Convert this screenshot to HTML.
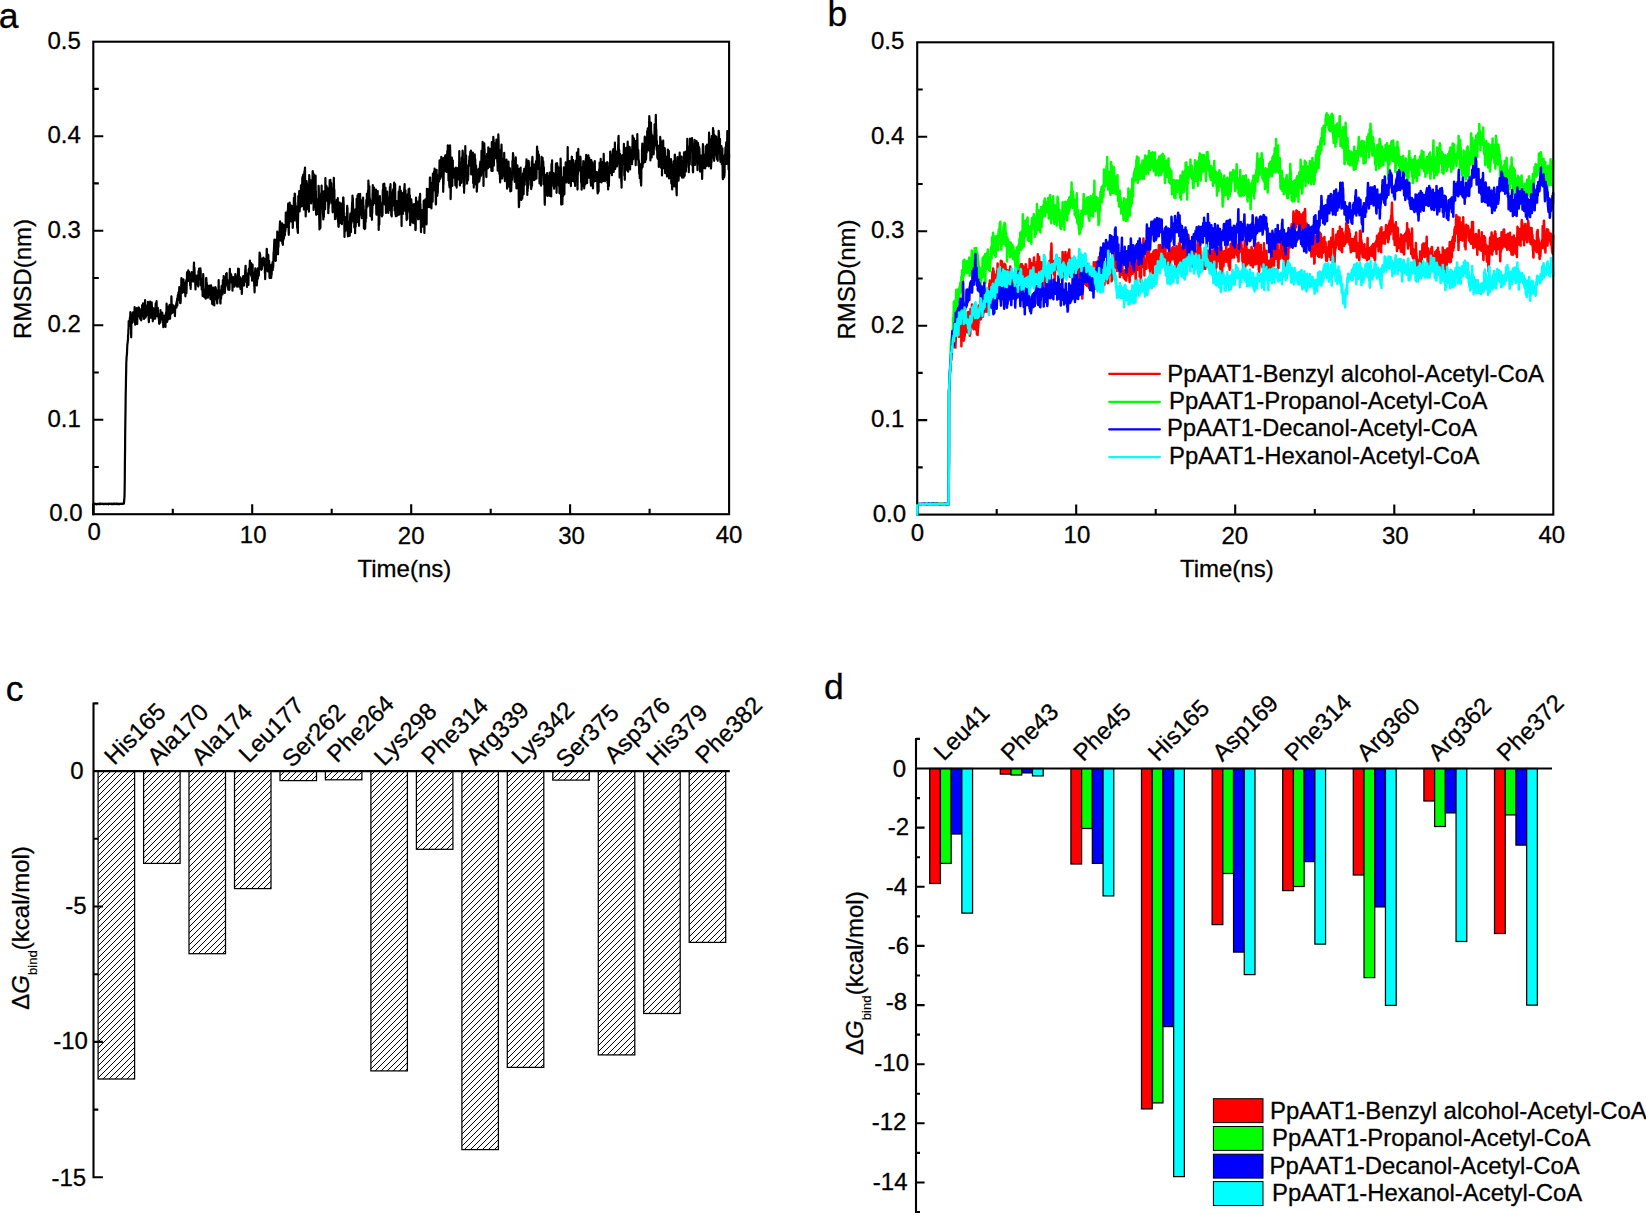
<!DOCTYPE html>
<html lang="en"><head><meta charset="utf-8"><title>Figure</title>
<style>html,body{margin:0;padding:0;background:#fff}body{width:1646px;height:1215px;overflow:hidden}</style></head>
<body>
<svg width="1646" height="1215" viewBox="0 0 1646 1215" style="display:block;font-family:'Liberation Sans', Arial, Helvetica, sans-serif" font-size="24" fill="#000">
<style>text{stroke:#000;stroke-width:0.3px;stroke-linejoin:round}</style>
<defs><pattern id="hatch" patternUnits="userSpaceOnUse" width="6" height="6"><rect width="6" height="6" fill="#fff"/><path d="M-1,7 L7,-1 M-1,1 L1,-1 M5,7 L7,5" stroke="#000" stroke-width="1.0"/></pattern></defs>
<g stroke="#000" stroke-width="2.1" fill="none" stroke-linecap="butt">
<path transform="scale(0.1)" d="M933,5142l2-104 1 0 2 1 1 0 2 1 1-1 2-2 1 1 2 1 1-1 2 0 1 0 2 1 1 0 2-1 1 2 2 0 1 2 2 0 1 1 2-2 1 1 2-2 1-1 2 0 1 3 2-1 1-1 2-1 1 2 2-1 1 1 2 0 1-2 2 1 2 0 1-2 2 1 1 1 2-1 1 0 2 2 1-1 2-2 1 2 2-1 1 0 2 1 1-3 2 0 1 3 2 0 1-1 2 0 1-1 2 1 1-1 2-1 1 2 2 0 1 0 2 0 1 2 2 0 1-1 2-1 1-1 2 2 1 1 2-2 2 3 1-1 2-1 1-2 2 0 1 1 2 0 1 0 2-2 1 1 2 1 1 0 2 0 1 0 2 2 1-1 2 0 1-2 2 0 1 0 2 0 1 1 2-1 1 0 2 0 1 2 2-1 1 3 2 1 1-1 2 0 1-1 2-4 1 2 2 1 2-1 1-1 2 1 1 0 2-1 1 0 2 1 1 0 2 0 1 1 2-1 1 1 2-2 1 0 2 0 1 1 2 0 1 2 2 0 1-1 2 2 1-3 2 2 1-2 2 1 1-2 2 0 1 2 2-2 1-2 2 1 1 1 2 1 1 1 2-2 1 1 2 0 2 1 1 0 2 1 1-2 2 0 1-1 2 0 1 1 2 0 1 1 2-1 1 1 2-1 1 2 2 0 1-3 2 1 1 1 2-1 1-2 2 2 1 0 2 1 1 1 2-2 1 0 2 0 1 0 2 0 1 0 2 0 1 2 2 0 1-2 2 0 2 0 1-1 2 1 1 0 2-1 1 1 2 0 1-1 2-1 1-1 2 1 1 1 2 2 1-2 2-1 1 1 2-1 1 0 2-1 1 0 2 1 1-1 2 2 1-1 2 0 1-8 2-22 1-18 2-20 1-46 2-150 1-150 2-150 1-150 2-146 2-143 1-91 2-83 1-79 2-82 1-74 2-30 1-26 2-15 1-7 2-45 1-29 2-35 1-1 2-16 1-11 2-17 1-43 2-10 1-36 2-28 1-66 2 54 1-44 2 3 1-9 2 36 1-9 2-55 1-6 2-12 1 11 2-59 1 13 2 104 2-7 1 55 2 88 1-73 2-116 1-14 2 43 1 19 2-72 1-10 2 3 1 7 2 0 1-31 2-6 1 8 2 49 1-34 2 30 1-52 2 67 1-5 2-14 1 51 2-102 1-49 2 54 1-16 2 1 1 136 2-41 1-14 2-12 1 39 2-15 2-11 1-67 2-3 1 9 2-52 1 53 2 28 1 80 2-100 1-34 2-21 1-6 2 32 1 9 2 17 1 9 2-9 1-65 2 6 1 31 2 36 1 21 2-79 1-1 2 16 1 35 2 50 1-22 2-58 1 24 2 0 1 6 2-9 1 74 2-23 2 15 1-74 2 30 1-41 2-58 1 35 2 37 1-12 2 9 1 40 2-40 1-87 2 44 1 23 2 47 1-29 2 44 1 26 2-86 1 43 2-52 1-52 2 17 1-2 2-57 1 55 2 58 1 64 2-25 1-78 2-20 1 64 2 31 1 8 2-33 2 9 1-9 2-15 1 17 2-2 1-9 2 7 1-25 2-79 1 13 2 36 1 88 2-36 1 78 2 24 1-91 2-43 1 9 2 81 1-11 2 8 1-54 2-103 1 29 2 53 1 56 2-16 1-5 2 43 1-33 2 33 1-75 2-50 1-28 2 50 1-8 2 26 2 26 1 13 2 50 1 32 2-67 1 1 2-13 1-51 2 92 1 15 2-30 1-33 2 16 1-53 2 12 1 59 2 24 1-62 2-26 1 90 2-86 1-23 2-45 1 48 2 25 1 52 2-130 1 36 2-52 1 58 2 10 1 82 2-13 1-59 2 66 2-69 1-8 2 61 1 9 2 9 1-9 2 14 1 23 2-6 1 27 2 31 1-37 2-61 1 64 2-23 1 18 2 28 1-64 2 15 1-77 2 56 1-21 2 21 1 29 2-35 1 7 2-29 1 14 2 52 1-6 2-12 1-50 2 39 1-7 2 70 2-55 1 35 2 62 1-38 2-75 1 73 2 14 1-7 2 15 1-55 2 20 1 10 2-56 1 22 2-38 1 36 2 33 1 44 2-127 1 13 2-23 1-4 2-7 1 0 2-86 1 70 2 73 1 18 2 22 1-81 2-46 1 43 2 47 1-27 2-88 2 129 1-67 2 24 1-77 2 49 1-8 2 52 1 7 2-94 1-32 2 33 1 40 2 64 1-30 2-31 1-14 2-14 1 44 2-17 1-20 2-71 1-70 2 46 1 58 2 2 1 21 2 21 1-17 2 34 1-50 2-7 1-20 2 11 1 30 2 26 2-20 1 6 2-34 1-3 2 55 1-35 2 36 1-4 2-18 1 60 2-55 1-36 2-13 1 3 2-5 1 21 2-15 1 1 2-29 1 43 2-37 1-26 2 4 1 6 2-38 1 71 2-51 1-24 2-20 1-13 2 35 1 3 2-45 1-18 2 3 2 74 1-44 2-55 1-29 2 7 1 92 2-61 1 10 2 111 1-61 2 45 1 16 2-24 1-89 2 8 1-20 2-83 1-42 2 43 1 32 2 59 1 14 2-38 1-26 2-5 1-48 2 59 1 1 2-39 1-10 2-30 1 3 2 30 1-4 2 48 2 55 1-63 2-10 1-23 2 77 1-12 2-2 1 11 2 60 1-42 2-70 1-25 2 26 1-12 2-39 1 130 2-44 1-49 2-40 1-65 2-12 1 20 2 24 1-9 2 47 1 8 2-39 1-68 2 52 1 16 2 5 1-47 2 34 1-45 2 74 1 9 2 7 2-36 1-38 2 94 1 28 2-37 1 22 2 47 1-79 2-24 1-23 2 28 1-51 2 26 1-45 2 59 1 32 2-33 1 27 2-45 1-7 2 60 1-10 2 10 1-51 2 40 1 11 2-66 1-79 2-43 1 54 2 29 1-34 2 44 1 67 2-5 2-18 1 47 2 58 1 27 2-77 1 16 2-12 1-23 2-34 1 24 2-32 1 49 2 8 1 29 2-75 1 7 2 37 1 3 2-5 1-42 2 76 1 21 2-17 1-136 2 1 1 43 2-8 1-62 2 60 1 40 2-43 1 7 2-3 1 44 2-72 2-35 1 24 2 12 1 133 2-40 1 15 2-18 1-24 2 30 1 80 2-44 1 22 2-3 1 10 2-4 1 84 2-99 1-18 2-44 1-60 2 41 1 107 2 26 1 30 2-12 1-31 2 71 1-54 2 42 1-47 2-15 1 10 2-5 1 13 2 13 2 57 1-39 2-99 1-67 2-3 1 22 2 74 1-49 2 33 1 26 2 18 1 1 2 30 1 7 2 37 1-5 2-114 1 35 2 30 1-23 2-17 1 61 2 2 1-38 2-3 1 7 2-56 1 55 2 6 1 24 2-68 1 109 2 8 1 2 2-56 2-31 1-51 2 96 1-43 2 21 1 26 2-34 1 41 2 79 1-28 2 31 1-14 2-52 1-28 2-74 1 36 2 76 1 8 2 15 1 28 2-58 1 9 2 66 1-79 2-13 1-27 2-5 1-25 2 11 1-47 2 5 1 4 2 3 1 81 2-9 2 5 1-18 2 58 1-96 2 9 1 61 2 61 1-30 2-27 1 18 2-29 1 18 2-49 1 30 2-12 1-52 2-100 1 94 2 26 1 35 2-53 1 49 2 7 1-24 2 27 1 13 2-8 1 60 2 8 1-37 2-56 1-17 2 61 1-22 2-70 2-34 1 7 2 36 1-47 2 32 1 43 2 13 1-92 2-8 1-44 2 49 1-33 2 42 1 10 2-108 1 7 2 66 1 15 2-9 1-45 2 51 1 85 2-12 1-23 2-17 1-63 2-2 1-23 2 74 1-40 2-85 1 11 2 23 1 15 2-56 1 83 2 13 2-13 1-19 2 39 1-14 2 21 1-5 2 8 1 52 2-25 1-43 2 51 1-5 2-36 1 47 2-29 1 41 2-72 1-90 2-47 1 69 2-1 1 21 2 15 1-58 2 89 1-43 2 18 1-54 2 26 1 45 2-12 1-29 2 17 1-12 2 35 2 92 1-77 2-30 1-4 2 8 1-33 2 44 1 36 2-4 1-58 2 72 1-64 2 30 1 40 2-84 1 16 2 56 1-3 2-61 1-50 2 47 1-8 2-17 1 51 2-14 1 10 2 32 1 14 2-17 1-2 2 23 1 7 2-61 1 4 2-30 2-33 1 6 2-66 1 86 2-20 1 42 2-69 1-38 2 140 1 39 2-46 1-30 2-16 1 31 2-5 1-6 2 16 1-38 2 117 1-51 2 38 1-65 2 12 1 35 2-27 1 36 2 25 1 47 2-36 1-48 2-54 1 26 2-45 1 16 2 15 2-20 1-34 2 34 1 19 2 10 1-10 2 43 1-63 2 18 1-26 2 37 1-31 2-22 1 21 2-90 1 15 2-53 1-3 2 64 1 27 2-17 1 7 2 2 1 8 2 72 1-25 2 72 1-75 2 3 1 0 2-22 1-42 2 51 1 37 2-9 2 38 1-28 2-125 1 41 2-51 1 58 2-42 1 2 2-8 1-33 2-57 1 26 2 27 1 60 2-27 1 18 2-39 1 24 2-66 1 122 2 8 1-52 2 25 1 36 2 1 1 36 2-33 1-114 2-12 1 90 2 45 1 7 2-52 1 43 2 24 2-48 1-28 2 37 1 50 2 50 1-4 2 63 1-90 2-1 1-41 2-86 1-23 2 92 1-34 2-32 1 65 2 40 1-16 2 52 1-99 2 104 1-2 2-29 1-24 2-36 1-25 2 2 1-57 2 103 1-34 2 13 1-31 2-23 1 35 2 7 2-54 1-20 2 27 1-105 2-76 1 122 2-12 1-97 2 14 1 24 2 40 1 32 2 5 1 18 2-44 1 19 2 14 1 37 2-32 1 25 2-19 1-67 2-7 1-11 2-4 1 11 2 19 1 17 2-42 1 62 2-73 1 6 2 36 1 18 2 20 1-30 2 29 2-68 1 48 2 96 1-2 2 61 1-55 2-90 1-32 2 80 1 16 2-111 1 5 2 19 1-40 2-94 1 1 2 54 1 24 2 4 1 64 2 57 1-16 2 38 1-23 2-20 1-123 2 90 1 12 2 15 1-19 2-39 1 45 2 43 1 72 2 12 2-67 1-14 2 36 1 1 2-15 1-36 2 30 1-5 2 70 1 0 2-134 1 109 2-23 1-50 2-6 1 20 2-35 1-22 2-19 1 81 2-36 1 12 2-6 1-42 2-55 1-52 2 32 1-51 2-45 1-24 2-37 1 57 2 37 1-38 2 90 2-21 1 16 2 0 1 72 2-3 1-59 2-88 1-65 2 26 1 19 2 38 1-37 2 10 1-36 2-100 1 36 2 102 1 26 2 49 1 15 2-133 1-17 2 77 1-69 2-73 1 36 2 42 1 2 2-31 1-29 2-59 1-30 2-28 1-17 2 32 2 134 1 0 2-26 1 28 2-65 1 41 2 53 1-102 2-18 1 7 2-32 1-33 2 18 1 181 2 6 1-13 2 23 1-59 2-84 1 36 2 56 1-149 2 60 1 76 2-39 1-41 2 43 1-68 2 37 1 38 2-27 1-55 2 43 1-24 2 1 2-167 1 105 2-59 1 48 2 30 1-34 2-31 1-55 2 29 1 77 2 33 1-46 2-38 1-79 2 21 1-36 2-54 1 53 2 131 1 75 2 53 1-167 2 63 1-94 2-22 1-87 2-16 1 73 2 42 1 2 2 4 1 41 2-18 1-116 2 138 2-25 1 49 2-44 1-66 2 16 1-62 2 123 1-91 2 51 1-45 2 3 1 178 2-14 1-69 2-120 1 6 2 3 1 115 2-123 1-98 2 64 1 51 2 112 1-97 2-172 1 23 2-16 1 45 2 120 1-80 2 120 1 7 2-29 1-54 2-5 2-3 1 78 2 78 1-30 2 33 1 47 2 13 1-43 2 65 1 8 2 15 1-120 2-80 1-168 2 133 1 20 2-91 1 12 2 22 1-144 2 55 1 94 2 52 1-88 2-46 1 70 2 26 1-98 2-71 1 56 2-71 1-38 2 137 1-17 2-70 1 32 2 127 2-58 1-98 2-128 1 203 2-216 1 134 2-68 1-64 2-22 1 51 2 127 1-53 2 60 1 166 2-277 1-4 2-102 1 138 2-85 1-60 2-29 1 102 2 145 1 15 2 159 1 67 2-93 1 19 2-43 1-31 2-154 1-53 2 67 1-44 2 122 2 30 1-69 2 110 1-2 2 69 1-62 2-143 1 85 2-22 1 63 2 61 1 42 2-182 1-183 2 29 1 101 2-45 1 46 2-61 1 2 2 2 1-25 2 57 1 30 2 116 1-25 2 56 1-64 2 29 1-53 2-70 1 108 2 10 1 15 2-124 2-153 1-22 2 86 1-75 2 178 1-117 2 104 1 214 2-272 1-85 2 148 1 1 2 36 1 0 2 129 1 12 2-85 1-26 2-87 1 40 2-155 1 147 2 10 1 171 2 63 1-162 2 77 1-62 2 7 1 81 2 2 1 11 2 11 1-85 2-37 2 78 1 72 2-43 1 3 2-87 1-156 2 36 1 103 2 72 1 94 2 75 1 57 2-18 1-7 2-88 1 38 2-14 1 74 2-163 1-30 2-111 1 11 2-56 1 99 2-18 1-157 2 203 1-68 2-77 1 54 2 7 1-44 2 123 1-10 2 86 2 38 1 27 2-30 1-45 2-53 1 103 2-194 1-57 2-10 1 84 2 17 1-43 2-14 1 141 2-97 1-215 2 221 1-80 2-3 1 35 2-99 1 135 2-14 1-114 2 56 1 57 2-7 1 39 2-126 1 106 2-77 1 107 2-82 1 7 2 190 2-87 1 37 2-31 1-170 2 103 1 60 2-154 1 9 2-97 1 26 2 110 1 2 2-100 1-42 2 53 1 26 2 37 1 65 2-147 1 44 2 132 1 21 2-86 1-35 2 28 1 53 2-18 1 108 2 44 1-125 2 18 1-48 2-85 1-3 2 28 2-130 1 33 2 103 1-23 2 15 1 108 2 1 1 25 2 152 1-49 2-31 1-5 2 83 1-43 2-45 1-29 2 73 1-76 2 90 1-32 2-130 1 70 2 36 1-90 2 55 1 29 2-30 1-88 2 209 1 21 2 27 1 25 2 6 1-3 2-89 1 38 2-44 2-51 1 67 2-36 1-125 2 23 1 90 2 13 1 78 2-35 1-83 2 83 1 3 2-112 1 64 2-18 1 84 2 27 1-6 2-203 1 72 2 50 1 26 2 4 1-65 2-3 1-140 2 64 1-65 2 55 1 7 2 159 1 5 2-5 1 20 2 152 2-136 1 11 2 9 1-7 2-21 1-54 2 101 1 34 2-69 1-32 2 22 1 31 2 23 1-38 2-112 1 98 2-132 1-39 2 75 1-52 2 159 1 101 2 22 1-61 2-35 1 4 2-54 1 139 2-103 1 77 2-19 1-34 2 35 1 46 2-20 2-68 1-90 2-43 1 75 2 33 1 25 2-84 1 135 2-163 1 42 2 34 1-65 2-84 1-1 2-55 1 26 2-62 1-37 2 81 1-58 2 58 1 37 2 99 1 11 2-77 1 109 2-80 1-29 2-10 1 178 2-51 1-74 2 46 1-23 2 159 2-128 1 16 2-101 1 148 2-110 1 4 2-75 1 83 2 20 1-201 2 108 1 66 2 4 1 55 2-143 1-121 2 109 1 133 2-130 1-74 2-24 1-30 2 119 1 21 2 106 1 71 2-141 1 30 2-192 1 52 2 76 1-49 2-96 1 32 2 148 2-30 1-92 2 79 1 70 2-89 1 12 2 92 1-2 2 23 1-65 2-3 1-86 2-21 1 152 2-45 1-79 2-13 1-45 2 85 1 83 2-87 1 88 2 138 1-147 2 40 1-11 2 80 1 30 2 16 1-66 2-93 1 150 2-142 1 51 2 27 2-107 1-15 2 86 1-182 2 81 1-32 2-16 1-98 2 79 1-69 2 87 1-78 2 79 1 31 2-159 1 22 2 22 1-144 2 47 1 120 2-50 1 113 2-114 1-60 2 87 1 59 2-23 1 4 2 71 1-59 2 161 1-31 2-8 1-29 2-52 2 81 1-85 2 5 1 41 2 80 1 35 2-100 1 36 2-57 1-105 2-57 1-63 2 91 1 110 2-82 1-3 2-66 1 48 2-64 1-9 2 17 1 23 2 24 1 22 2 22 1-43 2 91 1-115 2 68 1-45 2 52 1 46 2-142 1 90 2 126 1 26 2 8 2-185 1 31 2-41 1 132 2-27 1-44 2-102 1 135 2-20 1 17 2 100 1-5 2 1 1 160 2-115 1-63 2 40 1 85 2-166 1-1 2-62 1-57 2 105 1-49 2 67 1 15 2 3 1 10 2-76 1 27 2 25 1 29 2-30 1 66 2 12 2-30 1 22 2-29 1 26 2-193 1-59 2 32 1 48 2-139 1 68 2 60 1 15 2 7 1-87 2 60 1-128 2 146 1-44 2 105 1-140 2 76 1 25 2-64 1-62 2 133 1 25 2 92 1-60 2-16 1 6 2 24 1-9 2 27 1-69 2-117 2 180 1-10 2 10 1-67 2 71 1-12 2 43 1-105 2-12 1 2 2-41 1 33 2 95 1-86 2-31 1 20 2-77 1-56 2 133 1 50 2-141 1-72 2 106 1 107 2 15 1 4 2 80 1-71 2 54 1 28 2-137 1 37 2-28 1-66 2-47 2 57 1 7 2 66 1-153 2-10 1 128 2-9 1-49 2 1 1-112 2-23 1 127 2 46 1 106 2-40 1-24 2-200 1 78 2 214 1 13 2-52 1 66 2 2 1-32 2-72 1-5 2 50 1-93 2 47 1 8 2 90 1 0 2-108 1 103 2-46 2-89 1 29 2-23 1 82 2-129 1-60 2 21 1 169 2 41 1-120 2-132 1 27 2-56 1 110 2 36 1 9 2-30 1 121 2-114 1-90 2 126 1 102 2-59 1 36 2 149 1-140 2-31 1 17 2-175 1 47 2 73 1-12 2 79 1 20 2-66 2 17 1 18 2-145 1-32 2-12 1 1 2 19 1-63 2 67 1-103 2 142 1 35 2 91 1-11 2-74 1-119 2 91 1 5 2 32 1 49 2 66 1-53 2 107 1-81 2-30 1 16 2 35 1 49 2-204 1 120 2-151 1-14 2 61 1 104 2-108 2-105 1 133 2 45 1-74 2 5 1-115 2 125 1-13 2 131 1-177 2 126 1 173 2-50 1-15 2-158 1 64 2 25 1-28 2-96 1 71 2-42 1 23 2 68 1 6 2 9 1 90 2-116 1 124 2-109 1-62 2 57 1 65 2 10 1-59 2-49 1 13 2-51 2 83 1-12 2 122 1-90 2-15 1 30 2-94 1-17 2 252 1-69 2 67 1-138 2-184 1 100 2 30 1 36 2-18 1-25 2-71 1 128 2-123 1 102 2-18 1-83 2-20 1 118 2 57 1 3 2-21 1-102 2 121 1-57 2-43 1-28 2-15 2-80 1 36 2-12 1 24 2-78 1 216 2-116 1 52 2 41 1 66 2 124 1-41 2-14 1-94 2 100 1-151 2-19 1 28 2 54 1 31 2 48 1-7 2-59 1-16 2 84 1-32 2 18 1-62 2-173 1-10 2 54 1 135 2 66 1 68 2-141 2 15 1-70 2 26 1-37 2-128 1 75 2 24 1 43 2-90 1 81 2 48 1 39 2 30 1-122 2-234 1 117 2-75 1 12 2 101 1-7 2-1 1 37 2-181 1 173 2-70 1-36 2 50 1-25 2-65 1 16 2-11 1-27 2 175 1-143 2-151 2 8 1-10 2 176 1 13 2 52 1 16 2-103 1 57 2-15 1 114 2-63 1-57 2 26 1 24 2-188 1 118 2 55 1 17 2-135 1-145 2 36 1 93 2 40 1-90 2 84 1-114 2-68 1 65 2-17 1-15 2-65 1 162 2-75 1 64 2 72 2-21 1 5 2 70 1 81 2-4 1-173 2-140 1 7 2-36 1 102 2 25 1-14 2 97 1 50 2-58 1-12 2 42 1-73 2-8 1-103 2 16 1 26 2-21 1 0 2 48 1 0 2-85 1-43 2-84 1 168 2 13 1 5 2-45 1 28 2 8 2-89 1-12 2 89 1-144 2-56 1 84 2-68 1 83 2-88 1 51 2 61 1 5 2 28 1-54 2-32 1-7 2 41 1 246 2-131 1 57 2-115 1-136 2-14 1 32 2 18 1-2 2 25 1 24 2 36 1-118 2 14 1-55 2 50 1 8 2 28 2-38 1-48 2 20 1 81 2 65 1-146 2 43 1 40 2-111 1-33 2 15 1 79 2-153 1 65 2 24 1 59 2 134 1 71 2-81 1-37 2 15 1 79 2 72 1-38 2 58 1-135 2-103 1-183 2 49 1 131 2 102 1 256 2-63 1-64 2-129 1-54 2-28 2 22 1-21 2-79 1 144 2 46 1 94 2-169 1-77 2-8 1 147 2-16 1 21 2-11 1 26 2-44 1 49 2-78 1-5 2 31 1 7 2 35 1-80 2 37 1-24 2 45 1 108 2-118 1 66 2-82 1-44 2 119 1 38 2-14 1 21 2 37 2-118 1 1 2-52 1 28 2-36 1 58 2-19 1-56 2 3 1 42 2 68 1-41 2-47 1 9 2 48 1-60 2-193 1 97 2 28 1 3 2 215 1-71 2 12 1-147 2 34 1 72 2 1 1-34 2 29 1-11 2 89 1-37 2-82 1-134 2 6 2 33 1-45 2-3 1-59 2 15 1 87 2 27 1 19 2-1 1 11 2 72 1 135 2-23 1 79 2-99 1-64 2 87 1-116 2-87 1 8 2-112 1-85 2 170 1-59 2 6 1 15 2-37 1 93 2 45 1 44 2 26 1-30 2 79 1 24 2-104 2-26 1-40 2 129 1 10 2-20 1-47 2 11 1-99 2 9 1-1 2 2 1-56 2 45 1-81 2-6 1 23 2 23 1-35 2-34 1-20 2 40 1-17 2 46 1-81 2 60 1 178 2-146 1 12 2 98 1-21 2 45 1-194 2 1 1 166 2-57 2 31 1-154 2 137 1 169 2-69 1-10 2-4 1 127 2-113 1-150 2 177 1-127 2 64 1-184 2 36 1 72 2-60 1 15 2 95 1-39 2 66 1 117 2-188 1 56 2 54 1-43 2 121 1 72 2-38 1-8 2-53 1-100 2 60 1-39 2-41 2 97 1-33 2 60 1-109 2-24 1 17 2 106 1-39 2 39 1-88 2 7 1 60 2-108 1-41 2 65 1-90 2 46 1 46 2-26 1 57 2 17 1-17 2-150 1-83 2 89 1-87 2 59 1 17 2-32 1 24 2-158 1 76 2 141 1-91 2 74 2 26 1 214 2-155 1-91 2-56 1-41 2-82 1 78 2-23 1 112 2 39 1-82 2 6 1 125 2-42 1 8 2 52 1-57 2 18 1 87 2 16 1-191 2 115 1-57 2-63 1-37 2 113 1-9 2-38 1-68 2 68 1 78 2-120 1-89 2 14 1 76 2-28 2 7 1-55 2 121 1-18 2 12 1 65 2-56 1-22 2 25 1-44 2 103 1-33 2-52 1-24 2-78 1 131 2 91 1-75 2-52 1-159 2 17 1 117 2-57 1 100 2 111 1-249 2 23 1-17 2 1 1-100 2 66 1-40 2 152 1 110 2-148 2-78 1 17 2 34 1 26 2 78 1-111 2 0 1 4 2 9 1-37 2 25 1-23 2 130 1-44 2-142 1 115 2 36 1-47 2-46 1 2 2 166 1-49 2 98 1 35 2-86 1 15 2-72 1-219 2 45 1 23 2 141 1 73 2 71 1-5 2 48 2-5 1-33 2 35 1 53 2 34 1-115 2-46 1-102 2-63 1 63 2-30 1 140 2-199 1-26 2 85 1 133 2-39 1 147 2 13 1-113 2-11 1 36 2-85 1 100 2-49 1 38 2 46 1-61 2 70 1-171 2 82 1-139 2 143 1-50 2 112 2 78 1-62 2-92 1 89 2-125 1 70 2-19 1-31 2-36 1 156 2-153 1-11 2 61 1 81 2 113 1 35 2-127 1-2 2 55 1-2 2-167 1 51 2 54 1-114 2-18 1 33 2 74 1 107 2 37 1-38 2-28 1-53 2-51 1-9 2-6 2 82 1 149 2-33 1 11 2-22 1-40 2 53 1 26 2-68 1-59 2 9 1-68 2 3 1 74 2-34 1-154 2 97 1-73 2-60 1-46 2 148 1-128 2 68 1 68 2 31 1-38 2 19 1 30 2-90 1 92 2 88 1-93 2-54 1-61 2 133 2-71 1-1 2-97 1 162 2-7 1 35 2 109 1 11 2-138 1 36 2 52 1-92 2-58 1-30 2 122 1 23 2-75 1 85 2 55 1-75 2-101 1 142 2 201 1 41 2-16 1-74 2-93 1-1 2 36 1-50 2 66 1-35 2 13 1-231 2-11 2 136 1 75 2 8 1 105 2-17 1-15 2-132 1 14 2 39 1 69 2 28 1-67 2-33 1-115 2 58 1-95 2 2 1 8 2 148 1 51 2-122 1-116 2 21 1-37 2 72 1 42 2 45 1-102 2-9 1 37 2 22 1-52 2-16 1 71 2-136 1 20 2 35 2-97 1-27 2 76 1-14 2 123 1 30 2 140 1-168 2 134 1-114 2 42 1 40 2-41 1-49 2-61 1-123 2 42 1-23 2 104 1-25 2 20 1 56 2-1 1 2 2-29 1-37 2 43 1 39 2-85 1 134 2-6 1-168 2 216 1-17 2-105 2 100 1-255 2 241 1-161 2-109 1-16 2 70 1-4 2 103 1-70 2 97 1-9 2-105 1 110 2 3 1-42 2 80 1-143 2-13 1 128 2-27 1 28 2 19 1-56 2 24 1-110 2 72 1-86 2 17 1-45 2 72 1 39 2 65 1-88 2-80 2-133 1-20 2 65 1 68 2 0 1 23 2-83 1-25 2 122 1 54 2-115 1 6 2 39 1-72 2 72 1 37 2 35 1 144 2-127 1 79 2 4 1 15 2-91 1-9 2-9 1 111 2-37 1 85 2-87 1-44 2-6 1-150 2 23 1 6 2 38 2 38 1-60 2-35 1 147 2-73 1-9 2-30 1 20 2 127 1 81 2-171 1 15 2 133 1-60 2 29 1 132 2 104 1 24 2-128 1-61 2-17 1-46 2-48 1 175 2-28 1 19 2 35 1-30 2-42 1-12 2 74 1-13 2-196 1 110 2 119 2-72 1-72 2-22 1 104 2-94 1 73 2 77 1-7 2-36 1-83 2-43 1 24 2-54 1 19 2-47 1 143 2 91 1-113 2 86 1-28 2-27 1 3 2 11 1-141 2 214 1-132 2-192 1 55 2 41 1-34 2-100 1 168 2 8 1 20 2-47 2 13 1-36 2 54 1-2 2 57 1 24 2-15 1-18 2 58 1-151 2 25 1 106 2-121 1 69 2-53 1 13 2-19 1-9 2 55 1-10 2-155 1 221 2-40 1-51 2 78 1 83 2-198 1 55 2-153 1 37 2 57 1 1 2-15 1-48 2 22 2 42 1 21 2-74 1 1 2 128 1 52 2-43 1 53 2 7 1 60 2-21 1-44 2-70 1 23 2-132 1 79 2-182 1 38 2 65 1 116 2 241 1-52 2-62 1-161 2 160 1-149 2 62 1-31 2 229 1-66 2-12 1-89 2-1 1 87 2-113 1-48 2-28 2-61 1-37 2 55 1 133 2 81 1-159 2-42 1 23 2 35 1-11 2-17 1 17 2 33 1-198 2 19 1 80 2 85 1 16 2-106 1-77 2 36 1-8 2 31 1 73 2-132 1-13 2-156 1 149 2 38 1-42 2 59 1 112 2 42 1-50 2-44 2 1 1-78 2-48 1 23 2 23 1 45 2-23 1-48 2 34 1-8 2 62 1 105 2 37 1-108 2-32 1-112 2 48 1-40 2-50 1 1 2 113 1 43 2-4 1 89 2-58 1-75 2 66 1-140 2 87 1 43 2 32 1 50 2-51 1 11 2-123 2-5 1 6 2 57 1 122 2-21 1 50 2-113 1 1 2-124 1-7 2-12 1 40 2 23 1-17 2-33 1 109 2-24 1-178 2 99 1 85 2 73 1 114 2-147 1-2 2-20 1-121 2-117 1 179 2-38 1 14 2 21 1 3 2 37 1-88 2 28 2 29 1-46 2-7 1 20 2 18 1-92 2 32 1 56 2 97 1 18 2 59 1-47 2-37 1 151 2-65 1-83 2-21 1 75 2-130 1 66 2 90 1 32 2-53 1-116 2-81 1 24 2 114 1 35 2 34 1-34 2 101 1-83 2-82 1 3 2-34 2 75 1 82 2-14 1-135 2-92 1 67 2-84 1 68 2-107 1 20 2 74 1-39 2 88 1 68 2 72 1-78 2-20 1-16 2 23 1-121 2 57 1 70 2-116 1-77 2 38 1 171 2 15 1-75 2-2 1-121 2 142 1-64 2 63 1-104 2 42 2-60 1 87 2 111 1 37 2-6 1 29 2-145 1-110 2 34 1 109 2-4 1 43 2-146 1 0 2-13 1 68 2 155 1 7 2 29 1-93 2-30 1 43 2-10 1-150 2 101 1 71 2-21 1 21 2-1 1-68 2-135 1 188 2-24 1-8 2 7 2 9 1 27 2-88 1 55 2 18 1-8 2-5 1 13 2-77 1 32 2 5 1 28 2 84 1 40 2 27 1-77 2 33 1 35 2-74 1-63 2 127 1-183 2 18 1 21 2-77 1 34 2 65 1-168 2 145 1 17 2-66 1 98 2-12 1-38 2-180 1 138 2 16 2-47 1 23 2 106 1-53 2-7 1-44 2-77 1-23 2 21 1 25 2 110 1-3 2-26 1 28 2-22 1 56 2-141 1-130 2 106 1 14 2 50 1-80 2 15 1 29 2 50 1 1 2 87 1-80 2 58 1-61 2-9 1-68 2 32 1-53 2 110 2-49 1 26 2-18 1-11 2-66 1 182 2-65 1 90 2-155 1 145 2 20 1 56 2-213 1 89 2-47 1 31 2 105 1-55 2-105 1 12 2-85 1 55 2-14 1 25 2-32 1-145 2 34 1 25 2 76 1 61 2-137 1 118 2 42 1-32 2 10 2-165 1 204 2-83 1-65 2 81 1 18 2-69 1-131 2 110 1 105 2-123 1-105 2 55 1 174 2-159 1 24 2-81 1 34 2 41 1 29 2-118 1-64 2 219 1 47 2-186 1 61 2 103 1-36 2-8 1-15 2 24 1 9 2 15 1-56 2 63 2-12 1-17 2-112 1-7 2 28 1-28 2-5 1-62 2 4 1-80 2-16 1 94 2 87 1-35 2-4 1 47 2 131 1 98 2-93 1-88 2-56 1 126 2-96 1 54 2-32 1-28 2 84 1 32 2 139 1-6 2 64 1-140 2-56 1-98 2-28 2 55 1-40 2 37 1-46 2-12 1 91 2-18 1-15 2 25 1-89 2-103 1 91 2 47 1 179 2-62 1-17 2 121 1-104 2-87 1 55 2-11 1 42 2-100 1 111 2-31 1-194 2 36 1-11 2 46 1 92 2-29 1-64 2 75 1-55 2-98 2-54 1 175 2 49 1 76 2-150 1-53 2-50 1 79 2 77 1-51 2-43 1 55 2-43 1-57 2-8 1 88 2 133 1-56 2-59 1-3 2 11 1 17 2-90 1 5 2-19 1 68 2 20 1-47 2 51 1 49 2-35 1-140 2-8 1-102 2 67 2 46 1 109 2 14 1-150 2-8 1-22 2-28 1 52 2 49 1 4 2-43 1-10 2-4 1 15 2 81 1 6 2 43 1-108 2 183 1-35 2-208 1 74 2 105 1-12 2-100 1 46 2-28 1 37 2 42 1-231 2 91 1 98 2 64 1-28 2-25 1-44 2 23 2 135 1-59 2 16 1 12 2 101 1 6 2 13 1-34 2 71 1-65 2-38 1 70 2-11 1 13 2-108 1 186 2-46 1 73 2-57 1-144 2 20 1-40 2 49 1-181 2-39 1-28 2 169 1 65 2-119 1 12 2 16 1-44 2 99 1-97 2-12 2-43 1 65 2-57 1 63 2-81 1-71 2-35 1 8 2 5 1 240 2-121 1 14 2-7 1 7 2 84 1-14 2-86 1-106 2 73 1 63 2-138 1 92 2-168 1 52 2 99 1-76 2-104 1 171 2-128 1 57 2-90 1 68 2 143 1-77 2-84 2-143 1-40 2 36 1 86 2 67 1 41 2 60 1-9 2 163 1-111 2-40 1-226 2 1 1 104 2-13 1 125 2 26 1 105 2-176 1-49 2 116 1 1 2-83 1-20 2 1 1 98 2 36 1-42 2-78 1 88 2 77 1-136 2 80 1-104 2-5 2-51 1-84 2 19 1 4 2 129 1 57 2-56 1-100 2-46 1-102 2 95 1 61 2-13 1 62 2 46 1 101 2-91 1 101 2-56 1 123 2-127 1 90 2-85 1 135 2-14 1-118 2 71 1-28 2 19 1 149 2-102 1-59 2 67 1-85 2 52 2 46 1-42 2 31 1-209 2 157 1-61 2-64 1 185 2 91 1-112 2 6 1-61 2-92 1 71 2 85 1 180 2-101 1 17 2-69 1-44 2 88 1-166 2-58 1-14 2 141 1 40 2 28 1 10 2 56 1-77 2-35 1-27 2 47 1-109 2 23 2 227 1-15 2-52 1-100 2 28 1 10 2 43 1-76 2 39 1 46 2 32 1-82 2 41 1 121 2-105 1 42 2-67 1-32 2-79 1-30 2 99 1 35 2 110 1-156 2 4 1-79 2 94 1 182 2-151 1 23 2-4 1 24 2-45 1-3 2 151 2-121 1 70 2 39 1-151 2-26 1 82 2 162 1-46 2-59 1 3 2 97 1 23 2 43 1-90 2-89 1-73 2 91 1-16 2-33 1 62 2 18 1-152 2 47 1-26 2 75 1 17 2 139 1-47 2-121 1-136 2-16 1 16 2 66 1 89 2 29 1-49 2 77 2-94 1 95 2 109 1 5 2 45 1 20 2-189 1-8 2-36 1-89 2-61 1 96 2-66 1 18 2 40 1-2 2 133 1 18 2-33 1-70 2 19 1 5 2-81 1-79 2 0 1-43 2 97 1 58 2-14 1 36 2 40 1-138 2 59 1 94 2-55 2-127 1 47 2-55 1 96 2 61 1 52 2-11 1-155 2 130 1-125 2 109 1 7 2-73 1-34 2 6 1 146 2-63 1 46 2-235 1 61 2 12 1 100 2-2 1 63 2-136 1 6 2-58 1 50 2 20 1-123 2 98 1 101 2-96 1 57 2-26 2-109 1 61 2-85 1 60 2-123 1-67 2 95 1 40 2 69 1-37 2-90 1 129 2-99 1 107 2 37 1 83 2-231 1 7 2-11 1 65 2-89 1 182 2-65 1-193 2 76 1 8 2-39 1 82 2 0 1-66 2-7 1-4 2 53 1-18 2 4 2-90 1-5 2 71 1 202 2-111 1-64 2 89 1 146 2 9 1-134 2 64 1-17 2-51 1-110 2 30 1 20 2 48 1-129 2-45 1 67 2 144 1 39 2-82 1 56 2-94 1-18 2-16 1-23 2-8 1 108 2 23 1-185 2 150 1 38 2-91 2 41 1 74 2 79 1-93 2-92 1-87 2 45 1-30 2 133 1-10 2 61 1-35 2-64 1-58 2 118 1-103 2 74 1 87 2-17 1 86 2-62 1-55 2 1 1-47 2 39 1-3 2 122 1-48 2 33 1-6 2-27 1-45 2 115 1 57 2-68 2-94 1-50 2-67 1-70 2 18 1 50 2 100 1 69 2 2 1-57 2-23 1 1 2 17 1-53 2-2 1-14 2-5 1 67 2 73 1-70 2-44 1 37 2 26 1-172 2 110 1 25 2-23 1 87 2-41 1-145 2-27 1-1 2 7 1 38 2-33 2 51 1 57 2-3 1-62 2 9 1-23 2 176 1-133 2-171 1-33 2 114 1 100 2-31 1 67 2-71 1 53 2-86 1-79 2 208 1-54 2 47 1 91 2-14 1-39 2-120 1 113 2-122 1-143 2 22 1 24 2 51 1 110 2-62 1-36 2-39 1-150 2 35 2 39 1-49 2 190 1 92 2-5 1 26 2-87 1 26 2-133 1-61 2 13 1 95 2-15 1-11 2 112 1-27 2-45 1 14 2-99 1-23 2 130 1 8 2 69 1-54 2 73 1-90 2-29 1-44 2 47 1 131 2-166 1 40 2-89 1 14 2-11 2-88 1 56 2-37 1 188 2-55 1 50 2 17 1 2 2-25 1-115 2 211 1-24 2 44 1-111 2 60 1-36 2 38 1-57 2-54 1 70 2 7 1 106 2-62 1-74 2 63 1-86 2 186 1 101 2 21 1-45 2-61 1-33 2-14 1-66 2 62 2 85 1 54 2-214 1 200 2-41 1-143 2-30 1 89 2-16 1-82 2-64 1 114 2-50 1-2 2-59 1-52 2 84 1 132 2-50 1-143 2-2 1 16 2-151 1 173 2-41 1 89 2 3 1-2 2-111 1 117 2 49 1 107 2-102 1 7 2-57" stroke="#000" stroke-width="22.0" stroke-linejoin="round"/>
<rect x="93.3" y="41.7" width="635.8" height="472.5"/>
<path d="M172.8,514.2 v-5.5 M252.2,514.2 v-10 M331.7,514.2 v-5.5 M411.2,514.2 v-10 M490.7,514.2 v-5.5 M570.1,514.2 v-10 M649.6,514.2 v-5.5 M93.3,467.0 h5.5 M93.3,419.7 h10 M93.3,372.5 h5.5 M93.3,325.2 h10 M93.3,278.0 h5.5 M93.3,230.7 h10 M93.3,183.4 h5.5 M93.3,136.2 h10 M93.3,88.9 h5.5"/>
<path d="M93.3,515.25 V503.8" stroke="#000" stroke-width="2.3"/>
</g>
<g text-anchor="end">
<text x="82.60000000000001" y="521.2">0.0</text>
<text x="80.9" y="426.7">0.1</text>
<text x="80.9" y="332.2">0.2</text>
<text x="80.9" y="237.7">0.3</text>
<text x="80.9" y="143.2">0.4</text>
<text x="80.9" y="48.7">0.5</text>
</g>
<g text-anchor="middle">
<text x="94.3" y="540.4">0</text>
<text x="253.2" y="543">10</text>
<text x="411.2" y="544.3">20</text>
<text x="571.6" y="543.8">30</text>
<text x="729.1" y="543">40</text>
<text x="404.4" y="577">Time(ns)</text>
</g>
<text transform="translate(31.3,279) rotate(-90)" text-anchor="middle">RMSD(nm)</text>
<text x="-1.2" y="27.7" font-size="35.5">a</text>
<g stroke="#000" stroke-width="2.1" fill="none" stroke-linecap="butt">
<path transform="scale(0.1)" d="M9172,5146l2-103 1 0 2 2 1-2 2 1 1 0 2 3 1-2 2-3 1 3 2-3 1-1 2 1 1 2 2-3 1 0 2 0 1 0 2 2 1-2 2 2 1-2 2 2 1 1 2 1 1-3 2 3 1 0 2-2 1-1 2-3 1-2 2 1 2 0 1 4 2 0 1 0 2 0 1 2 2 0 1 0 2-3 1 0 2 0 1 1 2-1 1 1 2 0 1 2 2-2 1-1 2-1 1 0 2 0 1-2 2 1 1 2 2 2 1-2 2-2 1 0 2-1 1 1 2 3 1 1 2 2 1-1 2 0 2-1 1-1 2 2 1-3 2-1 1 2 2-1 1-1 2 0 1-1 2 0 1-1 2 0 1 2 2-1 1 0 2 0 1 1 2 2 1 0 2 0 1-1 2 0 1-1 2 0 1 0 2-2 1-1 2 2 1 0 2 1 1 1 2 0 2 0 1 2 2 3 1-3 2-2 1 1 2-1 1 1 2-1 1 1 2 0 1 0 2 3 1-2 2-1 1 3 2-3 1 0 2-1 1 0 2 0 1 2 2 0 1-1 2-4 1-1 2 2 1 2 2 0 1 0 2 1 1 1 2-3 2-1 1 3 2 3 1 0 2-2 1-2 2 1 1 2 2-1 1-1 2-1 1 1 2-1 1 0 2 2 1-1 2 2 1-3 2-1 1 2 2-1 1-2 2 4 1 0 2-3 1 2 2 0 1 2 2-1 1 3 2 1 1-2 2-2 2-1 1-1 2-2 1-1 2 0 1 2 2 0 1-5 2-1 1 1 2 1 1 0 2 2 1-2 2 2 1 1 2-2 1 4 2-1 1 3 2 0 1-1 2 0 1-1 2 0 1 0 2 1 1 0 2 1 1-3 2 2 1-3 2 1 1 0 2-2 2 1 1 3 2 0 1 0 2 0 1-158 2-282 1-685 2-31 1-37 2-30 1-40 2-39 1-21 2-16 1-41 2-16 1-18 2-21 1-4 2-14 1 3 2 9 1-17 2-66 1-50 2 5 1-3 2-17 1-35 2 2 1 25 2 14 2-44 1-101 2 58 1 96 2-58 1-15 2-24 1-55 2 13 1 66 2 78 1-40 2 30 1-60 2 46 1-14 2 41 1-40 2-22 1-63 2-91 1 34 2 49 1-102 2 4 1-8 2 6 1-41 2-20 1 7 2 1 1 74 2 47 2 1 1-4 2 0 1-17 2-3 1 15 2 65 1-100 2-33 1 51 2-43 1-13 2 5 1 94 2 31 1-19 2-130 1 58 2 21 1 38 2-1 1-49 2 95 1 89 2-128 1-47 2 9 1-67 2-28 1 139 2-17 1-79 2 45 1 9 2-49 2 35 1 70 2 4 1 49 2-79 1 75 2-101 1 71 2-48 1 40 2-23 1-78 2-54 1-38 2 38 1 15 2 2 1-22 2 42 1-60 2 20 1-40 2 7 1 1 2 71 1 17 2 59 1-2 2-7 1-68 2 73 1-195 2 46 2-34 1-15 2 176 1-8 2-89 1 133 2-69 1 38 2-2 1-39 2 97 1-41 2 14 1 11 2-69 1-183 2 33 1 13 2 36 1 61 2-21 1-78 2 17 1-21 2 38 1-123 2 146 1-12 2-21 1-1 2 73 1 46 2-39 2-25 1 57 2 25 1-73 2-61 1 43 2 28 1 23 2-150 1 10 2 40 1-34 2-77 1-3 2 139 1 13 2 36 1 12 2 58 1-25 2 25 1-63 2-9 1 67 2 49 1-25 2-87 1-39 2 1 1 158 2-44 1-22 2-27 1 20 2-35 2-8 1-175 2-3 1 40 2 10 1 13 2 2 1 21 2-7 1-62 2-27 1-3 2-38 1 32 2 69 1 89 2-8 1-36 2-32 1-69 2 33 1 34 2-48 1-63 2 54 1-13 2-65 1 20 2 37 1 116 2-102 1-23 2 12 2 26 1 58 2-22 1-12 2-73 1 71 2-91 1 24 2-49 1 80 2-23 1-67 2 12 1 84 2-5 1-46 2 64 1 45 2-59 1 27 2-70 1 50 2 47 1-21 2-123 1 36 2-16 1-33 2 38 1-98 2 6 1-14 2 96 2 58 1 80 2-71 1-41 2-79 1-92 2 43 1 32 2-33 1-76 2 66 1-21 2 26 1 17 2-51 1 52 2 43 1-68 2-1 1 13 2 0 1-30 2 20 1-43 2-8 1-71 2-29 1 6 2 45 1 19 2 44 1-147 2 69 2 1 1-43 2 120 1 40 2-2 1 26 2 28 1-38 2-108 1-34 2 13 1 7 2 84 1-64 2-38 1 66 2-35 1-3 2 24 1 27 2-1 1 18 2-79 1-38 2-17 1 17 2 23 1-114 2 126 1-68 2 2 1 14 2 37 1 6 2 55 2 34 1-49 2 51 1-80 2-71 1 179 2 14 1-85 2-46 1-11 2-11 1-38 2-23 1-64 2 52 1-10 2 108 1 4 2 52 1-92 2-107 1 22 2 103 1 4 2 5 1-13 2-57 1-31 2 151 1-104 2 40 1 26 2-85 2 26 1 84 2 36 1-47 2-62 1-74 2 47 1 40 2-78 1 54 2-53 1 20 2 30 1 34 2-3 1 22 2 28 1-5 2 27 1-36 2-6 1-4 2 23 1 3 2-79 1 21 2 52 1 2 2-37 1 12 2 7 1 2 2-15 2 1 1-10 2 105 1 21 2 91 1-115 2-87 1-61 2 25 1-51 2 35 1 28 2 96 1 19 2-2 1-75 2-79 1 56 2-1 1 0 2 62 1 84 2 3 1 26 2-40 1-31 2-9 1-8 2-45 1 37 2-52 1 92 2-34 1-38 2 36 2 57 1-64 2 10 1-53 2-36 1 13 2 2 1-50 2-1 1 59 2-13 1-33 2-9 1 7 2 28 1 16 2 36 1 44 2-93 1 29 2-27 1 64 2-27 1 29 2-173 1 92 2 52 1-61 2-49 1 150 2-60 1-60 2 66 2-47 1 26 2 27 1-21 2 1 1 56 2-153 1 45 2 34 1-46 2 14 1-64 2 45 1-13 2 18 1 10 2 22 1 1 2-83 1 71 2 27 1 7 2-35 1-17 2-34 1 86 2-25 1 12 2 12 1-14 2 93 1-57 2-20 2 63 1-32 2-106 1 34 2-40 1 24 2 39 1 34 2 0 1-89 2-33 1 56 2-51 1 29 2 49 1-28 2 45 1 55 2-81 1 86 2-70 1 56 2-38 1-18 2 8 1 89 2-52 1-26 2 29 1-29 2-60 1 43 2-12 1 54 2-43 2-34 1-108 2 13 1 44 2-29 1 98 2-52 1 57 2 37 1-74 2-8 1-48 2 98 1-29 2 22 1 11 2 89 1-95 2-35 1 49 2 35 1-9 2-99 1 13 2 6 1-37 2 2 1-7 2-34 1 8 2-42 1 95 2 4 2 14 1-24 2 3 1 30 2 11 1-61 2 44 1 63 2-46 1-49 2 15 1-1 2 45 1-20 2-61 1-18 2 14 1 40 2 82 1-52 2-26 1-46 2-89 1 42 2-3 1 96 2-52 1-10 2-45 1 18 2 17 1-35 2 84 2-5 1-37 2 77 1 53 2-31 1-5 2-32 1-20 2 63 1-18 2-41 1 42 2 41 1 53 2-72 1-99 2 101 1-37 2-34 1 56 2 24 1 47 2 39 1-43 2-50 1-7 2-30 1 5 2 69 1-67 2-25 1 69 2-75 2 16 1 30 2-82 1 185 2 69 1-70 2 9 1 37 2-99 1-1 2 76 1 7 2-71 1-98 2 126 1-28 2 0 1 67 2-46 1 50 2-7 1-111 2-20 1-29 2-5 1 0 2-18 1 93 2 5 1-52 2 44 1 3 2-81 1-54 2 66 2 62 1-38 2-12 1 53 2-50 1-35 2 6 1-140 2-14 1 26 2-3 1-95 2 46 1 116 2 19 1 12 2 43 1-22 2-5 1 19 2 11 1-68 2 87 1-63 2-7 1-5 2 124 1-115 2 87 1 11 2-63 1 25 2 13 2 96 1-43 2-49 1-64 2 20 1-16 2-17 1 43 2 22 1-101 2 62 1-67 2 19 1-57 2 69 1-20 2-1 1 33 2-11 1 40 2-8 1 12 2-50 1 15 2 75 1 6 2-17 1 21 2-89 1-4 2-34 1 61 2 18 2-61 1 80 2-37 1-2 2 11 1-15 2 54 1-36 2 41 1 43 2-120 1 37 2 77 1-101 2 29 1 143 2-87 1-92 2-30 1-80 2 34 1-1 2 74 1 1 2-80 1 21 2 27 1 115 2-6 1 42 2-71 1 31 2-26 1 41 2-121 2 75 1-16 2-140 1 36 2 70 1-30 2-35 1-9 2 149 1-34 2 98 1-154 2 20 1 24 2-31 1-14 2 79 1-96 2 37 1 91 2-97 1-66 2-33 1 18 2 86 1-47 2-66 1 9 2-28 1 104 2-7 1-17 2 121 2 70 1-11 2-28 1-47 2 11 1-4 2 11 1-8 2-30 1-21 2 6 1-4 2 38 1-55 2 42 1-79 2 35 1 4 2 52 1 19 2-14 1-14 2 21 1 45 2-31 1-20 2-39 1-48 2 46 1 116 2-18 1 72 2 16 2-99 1-38 2 38 1 27 2-7 1 77 2-68 1-4 2-106 1 83 2-51 1 40 2-57 1 76 2-41 1 38 2 43 1 4 2-35 1-7 2-64 1-12 2 164 1-1 2 83 1-27 2-56 1 63 2 28 1-42 2-13 1-96 2 9 2-19 1-69 2 74 1 8 2 53 1-18 2-54 1-44 2 53 1 46 2 29 1 66 2-45 1-73 2 127 1 73 2-131 1 62 2-54 1 50 2-78 1-42 2-2 1-30 2 16 1-18 2-75 1 2 2 71 1 59 2-5 1 9 2-10 1 28 2-54 2 7 1-17 2 21 1-21 2 74 1-91 2 19 1-5 2-2 1-42 2 1 1 10 2 31 1 92 2-31 1 6 2 1 1-119 2 125 1-7 2-65 1-8 2-34 1 101 2 47 1-51 2 18 1-91 2 11 1 17 2-8 1 29 2 0 2 36 1-12 2 19 1-46 2 69 1 30 2-80 1-18 2 37 1-21 2 26 1-129 2 96 1-97 2 70 1-24 2 16 1 5 2-60 1-36 2 46 1 60 2-114 1-52 2 49 1 56 2-4 1-1 2-40 1 77 2 4 1 26 2-89 2-77 1 48 2-2 1-47 2 60 1 71 2-53 1-12 2 34 1-74 2 34 1 106 2-44 1-14 2-100 1 44 2 34 1-25 2 1 1 83 2-25 1 4 2-84 1-91 2 116 1 52 2 17 1 7 2 8 1-46 2-73 1 82 2 59 1 46 2-128 2-76 1 91 2 65 1-58 2-79 1-44 2 24 1-12 2 12 1 76 2-99 1 41 2 81 1 18 2 64 1-41 2-68 1 71 2-77 1-94 2 41 1 95 2 51 1-3 2 37 1 21 2-30 1-20 2-49 1 56 2-113 1-26 2 9 2 77 1-71 2 61 1-82 2 4 1 103 2 30 1-89 2-12 1 47 2 12 1 13 2 44 1-11 2 28 1 2 2-53 1 44 2-53 1-4 2-44 1-23 2-39 1 4 2 3 1 39 2-18 1 57 2-2 1-37 2 4 1-24 2 55 2-79 1 39 2-25 1 15 2-54 1 43 2 60 1 72 2-31 1 20 2-73 1-93 2 122 1 30 2-70 1-91 2 0 1-11 2-17 1-13 2-69 1 2 2 95 1 32 2-25 1 38 2-4 1 7 2 16 1-74 2 14 1 44 2 2 1-39 2-133 2 13 1-47 2 23 1 164 2-26 1 33 2 54 1 5 2-144 1 101 2 7 1-103 2-17 1 104 2-12 1 15 2-5 1-49 2 32 1 18 2-84 1 124 2-5 1-43 2 68 1 7 2 47 1-42 2 3 1-49 2-52 1 16 2 40 2-17 1 0 2 78 1-75 2-3 1-25 2 86 1-64 2-92 1 31 2 111 1-2 2 13 1-11 2 31 1-27 2 20 1 3 2 32 1-13 2-54 1 46 2-40 1 57 2 13 1 6 2-74 1 46 2-60 1 91 2-13 1-47 2-34 2 70 1 35 2-87 1 64 2-55 1 29 2-3 1-132 2-36 1 16 2 120 1-20 2-2 1 10 2-66 1 113 2-50 1 3 2 45 1-106 2 87 1-21 2-20 1 94 2 32 1-12 2-91 1-71 2-23 1-1 2 132 1-47 2 12 2-77 1-54 2-72 1 21 2 10 1 93 2 11 1 83 2-63 1 66 2-16 1 16 2-12 1-60 2 17 1-27 2 52 1-99 2 51 1-50 2-95 1 176 2 27 1-15 2-91 1 33 2-22 1 48 2-33 1 75 2-75 1 165 2 32 1-164 2-12 2 47 1-131 2-27 1-20 2 68 1-2 2 11 1 94 2-42 1 20 2-78 1-32 2 67 1 34 2-18 1-40 2 44 1 13 2-33 1-12 2-45 1 16 2 74 1 100 2-83 1 10 2 0 1-15 2 64 1-25 2 106 1-60 2-9 2-146 1-22 2 32 1-9 2-36 1 45 2 20 1 11 2-155 1 42 2 131 1-77 2-149 1 103 2-160 1 87 2-3 1 83 2 37 1 66 2 31 1 71 2-124 1 52 2-58 1-31 2 36 1-15 2-5 1 18 2-16 1-16 2 41 2 45 1 3 2-40 1-93 2-64 1 16 2-20 1 31 2-27 1 29 2 12 1 37 2 7 1-87 2 100 1 2 2 25 1-58 2-86 1 49 2 162 1-83 2-41 1 93 2-7 1-20 2 110 1-94 2-29 1-11 2 56 1 12 2 16 1-52 2 23 2-108 1-6 2 148 1-117 2 1 1 37 2-15 1 86 2-50 1 101 2 2 1-148 2-71 1 43 2 45 1-70 2 4 1-2 2-28 1 67 2-45 1 120 2-113 1 90 2 8 1 13 2-74 1-45 2-15 1-13 2 0 1 35 2 109 2 89 1 36 2-103 1-54 2-24 1-27 2 3 1 47 2 39 1 50 2-129 1-63 2 70 1-2 2-46 1-76 2 64 1 1 2-56 1 117 2 10 1-29 2 26 1-125 2-10 1 28 2 77 1-44 2-26 1 42 2 28 1 72 2-29 2-67 1-47 2 5 1-14 2 76 1 32 2-74 1 6 2 62 1-25 2-31 1-29 2 16 1 42 2-17 1-82 2 34 1 59 2-9 1 73 2-30 1 18 2-73 1 2 2-38 1-82 2 81 1 83 2-17 1 27 2 2 1 36 2-42 1 16 2 116 2-23 1-41 2-72 1 51 2 34 1-84 2 46 1-6 2-40 1-43 2 17 1 71 2-75 1 23 2 29 1-129 2-10 1 86 2 30 1 4 2 31 1 78 2-102 1-48 2-3 1 26 2-10 1-45 2 80 1-14 2 20 1-62 2-23 2 72 1 20 2-115 1 71 2-19 1 25 2-86 1 10 2 40 1 51 2 0 1-64 2-22 1 98 2-104 1 35 2 55 1-12 2 34 1 13 2 15 1-23 2 13 1 69 2-67 1-1 2-81 1-8 2-19 1 10 2-51 1 52 2 70 2-28 1 156 2-26 1-44 2-3 1-95 2-23 1 18 2 27 1-53 2 53 1 17 2-38 1-23 2-89 1 72 2 131 1-48 2-76 1 18 2-74 1-64 2 104 1 37 2 53 1-63 2-33 1-25 2 85 1 18 2 56 1 39 2 15 2 15 1-60 2-76 1-56 2 0 1 36 2-10 1-37 2 17 1-5 2 14 1 22 2-15 1 55 2-68 1 81 2-56 1 69 2-124 1-24 2 59 1 20 2 46 1-34 2-46 1-133 2 130 1-52 2 56 1-21 2-42 1-4 2 2 1 30 2-1 2 5 1-59 2 103 1 19 2 55 1 5 2-2 1-95 2-112 1-33 2 115 1-7 2 68 1-35 2-66 1 3 2-15 1 34 2 107 1 68 2-53 1-59 2-67 1 36 2 1 1-4 2-42 1 19 2 65 1-69 2-7 1-11 2 82 2-15 1 91 2 76 1-39 2-5 1-64 2-86 1 32 2-81 1 71 2-23 1 100 2-28 1 2 2 6 1-54 2 103 1-34 2 26 1-20 2-32 1 31 2 2 1 44 2-49 1 23 2-29 1 70 2-105 1 61 2-66 1 38 2-28 2 18 1-43 2 3 1-66 2 3 1 4 2-51 1 88 2-33 1 39 2 87 1-30 2 17 1-85 2 54 1 7 2-2 1 117 2-64 1 41 2-93 1-72 2 36 1 118 2-16 1-8 2-32 1 52 2 67 1-25 2 32 1-128 2 76 1 30 2-24 2 41 1-6 2-15 1 1 2 0 1-80 2 4 1 84 2 4 1-70 2 34 1-10 2-4 1-21 2 16 1 10 2 38 1-45 2 58 1-113 2 18 1 33 2-52 1 27 2-13 1 4 2 33 1 33 2 2 1-80 2 44 1 26 2 4 2-48 1-103 2 86 1-11 2 4 1 25 2-26 1 72 2-62 1-7 2 50 1-90 2-12 1-24 2 109 1 11 2 3 1-25 2-61 1 129 2-25 1-17 2-61 1 23 2 66 1-24 2 55 1 3 2-40 1 10 2-34 1 67 2-155 2-37 1 12 2 102 1 111 2-3 1-30 2-149 1-47 2 67 1-53 2-19 1 39 2-37 1 28 2 65 1 85 2-17 1-64 2 96 1 55 2-70 1 118 2-158 1 16 2-50 1-86 2 112 1 43 2-123 1 44 2 23 1 0 2-58 2-50 1 43 2 52 1 4 2-7 1-57 2 38 1-72 2 84 1-13 2-72 1-33 2 30 1 72 2 37 1-13 2-14 1 18 2 81 1-13 2-63 1-53 2 87 1 3 2 84 1-36 2-220 1 43 2 58 1 40 2 52 1 66 2-58 1-14 2-105 2 90 1-52 2-78 1 123 2-54 1 75 2-59 1-80 2 17 1 10 2 52 1-28 2-63 1 35 2 16 1-22 2-33 1 111 2-28 1 22 2-48 1-65 2 1 1-45 2 85 1 7 2 48 1-26 2-14 1 0 2 63 1-30 2-4 2-47 1 19 2-55 1 6 2 119 1-16 2 53 1-87 2-87 1 14 2 7 1 96 2 92 1-23 2-31 1 41 2-67 1-55 2-43 1-75 2-5 1 56 2 17 1-8 2 72 1-87 2-32 1 54 2 46 1-196 2 27 1 20 2-44 2 19 1 46 2-3 1 98 2-32 1 83 2-45 1-42 2 86 1-121 2 80 1-70 2 33 1-27 2 48 1-143 2 3 1-43 2 28 1 16 2 38 1 35 2-12 1 8 2 21 1 78 2 1 1-55 2 22 1-32 2 10 1 53 2 22 1 4 2-24 2-25 1-73 2 53 1 112 2-93 1 14 2-27 1-136 2-38 1 35 2 7 1 36 2-23 1 75 2 31 1 19 2-105 1-47 2 86 1-43 2 49 1-40 2 65 1-37 2 38 1 37 2 3 1-5 2 38 1 55 2-122 1 32 2 85 2 81 1 70 2-63 1-144 2 65 1-20 2 74 1-103 2-23 1-19 2-61 1-50 2-3 1 78 2 78 1 44 2 56 1-151 2 23 1-8 2-1 1-96 2 71 1-32 2 25 1 40 2 111 1-74 2 36 1 14 2-26 1-16 2-62 2 56 1-9 2-19 1-4 2-27 1 35 2-50 1 51 2 82 1-17 2-81 1 31 2 39 1 3 2-14 1 7 2-36 1 88 2-110 1-20 2 59 1-77 2 9 1-44 2 89 1-78 2 24 1 133 2-78 1 8 2 46 1-29 2 87 1-80 2-2 2 3 1-85 2 25 1 48 2 31 1-8 2-62 1 49 2 51 1-79 2-5 1 1 2-108 1 89 2-1 1 104 2-19 1-58 2-61 1 92 2-48 1-30 2 32 1-113 2 63 1 68 2-24 1 91 2-109 1-39 2 50 1-24 2-9 2-77 1 98 2 86 1 83 2-22 1 45 2-51 1-67 2 9 1 27 2-105 1 7 2-9 1-40 2 82 1 32 2-152 1 45 2 70 1 6 2 22 1 49 2-2 1-40 2-24 1-48 2 97 1 46 2-92 1 5 2-63 1-1 2 97 2-44 1 59 2-45 1-72 2-84 1 52 2 0 1 27 2-10 1 168 2-10 1-46 2-31 1 45 2-60 1-47 2 21 1 32 2 37 1 1 2-45 1-58 2 70 1 71 2 42 1-71 2-1 1-6 2-4 1 8 2 15 1 71 2 18 2-37 1-19 2 13 1 12 2-83 1 40 2-2 1 37 2 25 1 58 2-24 1-4 2-86 1 47 2-12 1-71 2-1 1-39 2-33 1 109 2-2 1 25 2-106 1-1 2-30 1-76 2 45 1 11 2-11 1 25 2-57 1-6 2-20 1 40 2 49 2 24 1 17 2 78 1-45 2-57 1-7 2 22 1-18 2-16 1-23 2-79 1 88 2-16 1-14 2 16 1 23 2 42 1 16 2-63 1-69 2 66 1-1 2-9 1-43 2 13 1-1 2-40 1 87 2 2 1 89 2 63 1-32 2 30 2-92 1-85 2 25 1 2 2 21 1 4 2-1 1-20 2 15 1 30 2 6 1-64 2 7 1-84 2 30 1-55 2 96 1 39 2-39 1-20 2 10 1-105 2 39 1 17 2 71 1-78 2-12 1 11 2 135 1-16 2 19 1-24 2-45 2 59 1-21 2-30 1 13 2 22 1 52 2 18 1 33 2-95 1-5 2 53 1-31 2 49 1 121 2-140 1-94 2 81 1 15 2-37 1-5 2 30 1 0 2-12 1 11 2-42 1-16 2 16 1-27 2 64 1-111 2 94 1-26 2-56 1-31 2-10 2-58 1 78 2-4 1-19 2 17 1 3 2-80 1 41 2 17 1-3 2-22 1-32 2 2 1-36 2-10 1-34 2-59 1 67 2-84 1 51 2-27 1 11 2 22 1 87 2-119 1 43 2 21 1-76 2-9 1-100 2-32 1 21 2 37 2-16 1 88 2-5 1-3 2 27 1-18 2 67 1-81 2-69 1 83 2-25 1-79 2 11 1 82 2 38 1-72 2-95 1 95 2 3 1 38 2-9 1-32 2-2 1 38 2-122 1 37 2 33 1-61 2 32 1 19 2-40 1 73 2-38 2-36 1-11 2 39 1 17 2 87 1-27 2-36 1-50 2-6 1 32 2 39 1-18 2-7 1-49 2 20 1 32 2 2 1 24 2 5 1 92 2 30 1 9 2-88 1-26 2-27 1-73 2 60 1-69 2-1 1 69 2-79 1 99 2 34 2-28 1-44 2-5 1 100 2-22 1-12 2-135 1-22 2 47 1 101 2-14 1 57 2-9 1-14 2 33 1-15 2 14 1 24 2-78 1 10 2 51 1 58 2-10 1-13 2-32 1-34 2 26 1 99 2-86 1-13 2 10 1-15 2 125 1 29 2 6 2-75 1 85 2 26 1-94 2-8 1 49 2-73 1 123 2-6 1 5 2-32 1 33 2 33 1-7 2 59 1-56 2 17 1-53 2 40 1 30 2-44 1-69 2 122 1-41 2-31 1 58 2 18 1-55 2 36 1 15 2-110 1 62 2 51 2 82 1-18 2 11 1-154 2-71 1 78 2-120 1 4 2 38 1-15 2-11 1 68 2 94 1 1 2-43 1-7 2 14 1-80 2 43 1-58 2 34 1-8 2 54 1-23 2 34 1 59 2-39 1-25 2-59 1-8 2 47 1 2 2 93 2-18 1-121 2-95 1-13 2 13 1-7 2 11 1 115 2 24 1-90 2-51 1 22 2 45 1 26 2 33 1 41 2 70 1-62 2-1 1-2 2-107 1-14 2 62 1-25 2 103 1-81 2 1 1 14 2-23 1-59 2 60 1 74 2-138 1 45 2-54 2 81 1-6 2 35 1-22 2 24 1 30 2-91 1 2 2 126 1-5 2 32 1 31 2-20 1-16 2-46 1 20 2 63 1-29 2-73 1 54 2-55 1-28 2 9 1-12 2 38 1 3 2 33 1-53 2-73 1 40 2-45 1 136 2 4 2 11 1-120 2 45 1-44 2 93 1-43 2-38 1 0 2 139 1-74 2-72 1-76 2 5 1 92 2-12 1-62 2 57 1-35 2 25 1-7 2-58 1 50 2-142 1 39 2 23 1 62 2 0 1 21 2 59 1 44 2-72 1-16 2 125 2 54 1-61 2-50 1-65 2 49 1-50 2 7 1 24 2-5 1-81 2-26 1-23 2 50 1 7 2 48 1-8 2-4 1 1 2-52 1-25 2-20 1 18 2-42 1 28 2-30 1-7 2-1 1 26 2 85 1 65 2-137 1-10 2 1 1 33 2 35 2-142 1 109 2 18 1 9 2 56 1 44 2-12 1-15 2 0 1-83 2 48 1-45 2-85 1-21 2 94 1 139 2-104 1-54 2 42 1-83 2 37 1 3 2 58 1-31 2 26 1 18 2-77 1 11 2 88 1-41 2-39 1 54 2 13 2-16 1 13 2-18 1-28 2 29 1-108 2 79 1 26 2-100 1-89 2 67 1 53 2 69 1-68 2 10 1 59 2-29 1-65 2-2 1-70 2 25 1 40 2 49 1-10 2-36 1-10 2-23 1 37 2 1 1-31 2 58 1 92 2-108 2-4 1 43 2 8 1 23 2 79 1-14 2 47 1-54 2 2 1-82 2 26 1-11 2 14 1 34 2 60 1-77 2-7 1 39 2-29 1 29 2 25 1-35 2-66 1 36 2 81 1-1 2-118 1 62 2-55 1 33 2-32 1 26 2 79 2 10 1-146 2 37 1-4 2 50 1 7 2-19 1-15 2-95 1 53 2 44 1 40 2 58 1 54 2-69 1 67 2-112 1-34 2 23 1 59 2-5 1 0 2-60 1 66 2 16 1-26 2-14 1 23 2 63 1 31 2-23 1-26 2-91 1-112 2-42 2 39 1-41 2 60 1 64 2-104 1 111 2 28 1 6 2-73 1 53 2-30 1 49 2 67 1-37 2-20 1 50 2 26 1 12 2-82 1-27 2-1 1-6 2 53 1-31 2 33 1 67 2-5 1-40 2-21 1-67 2 106 1-4 2-24 2 44 1-35 2 8 1 41 2-85 1 67 2-65 1 24 2 40 1 25 2-4 1 8 2-58 1 72 2-105 1-56 2-60 1 88 2 122 1-3 2-27 1-38 2 17 1-7 2-20 1 76 2-109 1 78 2-17 1-45 2 63 1-9 2-73 2 61 1-36 2-8 1 15 2-22 1 39 2 12 1-58 2 7 1-17 2 87 1-16 2-59 1-28 2 16 1 47 2 41 1-35 2-70 1 30 2-43 1 59 2-43 1 78 2-10 1 53 2-63 1-27 2 56 1 17 2-5 1 47 2 1 1-17 2-84 2-78 1 37 2 5 1-26 2 27 1-3 2-57 1-3 2 9 1 28 2-83 1 41 2-1 1 44 2-5 1-43 2 6 1-39 2 10 1 71 2 71 1-100 2 24 1-103 2 11 1 61 2-37 1 16 2 7 1 37 2-43 1-63 2 45 2-82 1 76 2-1 1 92 2 69 1-156 2-62 1-32 2 133 1-20 2-27 1 2 2-17 1 42 2-4 1 43 2 8 1-43 2 24 1 0 2-9 1-8 2-70 1 1 2-3 1 87 2-2 1-56 2 55 1 8 2 21 1-103 2 19 2 34 1-48 2-53 1-6 2-31 1 7 2 23 1 31 2 11 1 22 2-29 1-6 2-13 1-34 2 4 1 75 2 14 1 20 2 48 1-77 2 21 1 15 2 17 1-108 2 10 1-66 2-6 1 28 2-20 1-31 2 18 1 67 2 14 1 38 2-24 2-26 1-93 2-39 1 5 2-2 1 28 2-100 1 3 2-66 1 90 2 56 1-6 2 45 1 23 2 79 1-63 2 20 1-24 2 36 1 108 2-52 1-67 2 92 1 28 2-2 1-7 2 66 1-154 2-27 1 56 2 77 1-45 2-117 2-9 1-8 2 91 1 6 2 86 1-109 2-7 1 152 2 69 1-84 2-30 1 10 2-39 1-90 2 7 1 126 2-6 1 61 2 12 1-54 2 0 1 49 2-21 1 27 2-52 1 12 2-27 1 21 2-51 1 18 2 7 1 28 2-18 2 97 1-170 2 51 1-4 2 19 1 22 2-23 1 30 2 0 1 60 2 15 1 9 2-136 1 74 2 28 1-46 2-87 1 100 2 59 1-52 2-46 1 69 2 58 1-1 2-96 1-21 2-56 1 6 2-4 1-35 2 24 1-14 2 60 2-1 1-46 2 5 1 40 2-59 1-34 2 24 1 51 2-49 1-106 2 90 1 82 2 29 1 14 2 33 1 6 2-72 1-51 2-71 1 6 2 54 1-36 2 54 1 21 2 61 1-78 2-37 1 43 2 25 1 3 2-32 1-23 2 20 1-8 2 101 2-2 1 77 2-122 1-62 2 7 1-13 2-65 1 30 2 135 1 7 2 111 1-9 2 22 1-39 2-49 1 35 2-5 1-25 2-3 1 12 2 112 1-25 2-65 1-31 2 72 1-18 2-23 1 43 2-58 1 46 2-10 1 7 2-127 2 70 1 57 2-26 1 34 2-4 1 122 2-50 1-7 2 59 1-92 2 20 1 10 2 76 1 54 2-33 1 35 2-82 1-64 2 37 1 68 2-12 1 20 2-39 1-35 2 21 1-26 2-69 1-59 2 62 1-20 2 24 1 63 2-79 2-4 1-2 2 8 1 15 2 55 1-105 2-21 1 10 2-32 1-44 2 59 1 6 2 44 1-24 2 32 1-127 2 51 1-6 2 13 1 31 2-36 1 26 2 24 1-5 2 36 1-79 2-23 1-34 2 83 1 1 2 43 1-16 2-79 1 6 2 18 2-39 1-24 2-60 1 153 2-14 1 25 2 28 1-10 2 38 1 82 2-10 1-45 2-130 1 42 2 61 1 66 2-30 1-29 2-40 1 60 2-2 1 82 2-83 1 47 2 90 1-142 2-52 1-18 2-19 1 63 2-72 1 77 2-98 2 22 1 123 2-65 1-98 2 47 1-43 2 40 1 54 2 123 1-110 2 13 1-23 2 48 1 21 2-84 1 34 2 14 1 57 2-43 1-47 2 34 1 1 2 45 1-88 2 45 1 0 2-88 1 46 2 76 1 29 2-17 1-113 2 9 2 44 1-44 2-45 1 83 2-78 1-8 2 18 1 155 2-47 1-84 2 35 1-100 2 52 1 79 2-32 1 10 2-25 1 32 2-76 1 64 2 17 1 63 2 22 1-31 2 15 1 1 2-5 1-22 2-45 1-29 2-17 1 14 2 60 2 71 1-16 2 15 1 56 2-135 1 91 2-69 1-40 2 7 1-129 2 48 1 61 2-79 1 74 2 93 1 32 2-2 1-44 2-44 1 77 2-52 1-129 2 83 1 10 2-45 1-56 2 70 1 57 2 41 1-83 2-41 1 124 2 74 1 6 2 6 2-97 1-42 2-116 1-12 2 37 1-41 2 75 1 57 2-31 1-63 2 90 1-80 2-50 1 48 2-12 1 10 2 5 1-54 2 55 1-68 2-30 1-19 2 133 1 71 2-93 1 13 2 20 1 14 2 41 1-40 2 7 1-16 2-62 2 47 1-100 2 117 1-169 2 86 1-50 2-37 1 1 2-32 1 35 2 100 1-55 2-73 1 37 2 66 1-13 2-66 1-35 2-54 1-19 2 2 1 118 2-144 1 32 2-21 1 47 2 13 1-11 2-78 1-59 2 13 1-54 2 90 2 3 1 56 2-58 1 22 2-33 1-65 2 166 1-113 2 33 1 59 2 112 1-17 2 93 1-67 2-42 1-109 2 41 1-45 2-27 1-76 2 79 1-14 2 122 1 34 2-31 1-14 2 48 1-11 2-67 1 30 2-6 1 31 2-90 1-60 2 39 2 39 1-75 2 24 1 78 2 72 1 4 2-143 1 59 2-150 1 58 2 62 1-51 2 44 1-2 2 61 1 57 2 1 1-37 2 18 1 82 2-72 1-5 2-4 1 11 2 98 1-133 2 28 1-46 2-59 1-36 2 42 1 26 2-4 2-40 1 2 2 57 1-5 2-13 1-20 2 16 1-49 2 26 1-18 2 25 1 68 2 45 1-6 2-40 1-59 2 33 1 37 2 24 1-66 2 15 1 41 2-41 1 82 2-23 1-13 2 10 1 38 2-73 1-73 2 100 1-18 2-41 2-112 1 74 2 74 1-6 2-104 1 42 2 2 1-82 2 161 1 100 2-93 1-38 2 86 1-44 2-4 1-3 2 60 1 6 2 15 1-13 2-2 1-106 2 4 1 121 2-36 1-71 2 20 1-43 2 28 1-19 2 77 1-39 2 80 1-82 2 83 2 79 1-77 2-18 1-33 2-32 1 15 2 51 1-23 2-23 1-19 2-85 1 81 2 3 1-13 2 53 1 61 2 7 1-82 2 27 1-34 2 57 1-38 2 28 1 41 2-9 1-10 2-77 1 109 2-43 1-85 2-56 1 73 2 60 2 22 1-12 2-14 1-9 2-10 1 80 2 43 1 28 2 17 1-50 2-43 1-147 2 18 1 20 2-33 1 69 2-11 1-38 2-10 1 18 2 54 1 86 2-26 1 10 2-59 1 7 2-15 1 96 2-76 1 40 2 74 1 29 2-18 2-101 1-33 2 71 1-21 2 13 1 65 2-1 1 70 2-30 1 87 2-43 1-34 2-20 1-20 2-108 1 6 2-19 1-48 2-43 1-12 2 63 1 66 2 28 1-7 2-30 1-6 2-74 1 26 2-98 1-18 2 59 1-20 2 182 2-98 1-23 2-2 1 89 2-155 1 43 2 33 1-47 2 36 1 50 2-35 1 56 2-48 1-9 2-50 1 90 2-76 1-4 2-81 1 75 2-71 1 10 2 11 1 77 2-12 1-17 2 61 1 63 2 26 1-105 2-2 1-40 2 16 1 7 2 5 2 28 1-57 2 11 1-2 2 90 1-34 2 24 1 4 2-76 1 65 2 4 1-48 2-46 1 51 2 5 1-18 2 54 1 89 2 50 1-100 2-44 1 47 2 0 1-25 2-16 1-28 2-125 1 75 2 3 1 44 2 25 1 16 2-19 2 4 1-45 2-22 1 56 2-126 1 87 2-21 1-101 2 87 1-50 2-39 1 39 2 129 1-90 2 20 1 24 2-67 1 58 2-56 1 51 2-31 1 56 2 6 1 36 2 4 1-26 2-8 1-22 2-72 1 41 2 109 1-9 2-26 2-70 1-39 2-16 1 39 2-16 1 111 2-75 1-9 2-11 1 38 2 0 1 44 2-40 1 80 2-68 1-17 2-85 1 53 2 34 1 10 2 2 1 16 2 47 1 27 2 2 1-26 2 45 1 8 2-36 1-66 2 19 1-40 2-31 1-23 2 60 2 31 1 87 2-6 1-64 2 43 1-106 2-58 1 49 2-26 1 96 2 48 1-10 2-31 1-16 2 43 1-121 2 16 1-5 2-13 1 8 2 31 1 43 2 72 1-109 2 46 1 62 2-14 1 45 2-173 1-22 2-50 1-57 2 7 2 19 1 69 2 20 1 32 2-16 1 23 2-78 1-25 2 34 1 93 2-68 1-50 2 10 1 66 2-47 1-67 2 125 1-58 2 99 1-46 2-110 1 9 2-8 1 38 2 4 1-118 2-24 1 77 2 55 1 17 2-117 1 45 2-23 2 66 1 73 2-81 1 10 2 52 1 20 2 5 1-4 2 57 1-109 2-26 1-34 2 33 1-17 2-4 1-42 2-15 1 10 2 51 1 66 2 11 1-14 2-2 1 34 2-127 1 3 2 113 1 7 2 31 1-60 2-86 1 55 2-46 1 23 2-57 2-44 1 23 2-2 1 30 2 57 1 61 2-30 1 2 2 22 1-8 2 6 1 44 2 11 1-82 2 15 1-75 2 93 1 66 2-31 1-50 2 44 1-46 2-40 1-37 2 35 1 36 2 96 1-20 2-13 1-63 2 99 1 25 2 31 2-73 1 130 2 12 1-154 2-18 1 102 2-5 1-73 2-17 1 34 2 46 1-42 2 14 1-37 2 16 1 49 2-69 1 56 2-12 1 42 2-2 1 1 2 14 1-40 2-69 1-75 2-20 1 62 2-40 1 28 2-67 1 122 2-54 2 63 1-52 2 54 1-40 2 29 1 105 2 16 1-24 2-33 1 95 2 10 1-21 2-53 1-34 2 34 1 46 2-54 1-21 2-55 1 39 2-38 1 44 2-34 1-13 2-26 1 45 2 4 1 28 2-27 1-43 2-152 1 49 2-9 2 31 1-47 2 9 1-29 2 29 1-85 2 1 1 140 2 7 1 19 2 113 1 3 2 4 1 6 2-39 1 63 2-71 1-48 2-18 1 23 2 7 1 25 2-56 1-17 2-77 1 62 2-54 1 79 2 24 1 53 2-46 1-8 2-40 1-64 2 36 2 8 1-20 2 29 1 43 2-10 1-17 2-18 1-14 2 56 1-9 2-45 1 52 2-9 1 44 2-2 1-86 2 30 1 78 2-17 1-5 2-55 1 82 2 34 1-32 2 61 1-87 2 100 1-9 2 23 1-14 2-101 1-36 2-34" stroke="#ff0000" stroke-width="25.0" stroke-linejoin="round"/>
<path transform="scale(0.1)" d="M9172,5146l2-106 1 0 2 0 1 4 2 0 1-1 2-1 1 0 2-2 1 2 2 2 1 1 2-3 1-2 2 3 1-2 2 1 1 0 2 3 1 1 2-2 1 0 2 0 1-2 2-2 1 2 2 0 1 3 2-3 1 2 2-1 1-1 2 0 2-2 1 2 2 1 1-1 2 0 1 0 2 0 1 2 2-2 1 0 2-2 1-2 2 3 1 1 2 1 1 1 2 2 1-4 2-1 1-3 2 2 1 0 2 0 1 1 2-1 1 0 2 0 1 0 2 4 1 0 2 0 1-4 2-1 1-1 2 0 2 2 1-3 2 2 1 3 2-2 1-1 2 0 1 0 2-1 1-1 2 0 1-2 2 2 1-2 2 4 1-1 2 0 1 0 2 3 1-2 2 1 1 1 2 1 1 0 2-1 1 1 2 1 1-2 2 0 1-4 2 2 1-1 2-2 2 1 1-1 2 1 1 1 2-2 1 2 2 2 1 2 2-1 1-2 2 1 1-1 2 2 1-2 2 0 1 1 2-3 1 2 2 0 1 0 2-1 1 1 2 2 1-1 2 0 1 0 2 0 1-2 2 2 1 0 2-1 1 2 2 2 2-2 1-1 2 0 1 4 2-1 1-1 2-1 1-2 2 1 1 0 2-2 1 5 2-2 1 1 2 0 1 0 2 2 1 1 2-2 1 0 2-2 1 1 2-4 1 2 2-3 1 3 2-1 1-1 2 4 1 1 2-1 1-2 2-2 2 0 1-1 2 4 1 1 2-3 1 2 2 0 1 3 2-1 1 2 2-2 1-3 2 0 1 0 2 1 1-1 2 2 1 1 2-4 1 2 2 1 1 2 2-3 1 0 2 2 1 1 2-3 1-2 2 0 1 0 2-1 1 0 2 0 1 4 2 3 2 0 1-2 2-1 1 0 2 0 1-158 2-282 1-686 2-31 1-35 2-35 1-39 2-27 1-27 2-18 1-44 2-33 1-57 2-40 1-61 2-42 1-29 2-10 1-8 2 7 1-16 2 6 1-44 2-21 1 50 2 51 1-39 2-53 2-47 1-96 2 13 1 28 2-51 1-70 2-81 1 75 2 7 1 29 2-100 1-11 2 35 1-48 2 43 1 12 2-4 1 26 2-20 1-25 2-26 1-81 2-31 1 29 2 134 1 50 2-41 1-39 2 24 1-35 2-58 1 13 2-29 2-26 1 19 2 24 1-33 2-39 1 55 2 71 1-12 2-85 1 64 2-108 1 21 2-24 1 27 2-60 1 0 2-16 1 100 2-80 1 71 2-32 1-64 2 0 1-54 2-3 1 1 2 53 1-72 2-45 1 56 2 63 1-35 2 29 1-34 2-53 2-39 1-79 2 17 1 96 2 37 1-51 2-109 1 52 2 74 1-96 2 36 1-20 2-38 1 73 2 21 1 14 2-42 1-44 2 35 1-46 2 102 1-55 2-16 1-1 2 74 1-26 2 37 1-118 2 20 1 20 2 3 1-36 2 4 2-13 1 84 2-72 1 39 2-54 1 2 2-35 1 34 2 100 1 48 2-12 1-86 2 42 1 0 2-67 1 59 2-14 1-22 2 40 1-33 2-52 1-31 2 56 1-131 2 35 1 59 2 54 1 34 2-73 1 144 2-35 1 22 2-50 2-32 1 37 2 8 1-111 2 42 1-30 2 28 1-60 2-71 1-25 2 11 1 5 2 99 1-82 2 53 1 58 2 11 1 11 2-43 1-42 2-82 1 43 2 57 1 17 2 48 1 20 2-138 1 87 2 29 1-44 2-5 1-42 2 67 1 79 2-81 2 58 1 3 2-17 1 97 2-12 1 27 2-64 1 20 2 131 1-89 2 127 1-32 2 0 1-19 2-28 1-77 2 52 1 22 2-82 1-12 2-46 1 15 2 38 1 32 2 12 1-67 2-64 1-63 2 115 1 16 2 4 1-3 2 50 2-150 1-45 2 67 1 43 2 26 1 67 2-14 1-55 2-105 1-30 2-24 1 106 2 181 1-140 2-20 1-7 2-112 1 81 2 46 1 14 2-115 1-44 2 128 1-107 2 13 1 2 2 59 1-110 2 10 1-33 2 105 1-36 2 4 2 21 1 43 2 24 1 33 2 14 1-49 2-70 1 78 2 24 1-27 2 52 1-59 2-29 1-18 2-47 1-54 2-29 1 5 2-11 1 70 2 47 1-64 2-34 1-114 2 59 1 77 2-30 1 25 2 29 1-105 2-100 1 30 2 84 2-4 1 11 2 75 1-75 2-32 1-52 2 75 1 6 2 13 1 91 2-184 1 121 2 44 1-15 2 51 1-68 2 6 1-43 2-28 1-9 2-18 1 22 2-30 1-39 2 31 1 38 2 17 1-32 2 11 1 15 2 61 1-133 2 79 1-119 2-13 2-23 1 25 2-2 1 0 2-13 1-20 2-50 1 104 2-21 1-73 2-25 1 118 2 3 1 7 2 6 1 144 2-95 1 94 2-160 1-1 2 29 1-21 2 5 1 44 2 13 1-22 2 57 1-49 2-46 1-27 2-24 1-23 2 1 2-19 1 57 2 16 1-44 2-53 1 93 2 119 1-134 2-25 1-43 2 22 1 48 2 82 1 68 2-93 1-35 2 18 1 97 2 23 1 9 2 3 1 136 2-86 1-156 2 37 1-5 2-15 1 74 2-37 1 28 2 5 1-31 2-2 2-9 1 61 2-59 1 63 2-55 1 37 2 84 1-10 2 33 1-14 2-37 1-55 2-38 1-1 2 32 1 92 2-15 1-7 2-7 1 9 2 14 1-76 2 80 1-27 2-75 1 76 2 64 1-15 2 19 1-44 2-77 1 46 2-19 1 65 2 28 2-24 1 30 2-88 1 36 2 16 1 48 2 3 1 33 2-11 1 67 2-46 1-137 2 139 1-131 2 30 1-39 2 94 1-135 2 96 1-8 2-89 1 105 2 116 1-68 2 12 1 14 2 4 1 30 2-144 1-89 2 89 1-17 2 1 2-94 1 60 2-102 1 18 2 40 1 12 2 26 1-158 2 33 1 42 2-7 1-74 2 89 1 86 2-111 1-39 2 35 1 1 2-74 1 176 2-128 1 13 2-60 1 12 2-180 1 92 2-45 1 192 2-37 1-64 2 92 1 91 2-56 2-98 1-68 2 54 1-34 2 101 1-120 2 50 1-82 2 44 1 30 2-78 1 67 2-66 1 47 2 57 1 42 2-100 1 3 2 24 1 80 2-111 1-63 2 1 1-14 2 226 1-20 2-33 1-20 2 22 1-29 2 41 1 8 2 41 1-61 2 18 2 1 1-104 2 13 1 23 2 97 1-9 2-96 1-29 2 19 1 14 2 3 1-20 2 35 1 123 2-186 1-51 2 47 1-68 2 108 1-92 2 13 1-24 2 47 1-3 2-13 1-42 2 5 1 12 2 59 1-107 2 19 1 47 2 32 2 60 1 15 2 53 1-88 2-6 1-30 2 68 1-12 2-10 1-91 2 88 1 50 2-129 1-31 2 73 1-107 2-76 1-26 2 183 1-32 2 39 1 3 2 69 1-154 2 54 1-38 2-45 1-8 2-9 1 44 2-12 1 31 2 137 2-106 1 25 2 8 1-14 2 41 1 21 2 46 1-119 2-104 1-7 2 74 1-99 2 36 1 97 2 69 1-70 2-118 1 29 2 16 1 15 2 31 1-5 2-43 1 21 2-83 1 58 2-57 1-14 2 34 1 22 2 7 1-102 2 84 2-59 1-42 2 62 1-72 2 175 1-40 2-22 1-5 2-54 1 37 2 28 1-83 2 21 1 82 2-59 1 8 2 30 1-57 2 40 1 32 2-34 1-22 2-15 1 72 2-136 1-3 2 24 1 11 2 169 1-109 2 51 1-52 2 59 1-82 2 28 2-11 1-94 2-24 1 113 2 52 1-19 2 16 1-41 2 54 1 99 2 7 1-37 2-71 1-57 2-66 1 26 2 41 1-39 2 29 1 31 2 31 1-63 2-63 1-30 2 147 1-60 2 75 1 23 2-53 1 93 2 43 1 7 2-138 2-48 1 93 2 3 1 3 2-12 1 47 2-105 1 63 2-43 1 125 2-47 1-16 2-84 1 177 2-71 1-71 2 26 1-74 2-98 1 27 2 22 1-33 2 41 1-7 2 18 1 78 2 81 1-72 2-16 1 60 2 3 1-76 2 128 2 29 1-59 2-41 1 87 2 45 1-44 2-101 1 7 2 145 1-111 2 11 1 30 2 47 1-95 2-23 1-21 2-10 1-11 2-22 1-63 2 119 1 14 2 16 1-101 2 51 1 116 2-34 1 19 2 2 1-28 2 36 1 65 2-191 1 1 2 48 2-55 1-83 2 136 1 0 2-41 1 56 2-59 1 45 2 5 1-26 2-60 1-1 2 33 1-2 2 103 1-187 2 39 1 15 2-34 1-29 2-6 1 55 2 80 1-33 2 18 1-12 2-23 1-25 2-90 1 14 2 109 1-74 2-54 2 106 1-68 2-15 1 43 2-34 1-14 2-35 1-36 2 35 1 15 2-140 1 130 2 47 1 19 2-42 1-38 2 118 1-71 2 88 1-162 2 88 1-51 2 57 1-28 2 62 1-20 2 3 1 3 2-31 1 53 2 25 1 72 2-12 2 12 1-71 2-25 1 69 2-30 1-58 2 47 1 95 2-157 1 26 2-6 1-106 2 121 1 24 2 148 1-42 2-24 1 46 2 32 1-23 2 2 1-117 2 34 1 23 2 33 1 95 2-10 1 31 2-61 1 98 2-15 1-93 2 84 2 17 1-144 2 60 1-46 2-41 1 61 2 64 1-153 2 19 1-47 2 41 1-33 2 88 1 55 2 8 1-12 2-25 1-32 2-55 1 8 2-75 1 37 2-43 1-70 2-60 1 178 2-115 1 123 2-100 1 21 2 2 1 73 2-69 1-16 2 59 2 45 1-65 2-56 1-17 2 60 1 19 2-34 1-24 2-43 1 39 2 71 1-11 2-11 1 36 2-36 1 67 2-21 1 20 2-132 1-31 2 42 1 108 2 66 1-70 2 11 1-41 2 71 1 49 2-69 1-25 2 52 1 1 2-89 2 8 1-40 2-86 1 14 2 34 1 41 2-70 1 108 2 34 1-36 2 62 1-97 2 27 1-53 2 28 1 4 2-17 1 104 2 22 1-33 2-181 1-16 2 8 1 104 2-53 1-61 2-12 1-113 2 169 1 77 2 4 1 52 2-18 2-54 1 16 2-14 1-38 2-32 1 70 2 44 1-78 2 36 1 43 2-26 1 20 2-11 1-9 2-47 1-32 2 80 1 67 2-105 1 63 2 84 1 81 2-71 1-9 2 66 1-25 2 3 1-127 2-30 1-16 2 73 1-30 2-70 1-21 2-73 2 31 1-26 2 5 1 46 2-89 1 10 2-26 1 82 2 54 1-19 2 35 1-65 2-40 1-56 2-8 1 91 2-65 1 44 2 40 1-38 2-11 1-78 2-142 1 46 2-29 1 61 2 21 1 59 2 14 1-94 2-3 1-1 2 79 2-103 1 41 2 41 1-14 2-57 1-36 2-57 1 109 2 14 1-101 2-114 1 117 2 37 1 110 2 20 1 23 2-24 1 42 2-78 1 3 2 6 1-52 2 32 1 81 2-26 1-142 2 31 1-7 2 45 1 11 2-29 1 170 2 7 2-23 1-50 2-126 1-128 2 32 1 36 2 8 1-44 2 104 1 40 2-12 1-19 2 119 1-50 2 93 1-97 2-52 1 134 2-84 1-24 2 29 1-64 2-98 1 28 2 110 1 75 2 40 1 8 2-111 1-22 2-6 1-31 2 15 1 21 2 60 2 29 1-16 2 70 1-104 2-4 1 42 2-55 1 100 2-75 1 3 2-96 1 101 2 48 1 51 2 56 1-60 2 53 1-46 2 46 1-90 2 153 1-70 2-8 1-17 2 43 1-107 2 70 1-3 2 38 1 33 2-20 1-46 2 79 2 15 1 62 2-56 1 29 2 21 1-68 2-7 1-19 2 27 1-31 2 20 1 83 2-23 1 19 2 2 1-2 2 34 1 34 2-110 1-105 2 67 1-47 2 21 1 83 2 49 1-9 2 6 1 0 2-19 1 48 2-92 1 68 2 51 2-97 1-53 2-64 1 27 2 54 1-46 2 7 1 9 2 51 1-34 2 143 1-119 2 92 1-120 2 75 1-86 2-163 1 69 2 86 1-128 2 53 1 64 2-94 1 164 2 30 1 8 2-36 1 55 2-140 1-69 2 19 1 39 2 63 2-80 1 27 2-69 1-49 2 17 1 118 2 3 1-147 2-13 1-87 2 161 1-30 2-16 1 66 2-26 1-104 2-41 1 38 2-32 1-61 2 78 1-33 2-65 1 62 2-74 1 39 2-43 1-16 2 15 1 40 2 57 1-14 2-29 1-95 2 30 2-20 1-72 2 27 1 16 2-79 1 48 2 9 1-15 2 48 1 83 2 89 1-28 2-87 1-57 2-79 1-1 2 98 1 109 2-1 1-10 2 23 1-76 2 46 1-53 2-50 1 127 2-5 1-88 2-39 1 18 2 84 1 17 2-20 2-100 1-12 2 23 1-5 2-27 1 130 2 22 1-41 2-95 1-46 2 70 1-6 2 55 1-12 2-36 1 5 2 16 1 46 2 44 1-71 2-50 1-46 2 49 1 24 2-108 1-1 2-30 1 66 2 37 1 43 2-93 1 59 2 73 2-12 1-103 2 5 1-4 2-6 1 7 2 21 1 77 2-129 1 23 2-59 1 127 2-58 1 71 2 39 1-53 2-79 1-65 2-31 1 62 2-9 1 64 2 55 1-30 2 5 1-62 2 105 1-91 2 39 1-83 2-35 1 108 2 1 1-48 2 54 2 24 1 0 2-65 1-40 2 49 1-21 2-63 1-7 2 94 1 64 2-14 1-43 2-2 1 40 2 52 1-89 2 26 1-104 2 120 1 11 2 12 1-127 2-36 1 73 2 116 1-110 2 10 1 68 2 70 1-67 2-10 1-29 2-27 2 33 1 12 2-39 1 0 2 32 1-46 2 123 1-109 2-12 1 61 2 3 1-76 2-8 1 126 2 36 1-53 2-128 1-10 2 40 1-18 2 27 1 27 2-30 1 134 2-85 1-41 2 27 1 55 2 47 1-60 2-7 1-25 2-104 2 157 1 1 2 20 1-99 2-5 1 67 2-34 1-39 2-83 1 40 2 51 1 34 2 45 1-53 2-57 1 22 2 9 1-68 2 29 1 11 2 95 1 22 2 96 1 17 2-89 1-87 2 34 1 76 2-29 1-76 2 7 1-55 2 36 1 89 2 35 2-14 1-150 2 22 1 40 2-5 1 1 2 40 1 3 2 16 1-31 2-76 1-32 2 87 1 15 2 61 1 73 2-26 1-41 2-4 1-31 2-34 1 10 2 38 1 101 2-103 1 56 2-34 1 7 2 41 1-97 2 4 1 56 2 55 2 70 1 53 2-68 1 23 2-2 1-44 2 10 1-52 2 54 1 37 2-70 1 44 2-53 1-22 2 14 1 111 2 50 1-13 2 12 1-97 2 31 1 38 2 0 1-30 2 66 1-100 2-70 1 44 2-50 1 106 2 4 1-25 2-14 2-72 1 45 2 70 1-26 2-30 1-38 2 19 1 5 2 36 1-61 2 43 1 33 2-89 1 63 2-3 1-36 2 27 1-48 2 56 1-52 2 109 1 47 2-50 1-106 2-63 1 84 2 18 1 25 2 114 1-104 2-5 1-94 2 29 2 63 1 44 2-1 1-45 2 9 1-176 2 44 1 89 2-7 1-74 2-3 1 58 2 35 1 17 2 44 1-20 2-58 1 17 2-113 1-8 2 52 1 8 2-91 1 121 2-46 1-154 2 11 1 97 2 19 1 26 2-156 1 85 2 36 1 35 2 76 2 140 1-68 2-82 1-12 2-57 1-40 2-25 1 118 2-102 1-26 2-29 1 32 2 10 1 43 2-25 1-50 2 63 1-50 2 47 1-32 2 22 1-37 2-100 1 56 2 64 1 45 2-46 1 41 2-62 1-2 2-37 1 60 2 56 2 20 1-47 2 38 1-60 2 123 1-4 2-46 1 85 2-40 1 39 2-66 1-27 2-71 1 41 2 58 1-18 2-49 1-24 2-38 1-82 2 36 1 19 2 64 1 9 2-69 1-7 2 152 1-115 2 114 1-7 2-100 1-13 2-26 2-39 1 23 2 102 1-39 2 30 1 120 2-39 1-74 2-32 1-3 2-106 1 17 2-20 1 17 2-49 1 79 2-44 1-69 2 74 1-25 2 113 1-23 2-33 1 71 2 93 1-50 2-3 1-58 2-26 1-51 2-67 1-1 2 144 1-46 2-16 2-4 1-77 2 36 1 39 2-20 1 110 2-77 1 5 2-91 1 17 2 19 1 27 2 87 1-11 2-17 1-65 2-8 1-7 2 0 1 69 2-12 1 13 2 81 1 65 2-101 1-92 2-54 1 96 2-73 1-63 2 94 1-5 2-85 2 32 1-37 2 80 1 39 2-49 1 29 2-8 1 12 2 80 1-99 2 28 1 47 2 26 1-7 2 57 1-74 2 14 1-37 2 63 1 48 2 17 1-51 2 62 1-95 2 10 1-52 2 52 1-40 2 74 1 43 2-61 1 28 2-61 2 57 1-37 2 58 1 84 2-121 1 22 2-61 1 23 2 112 1-62 2-66 1-51 2-45 1 49 2 55 1 30 2 83 1-55 2-26 1-1 2 54 1-50 2 45 1-76 2 69 1 33 2 2 1 39 2 8 1-9 2 97 1-189 2-32 2-5 1 53 2-21 1 8 2-9 1 91 2-24 1 82 2-49 1 8 2-14 1-6 2-86 1-60 2 28 1 84 2-87 1 100 2 25 1-4 2 13 1-83 2 7 1-51 2 57 1-41 2 39 1 27 2-16 1-5 2-12 1 34 2 104 1 2 2 142 2-66 1-21 2-105 1 150 2-176 1 34 2 86 1-70 2-40 1-20 2-84 1 102 2 9 1 10 2 49 1-25 2-75 1 67 2-7 1-34 2-22 1 120 2-27 1 22 2-81 1 21 2-98 1 122 2-14 1 51 2-116 1-51 2 120 2-29 1 20 2 88 1 17 2-42 1-48 2 26 1-32 2-12 1-15 2 74 1-33 2-33 1 81 2-118 1-57 2 33 1-93 2 109 1 66 2 15 1 0 2-133 1 12 2 40 1-29 2-78 1 23 2 54 1-11 2-66 1 52 2-59 2 49 1 36 2-13 1-91 2 60 1-54 2 14 1 48 2 23 1-27 2-15 1 14 2-1 1 81 2 19 1 48 2-25 1-14 2 16 1-58 2 32 1-13 2-60 1-86 2 47 1-67 2-39 1 134 2-10 1 67 2 13 1-38 2 72 1-74 2 9 2 14 1-46 2 60 1 91 2-46 1 7 2-21 1 42 2 3 1 3 2 38 1-2 2 0 1-49 2-209 1 91 2 109 1-60 2 79 1 41 2-20 1-42 2-22 1-18 2 3 1-62 2-12 1 68 2 14 1 74 2-73 1 13 2-118 2 66 1-73 2 96 1 88 2 13 1-49 2-70 1 52 2-68 1 29 2 23 1 3 2-115 1 26 2-4 1 108 2-28 1-26 2-85 1 97 2 51 1 35 2 6 1-69 2 37 1-83 2 19 1 50 2 32 1 45 2 41 1-126 2-60 2 74 1 12 2-116 1 70 2-7 1-34 2 27 1 14 2 17 1-14 2 99 1-41 2-30 1 75 2-58 1 37 2 103 1 35 2-108 1-81 2 0 1 61 2-44 1-86 2 6 1 94 2-70 1 12 2 3 1-31 2-41 1 13 2 54 1-17 2-21 2-77 1 91 2-6 1 32 2-49 1 16 2 145 1-151 2-6 1 29 2 49 1-10 2 11 1-65 2-49 1-26 2-27 1 43 2-43 1-11 2-25 1-9 2 27 1-76 2-28 1 67 2-91 1-59 2 152 1 127 2-12 1-68 2-80 2-20 1 21 2-47 1-13 2 50 1 16 2-61 1 74 2 39 1 37 2-114 1-21 2-20 1 48 2-6 1-57 2 51 1-51 2 43 1 30 2-18 1-37 2-66 1 82 2-69 1 100 2 39 1 100 2-105 1-86 2 97 1 15 2 8 2 91 1-43 2-36 1 26 2 51 1-43 2-43 1 102 2-17 1-58 2 147 1-72 2-125 1 87 2-98 1 40 2-31 1 29 2 85 1 66 2-185 1 94 2 1 1-89 2 9 1 8 2 139 1-14 2 21 1 69 2-99 1-77 2 36 2 17 1-48 2-62 1 75 2-91 1-36 2 44 1 84 2-45 1-29 2-70 1 69 2-71 1 62 2-2 1 19 2 2 1-89 2 57 1-39 2 38 1-5 2 29 1-32 2 97 1-35 2-96 1-51 2 124 1 27 2-28 1-137 2 45 1-4 2 5 2-27 1 58 2-32 1-29 2-39 1 84 2-48 1-91 2 24 1 22 2 190 1-100 2-111 1-13 2 25 1-3 2-129 1 126 2 64 1-34 2 27 1 141 2-58 1-40 2 37 1-43 2-5 1 109 2-65 1-135 2-59 1 142 2 84 2-15 1-24 2 76 1 11 2-111 1 6 2-41 1 31 2-31 1 79 2 64 1 52 2 96 1-32 2 46 1-23 2-49 1-40 2-24 1 36 2-3 1-78 2 41 1 6 2 147 1 8 2-101 1 40 2 40 1-96 2 75 1-83 2 29 2 38 1 92 2-131 1 101 2 25 1-110 2 63 1-52 2 1 1 14 2 50 1 1 2-43 1 52 2-74 1-26 2-21 1-5 2-16 1 4 2-24 1 18 2 24 1 88 2 98 1-49 2-83 1 53 2 80 1-15 2-49 1-57 2 20 1 66 2-40 2-62 1 12 2-50 1 70 2-58 1-80 2 78 1 41 2-54 1-162 2 62 1 62 2-41 1 70 2 114 1 27 2-102 1 109 2 61 1-106 2-13 1-63 2 102 1 41 2 12 1 40 2-33 1-11 2-64 1 12 2 23 1-28 2-69 2-35 1 8 2 76 1 50 2 64 1-39 2-15 1-96 2 13 1-15 2-58 1 143 2 13 1 3 2-31 1 38 2-98 1-64 2-19 1-10 2 79 1-90 2 52 1 102 2-51 1-50 2 36 1 72 2 17 1-35 2 112 1-144 2-85 2 4 1-69 2 22 1 76 2-66 1-23 2 72 1 60 2 13 1-107 2 7 1-181 2 90 1-25 2 0 1 28 2-32 1 89 2 0 1 90 2 99 1-64 2 24 1 29 2-94 1-8 2-39 1-115 2 35 1 14 2 81 1-68 2-38 2 89 1-50 2-7 1 16 2-1 1-132 2 88 1 44 2-8 1 23 2 106 1-83 2-60 1-96 2 80 1 84 2-41 1 56 2-22 1 26 2-31 1 16 2-49 1 68 2-142 1-2 2 79 1 68 2-22 1 13 2 26 1-98 2-45 1 83 2-32 2-10 1-35 2 57 1-122 2 45 1-61 2 82 1-32 2 41 1-62 2 67 1 67 2 61 1 8 2-58 1-27 2-6 1-70 2-45 1 111 2-55 1-113 2 111 1 58 2-36 1-6 2 24 1 9 2-92 1-24 2 92 1 93 2 32 2-65 1 28 2 17 1-88 2-1 1 14 2-21 1-98 2 15 1-23 2 9 1-80 2 126 1 48 2-11 1-144 2-60 1 99 2 25 1-47 2-9 1-54 2 24 1 83 2-77 1-84 2 111 1 72 2-23 1 52 2-93 1 46 2-101 2 1 1-28 2-45 1 19 2 62 1-90 2 76 1-113 2 46 1 18 2-49 1-29 2-18 1 101 2 23 1-55 2-34 1-6 2-82 1 28 2-35 1-42 2 20 1 44 2-23 1 3 2-8 1 76 2-31 1-102 2 52 1 7 2 26 1-43 2 145 2-132 1-3 2 18 1-24 2-44 1-2 2-22 1-49 2 29 1-26 2-43 1 25 2 74 1-33 2-81 1 71 2-7 1 4 2-29 1 49 2 30 1-103 2 15 1 79 2-25 1 30 2-76 1 119 2-8 1-76 2 81 1 15 2-68 2-6 1 3 2-15 1 85 2 12 1-145 2 63 1-16 2 7 1-45 2 0 1 1 2-31 1 14 2 125 1 19 2-123 1-43 2 38 1 111 2 41 1-137 2-15 1-21 2 139 1 90 2-4 1 48 2-62 1 34 2-58 1-4 2 21 2-63 1-36 2 8 1 20 2 5 1 105 2 68 1-24 2-64 1-125 2-3 1 90 2 29 1 51 2-38 1-21 2-15 1-32 2-60 1-19 2 105 1-57 2 81 1-22 2 0 1-96 2 49 1 14 2 25 1-49 2 5 1 49 2-39 1-94 2-43 2-2 1 112 2 49 1 10 2 129 1-128 2 105 1-42 2 47 1-34 2-63 1-17 2 60 1 12 2-84 1 14 2 11 1-48 2 184 1-47 2-83 1-72 2 14 1 93 2-35 1-79 2 104 1 53 2 2 1 24 2 101 1 88 2-4 2-52 1-71 2 0 1-53 2-69 1-165 2 51 1 145 2-17 1 45 2 7 1-18 2-7 1 105 2 65 1-46 2-56 1-124 2 21 1 61 2 43 1 42 2 62 1 33 2-26 1-36 2 23 1-34 2-4 1-6 2-3 1-43 2 7 2 135 1-68 2-28 1 11 2-28 1 46 2-33 1 37 2-67 1-5 2 84 1 19 2-79 1-13 2 9 1 89 2 25 1-47 2-33 1 4 2 33 1-9 2 4 1 41 2 24 1-4 2 33 1-98 2-75 1-56 2 75 1 53 2-37 2 19 1-1 2 10 1 73 2-108 1 80 2 57 1-99 2 44 1-89 2-16 1-16 2 22 1 76 2 28 1-57 2-33 1 33 2 33 1-4 2-47 1-67 2-37 1 43 2-64 1-20 2-49 1 99 2-22 1-42 2 133 1-65 2 5 1-38 2 21 2-37 1 67 2 32 1-37 2-17 1 93 2-95 1-36 2-12 1 92 2-65 1-1 2-34 1 42 2 47 1 47 2 9 1-69 2 56 1 21 2-42 1 3 2 109 1-32 2-44 1-116 2-26 1 87 2 53 1 5 2-40 1 27 2-52 2 82 1-38 2-66 1 153 2-48 1-48 2-52 1 3 2 1 1-12 2-3 1 14 2-81 1-21 2-10 1 93 2 40 1-72 2 78 1-77 2 83 1-143 2-33 1 75 2 50 1 108 2-45 1-105 2-43 1 27 2-112 1 18 2 13 2 40 1-15 2-112 1 59 2 138 1-21 2-108 1-7 2 87 1 15 2 112 1-51 2 57 1-3 2 20 1 19 2-120 1-64 2 54 1 21 2-65 1 65 2 42 1 59 2-113 1 24 2 23 1 38 2 31 1-82 2 48 1 25 2 84 1 18 2-39 2-28 1 46 2-15 1-25 2 118 1-114 2-23 1 45 2-24 1-62 2-8 1-17 2-5 1-44 2 87 1 15 2-57 1 1 2 50 1-6 2 21 1-32 2 81 1 52 2 24 1-53 2-183 1-30 2-29 1 63 2-59 1 25 2 46 2-27 1 98 2 120 1 6 2-132 1-41 2 8 1 28 2 11 1-16 2 59 1-75 2 68 1-105 2 49 1 54 2-5 1 27 2-23 1 85 2-26 1-34 2-23 1 28 2-93 1 106 2-30 1 3 2-9 1 9 2-94 1 30 2 73 2-143 1 52 2 54 1-40 2 67 1 5 2-66 1 84 2 0 1-82 2-92 1 52 2 21 1-53 2 117 1 30 2 21 1 75 2 92 1-75 2-120 1-60 2-65 1 183 2-26 1-97 2 59 1 59 2-53 1-33 2-41 1 4 2-65 1-3 2 16 2 40 1-30 2 55 1-78 2-34 1-11 2 113 1-25 2-2 1-29 2 119 1 20 2-19 1-105 2 55 1-45 2 8 1-96 2 46 1 136 2 15 1-29 2-79 1-7 2 39 1 91 2-18 1-3 2-84 1-39 2 125 1 118 2-33 2-67 1 48 2 7 1-112 2-42 1 112 2-42 1-23 2 13 1-25 2-19 1-116 2 66 1 93 2 47 1-47 2-101 1 10 2 8 1 35 2 52 1-1 2 74 1-55 2 3 1 3 2 69 1-4 2 34 1-41 2 16 1-18 2-45 2-46 1 94 2 16 1 46 2-104 1 63 2-84 1 50 2-52 1 69 2 32 1-18 2-6 1-6 2-35 1-62 2-15 1 64 2 117 1-49 2 139 1-108 2-63 1 67 2-63 1 31 2-85 1 66 2 41 1 29 2-45 1 43 2-131 2 62 1-88 2 81 1 34 2 36 1 25 2-58 1-72 2 10 1 61 2-21 1 42 2 146 1-68 2 49 1-37 2-49 1 5 2 4 1-120 2-37 1-67 2 31 1 8 2-78 1 96 2 5 1 2 2 11 1-23 2 20 1-40 2 80 1-23 2 60 2-50 1-51 2 40 1 47 2-8 1-29 2 90 1 28 2-98 1 16 2 71 1 75 2-48 1 48 2-70 1-32 2-131 1 105 2-48 1 74 2 51 1-27 2 8 1-134 2 23 1 49 2-136 1 103 2 28 1 11 2 41 1-69 2-68 2 104 1 18 2-12 1 50 2 44 1-41 2 12 1-60 2-76 1-12 2-2 1 61 2 12 1-44 2-41 1 20 2-39 1 15 2 73 1-30 2 18 1 72 2-96 1-28 2-36 1 59 2-79 1 9 2-16 1 72 2 34 1-65 2 25 2 12 1-71 2-25 1 36 2-72 1 156 2 4 1 17 2-93 1-56 2 70 1 9 2-27 1 4 2 23 1-38 2-57 1 50 2 111 1 7 2 7 1 18 2-55 1-33 2-14 1 12 2 17 1 68 2 18 1 42 2-35 1 1 2-13 1-30 2 10 2-74 1-44 2 80 1-93 2 55 1 52 2-13 1 65 2-58 1-81 2 107 1-40 2-37 1-31 2-21 1-5 2 47 1-46 2-3 1-20 2 21 1 29 2 27 1-37 2-55 1 145 2 63 1 52 2-38 1-7 2-66 1-15 2-87 2 41 1 44 2 28 1-18 2-47 1 5 2 21 1 58 2-85 1 14 2 25 1-35 2-49 1-131 2-38 1 119 2 45 1 112 2 65 1 36 2-121 1-22 2 72 1-1 2-17 1 8 2-115 1 110 2-23 1-55 2-46 1 118 2-45 2 53 1-2 2 54 1-98 2-179 1 6 2 63 1 128 2-53 1-58 2 91 1-55 2 96 1 33 2-67 1 58 2-92 1-90 2 23 1-3 2-69 1 36 2-40 1-49 2 108 1-86 2-9 1 59 2-1 1 27 2 10 1 73 2 22 2 1 1-75 2-28 1 10 2 29 1-50 2 168 1 34 2-84 1 20 2-41 1-71 2-4 1 126 2 12 1 55 2-57 1-68 2 45 1-20 2 15 1-89 2 35 1 20 2-19 1-43 2-2 1 43 2 32 1-10 2-7 1 44 2 23 1-12 2-39 2 26 1 53 2-13 1 4 2-74 1 32 2 9 1-114 2-2 1 64 2-74 1 43 2 50 1-53 2 87 1-38 2-62 1-47 2 40 1 31 2-22 1-62 2 127 1-89 2-9 1-59 2 110 1-75 2 61 1-22 2 39 1 129 2-48 2-64 1-72 2 43 1 54 2-81 1 4 2-55 1-63 2 65 1 37 2 38 1 110 2-48 1-80 2-64 1 38 2-87 1 78 2 27 1 22 2 18 1 2 2 16 1-1 2-27 1-14 2 52 1-53 2 33 1-52 2-9 1 107 2 15 2-115 1 42 2 9 1-5 2-24 1-43 2 17 1-83 2 66 1 30 2 13 1-16 2-92 1-97 2 97 1 58 2-2 1 22 2-33 1 85 2-52 1 140 2-83 1-54 2-140 1 119 2-27 1-15 2 90 1-9 2 57 1 39 2 47 1-36 2 15 2 74 1-89 2 58 1-91 2-42 1 38 2 84 1 4 2 12 1-19 2-31 1-173 2 159 1 7 2-50 1-50 2-58 1 93 2-27 1 183 2-41 1-71 2-53 1 98 2 18 1 82 2-19 1 16 2-82 1 5 2-67 1-11 2 5 2-124 1-41 2 130 1-75 2-17 1-48 2 31 1 141 2 2 1 119 2 4 1-23 2-132 1-2 2-19 1-30 2 71 1-79 2 15 1 69 2 15 1-5 2-49 1-77 2 58 1 20 2-104 1-151 2-6 1 79 2 88 1-11 2 24 2 68 1-79 2-125 1 135 2 67 1 24 2 49 1-80 2 76 1-86 2-27 1-37 2 89 1-16 2-33 1-56 2-8 1 64 2-58 1-51 2-28 1 89 2-13 1 57 2-2 1-60 2 94 1-182 2-30 1 88 2 49 1-14 2 2 1 46 2-18 2 65 1-23 2-147 1 18 2 20 1-105 2 14 1-19 2 62 1-55 2 32 1-39 2-12 1-78 2 4 1 61 2 92 1 7 2 18 1-110 2 48 1 139 2-74 1-69 2 44 1-45 2 99 1-23 2 3 1-28 2-34 1 65 2-54 2 49 1-21 2-81 1 76 2-2 1-96 2-34 1 98 2 46 1-30 2 69 1-9 2 87 1-71 2 76 1-46 2-62 1 55 2 86 1 37 2 41 1-172 2 106 1 45 2-69 1-28 2-70 1-55 2 12 1 37 2 64 1 22 2-61 2-20 1 4 2 122 1 38 2 14 1-11 2 45 1-82 2-73 1-79 2 73 1 30 2 7 1 14 2 46 1-70 2 110 1-15 2 78 1-116 2 58 1 11 2-69 1 18 2-45 1 8 2-130 1 93 2 43 1-66 2-12 1-27 2 26 2-50 1-12 2-58 1 107 2-14 1 27 2-40 1 69 2-67 1 86 2-78 1-25 2 126 1-48 2 97 1-77 2 65 1-39 2-21 1 78 2 53 1-93 2 8 1-86 2 16 1-173 2 71 1-48 2 46 1 49 2 3 1 73 2 45 1-98 2 57 2 84 1-47 2 52 1-29 2-66 1-51 2-51 1 20 2 29 1 33 2 28 1 46 2-94 1 81 2-53 1 77 2-30 1 211 2-41 1 18 2-111 1-56 2 94 1 36 2-53 1-2 2 24 1-34 2 114 1-108 2 3 1 195 2 3 2-33 1-163 2 34 1 101 2-97 1-2 2 17 1-72 2 58 1-2 2-47 1-1 2-24 1 47 2-84 1 127 2 66 1-74 2 15 1-26 2-1 1-1 2 75 1-63 2-82 1 91 2-116 1-42 2 109 1-31 2 83 1 15 2 52 2-9 1 88 2-58 1 14 2 8 1 81 2-77 1-149 2 27 1 14 2 58 1-2 2 22 1 66 2 1 1-25 2-61 1 2 2-40 1-79 2-31 1 62 2 113 1-16 2-14 1-76 2 2 1-151 2 98 1-9 2 90 1 59 2 2 1-26 2-40 2 191 1-123 2-98 1-45 2 10 1 56 2-6 1-45 2 128 1-41 2-9 1 40 2-108 1 89 2 64 1-12 2 47 1-106 2 124 1 41 2-62 1-55 2 94 1-94 2 134 1-94 2 64 1 3 2-121 1 35 2 35 1-26 2-102 2 37 1 86 2-7 1 76 2 19 1 8 2-75 1 27 2-35 1-60 2-58 1 142 2-8 1 72 2-79 1-27 2 6 1 40 2 43 1 72 2-117 1-1 2-24 1-12 2-38 1-91 2 69 1-6 2 135 1-13 2 22 1 1 2-92 2 5 1 3 2-13 1 6 2-7 1 19 2 0 1 4 2-7 1 78 2-51 1-32 2-37 1 71 2 26 1-75 2 40 1-53 2 40 1 45 2 50 1-22 2-12 1 20 2-117 1-3 2 46 1-84 2-13 1 86 2 59 1-11 2-59 1 79 2-115 2 38 1-56 2 23 1-31 2-5 1-39 2 91 1-91 2 117 1-16 2-18 1 22 2-28 1 122 2-19 1-67 2 1 1 50 2-36 1-8 2 40 1-117 2 46 1 51 2-42 1 21 2-23 1-37 2 22 1-44 2-10 1-54 2 77 2-10 1-14 2-19 1 124 2 6 1-85 2-60 1-1 2-4 1-84 2 44 1 54 2-99 1-2 2 25 1 48 2-99 1 55 2 38 1-88 2 121 1-11 2-55 1 15 2 31 1-53 2 61 1-18 2-61 1 76 2-101 1 26 2 16 2 21 1-54 2 33 1-20 2-75 1-60 2 116 1-74 2 54 1-38 2 2 1-25 2 45 1-46 2-41 1 65 2 4 1-39 2-37 1 10 2 19 1-10 2 54 1-5 2 27 1 20 2 123 1 48 2-91 1-70 2-13 1 9 2 19 2-30 1 37 2-8 1-75 2 113 1 31 2-11 1 107 2 20 1-111 2-34 1 21 2-86 1 91 2-107 1 60 2 71 1-52 2 8 1 15 2 33 1 113 2 81 1-63 2-88 1 44 2-29 1 76 2 47 1-71 2-82 1-57 2-70 1 85 2 2 2-51 1 70 2 14 1-10 2-11 1-58 2-23 1 45 2 129 1-97 2-61 1-14 2-4 1-21 2-59 1 72 2 21 1 60 2-4 1 8 2 9 1 75 2-58 1-93 2 166 1-122 2-11 1 31 2-53 1 21 2-15 1-88 2 10" stroke="#00ff00" stroke-width="25.0" stroke-linejoin="round"/>
<path transform="scale(0.1)" d="M9172,5146l2-105 1-1 2-2 1 3 2 1 1 0 2 1 1 0 2 0 1 0 2 2 1-2 2 1 1 0 2-3 1 2 2 0 1-1 2 0 1 0 2 0 1-1 2 1 1 0 2-1 1 1 2 2 1-2 2-1 1-1 2 0 1 1 2-2 2-2 1 0 2 2 1 0 2 2 1 1 2-1 1-1 2-1 1 1 2-3 1 3 2-1 1 1 2-1 1 2 2-3 1-1 2 4 1-2 2 1 1-1 2 1 1 2 2 2 1 0 2-1 1 2 2 0 1-2 2-1 1 1 2-3 1 2 2-1 2-2 1 3 2-2 1 1 2 1 1-3 2-2 1 2 2-1 1 0 2 1 1-3 2 2 1 2 2 0 1 1 2 0 1 1 2 2 1-2 2 1 1-3 2-1 1 1 2 1 1 1 2-1 1-3 2 1 1 2 2-3 1 2 2 1 2-3 1 0 2-1 1 0 2 0 1 1 2 0 1-3 2 4 1 4 2-1 1 2 2-2 1 1 2-1 1-2 2 1 1 1 2-2 1 2 2-1 1 0 2 2 1-2 2 2 1-2 2 0 1 2 2 0 1-2 2 0 1-4 2 3 2-2 1 4 2 0 1-2 2 3 1-2 2 2 1 1 2 0 1 0 2 0 1 0 2 0 1 3 2-4 1-4 2 1 1 1 2 2 1-1 2 0 1 1 2 0 1-1 2-1 1 0 2 0 1 1 2-1 1 0 2 2 1 0 2-1 2-2 1 5 2 2 1-3 2-1 1 0 2 2 1-1 2-2 1 0 2 2 1 0 2-1 1 0 2-3 1 4 2 1 1-4 2 3 1-1 2-3 1 2 2 0 1-3 2 3 1 3 2-2 1 0 2 0 1 0 2-2 1 1 2-2 1 0 2 1 2-1 1 0 2 2 1 0 2 0 1-158 2-282 1-685 2-30 1-31 2-42 1-28 2-23 1-36 2-22 1-19 2-38 1-25 2-35 1 1 2-29 1-22 2-12 1 14 2-26 1-2 2-49 1-28 2-30 1-87 2-7 1 92 2-32 2-9 1-10 2 18 1-50 2 133 1 2 2-81 1-34 2-58 1 13 2 15 1-79 2 10 1 82 2-96 1 72 2-81 1-14 2-31 1-46 2 70 1-42 2 16 1 7 2-6 1 15 2-39 1-10 2 39 1-66 2 7 1 50 2-46 2-39 1 65 2-24 1 11 2-23 1 0 2-19 1-22 2 125 1-43 2-47 1-33 2-54 1 17 2-47 1-1 2 60 1 47 2-83 1-23 2 120 1 21 2-91 1 0 2 84 1-48 2-59 1-10 2 33 1 15 2 34 1-1 2-46 1-140 2-82 2 88 1 121 2-11 1 23 2 3 1 74 2-42 1 0 2-29 1 56 2-35 1 28 2-2 1-8 2-20 1-1 2 10 1-5 2 3 1-2 2-10 1-129 2-33 1 70 2 88 1-90 2 17 1-26 2-63 1 132 2-11 1-34 2-84 2 26 1 3 2 2 1 2 2-1 1 35 2 35 1 1 2-61 1-67 2 16 1 22 2-60 1-8 2-17 1 23 2 22 1-22 2 15 1-50 2 47 1-9 2-2 1 61 2-9 1 25 2-27 1-16 2-171 1 93 2-30 1 38 2-21 2 3 1 23 2-104 1-30 2 117 1-21 2 13 1 51 2-49 1-56 2-15 1-31 2-90 1 68 2-51 1-81 2 212 1-1 2-61 1 18 2 62 1-73 2-19 1 129 2-40 1 26 2-2 1 69 2-47 1 1 2 80 1 11 2-58 1-51 2 104 2-34 1 28 2 15 1-7 2-75 1 2 2 87 1 3 2-27 1-48 2 39 1 12 2-3 1-17 2 126 1-99 2 0 1 15 2 77 1-28 2-101 1 83 2 83 1-49 2-9 1-6 2 66 1-61 2-36 1 230 2-86 1-82 2 33 2 76 1-53 2-148 1 5 2-83 1 20 2 59 1 54 2-72 1 96 2 16 1 6 2-32 1-16 2 68 1 12 2-130 1 24 2 23 1 22 2-9 1 56 2-80 1-14 2 42 1-32 2 28 1 30 2-41 1 20 2 62 1-95 2 63 2 0 1-64 2 108 1 12 2-25 1 19 2 19 1-17 2 13 1-2 2-38 1-1 2-91 1 20 2-62 1 47 2-56 1 71 2-28 1 34 2-56 1 89 2 32 1-14 2 65 1-76 2 19 1-34 2-39 1-4 2 76 1 72 2 46 2-8 1 0 2-8 1-69 2 44 1 29 2-67 1-129 2 57 1 4 2-5 1-49 2-30 1 44 2-44 1 15 2-22 1-62 2 152 1 53 2 33 1 7 2-57 1-31 2-112 1-48 2 25 1 17 2-22 1-2 2 29 1-26 2 42 1 7 2 5 2 5 1 34 2-38 1 4 2 65 1-118 2-73 1-39 2 11 1 62 2 96 1 50 2 47 1-17 2 53 1-61 2-30 1 16 2 2 1-25 2-47 1 27 2-89 1 87 2 25 1 21 2 4 1-18 2-45 1 41 2-88 1 122 2-26 2-8 1 82 2 42 1-54 2-77 1-12 2 19 1 19 2 19 1 1 2-44 1-54 2-9 1 49 2-25 1-34 2 130 1-33 2 39 1-9 2 55 1 9 2-45 1 7 2-12 1 16 2-51 1-77 2 56 1-31 2 17 1-30 2-54 2 13 1 30 2 55 1-76 2-78 1 142 2-41 1 13 2 63 1-112 2-19 1-85 2 119 1 46 2 75 1-35 2 68 1-26 2-103 1-17 2-42 1 13 2-28 1 15 2 86 1-36 2 0 1 34 2 35 1-88 2 92 1-1 2-59 1-49 2-14 2 69 1-79 2 11 1 90 2-80 1 8 2 89 1 105 2-56 1-9 2-38 1-18 2 31 1-47 2-28 1 54 2-54 1-8 2 19 1-27 2 39 1 42 2-15 1 13 2-116 1 3 2 3 1-74 2-27 1-46 2 114 1-57 2 67 2 35 1 0 2 2 1 11 2-2 1-58 2 144 1 58 2 30 1-63 2-37 1-16 2-76 1 34 2 96 1-51 2-90 1-52 2 61 1 25 2 3 1-12 2 12 1 39 2-85 1-48 2 63 1 68 2 45 1 50 2 43 1-41 2 5 2-40 1 17 2 26 1-5 2 110 1-75 2-20 1-110 2 59 1 9 2 42 1-120 2-4 1-40 2 70 1-16 2 79 1 18 2-2 1 19 2-56 1-48 2-58 1 82 2 40 1-6 2-42 1 75 2-10 1-80 2 13 1 27 2 67 1 9 2-49 2-48 1 121 2-42 1 14 2 50 1-116 2 2 1 75 2 48 1-38 2 52 1-32 2-53 1 55 2-39 1-39 2 14 1-30 2-37 1-14 2 44 1-56 2 38 1-7 2-1 1-1 2 96 1-99 2-30 1 6 2-17 1 44 2-2 2-44 1 121 2 8 1-9 2-25 1 1 2 10 1-54 2-60 1-16 2-31 1 0 2-60 1-23 2 66 1 62 2 14 1 7 2-48 1-13 2-3 1 42 2 13 1-7 2-29 1 156 2-83 1-44 2 30 1-95 2-21 1-11 2 122 2-53 1-1 2 9 1 119 2 47 1-35 2 37 1-120 2 58 1-69 2-27 1-134 2 54 1-53 2 88 1 94 2-43 1-57 2 29 1-55 2 13 1 18 2 6 1 5 2 35 1-9 2-20 1 44 2 136 1-90 2 9 1-56 2 36 2-40 1 22 2 16 1 6 2-30 1 82 2-99 1-32 2 9 1 95 2-69 1-3 2-89 1 67 2 18 1-51 2 138 1-7 2-18 1 81 2-20 1-67 2-47 1-81 2-22 1 95 2-44 1-12 2-1 1 73 2-98 1-60 2 39 1 57 2 66 2 40 1-88 2 92 1-90 2 12 1-18 2-35 1-104 2 43 1 52 2 12 1 12 2 16 1 2 2 50 1-29 2 72 1-89 2 27 1 42 2-57 1-30 2-8 1 94 2 37 1-63 2-133 1 13 2 4 1-2 2 68 1-67 2 55 2-16 1 32 2 35 1 8 2 11 1-7 2-101 1-5 2 51 1-23 2 47 1-57 2-10 1 45 2 19 1 1 2 53 1 45 2-25 1 5 2-34 1-74 2 7 1-36 2-80 1 82 2-58 1 92 2 79 1-25 2-8 1 65 2-104 2-42 1 66 2 15 1 7 2 58 1-53 2 60 1 62 2-123 1 34 2 30 1-3 2 5 1-136 2 19 1-17 2-16 1-77 2 190 1-29 2-15 1 19 2-39 1-4 2 109 1-37 2 11 1-63 2 132 1-63 2-7 1-54 2-16 1 126 2-66 2-15 1 44 2-63 1 15 2-80 1-32 2 108 1-25 2 29 1 18 2 26 1-40 2 69 1-30 2 83 1-41 2 52 1 33 2-45 1 33 2-107 1 51 2-107 1-24 2 17 1-16 2 19 1-101 2 40 1 96 2 1 1 8 2 17 2 27 1 4 2-65 1 5 2-33 1 34 2 10 1 29 2-79 1-74 2 38 1-40 2 98 1 23 2-74 1 90 2-173 1-24 2-57 1 59 2 106 1 30 2 24 1-68 2 55 1 22 2-113 1 90 2 27 1-101 2-108 1 137 2 124 2-12 1-62 2-15 1 13 2 43 1-88 2 33 1 23 2-33 1-90 2 5 1-125 2 89 1 5 2 134 1 8 2-15 1 19 2 16 1 1 2 21 1-21 2-46 1-32 2 58 1-15 2 20 1-78 2-84 1 21 2 19 1 42 2-20 2 23 1 68 2-95 1-110 2 20 1 29 2 0 1-87 2 86 1-28 2 26 1 145 2-10 1-36 2-24 1 7 2 70 1-40 2-28 1-30 2-96 1 42 2-51 1 10 2-104 1 41 2-87 1 150 2 75 1-32 2 5 1-95 2-10 1-3 2 75 2 27 1-51 2 57 1-14 2-74 1 38 2 13 1-61 2 20 1 106 2-23 1-14 2-21 1-107 2-16 1 43 2 61 1-27 2-1 1-55 2 25 1-28 2 82 1 33 2 3 1 41 2-39 1 17 2 17 1 33 2-14 1 69 2-89 2-32 1-19 2-46 1 25 2 45 1-55 2 54 1 8 2 112 1-4 2-26 1-59 2-41 1-37 2 67 1 27 2-10 1 41 2 6 1-12 2 87 1 32 2-85 1 3 2-65 1 21 2 35 1-71 2 21 1-36 2 43 1 44 2-19 2 6 1-15 2 20 1-57 2-65 1-36 2 67 1-87 2 113 1-36 2-19 1-43 2 41 1 10 2-94 1-57 2 94 1-12 2 31 1 116 2-113 1 13 2-50 1-29 2 57 1-82 2 25 1 66 2-51 1-33 2 10 1-9 2-104 1-19 2 26 2 39 1-113 2 48 1 110 2-96 1 41 2 108 1 21 2 18 1 40 2-37 1-51 2-137 1 12 2 30 1-11 2-33 1-47 2-57 1 141 2 69 1-34 2-139 1 60 2-50 1 51 2 16 1 19 2-88 1 42 2 10 1-14 2-40 2 13 1-32 2-59 1 5 2 54 1 35 2-9 1 23 2 57 1 14 2-3 1 81 2-214 1-13 2 43 1 31 2-69 1 88 2 46 1-89 2 6 1-62 2 3 1 6 2 27 1-35 2-17 1-2 2 33 1-87 2 41 1-26 2 86 2 63 1-77 2 19 1 32 2-60 1-70 2 51 1 53 2-7 1-26 2 26 1 118 2-70 1 40 2-127 1 73 2-21 1 22 2 1 1-121 2 65 1-36 2 39 1 36 2-35 1-21 2 37 1 48 2-34 1-178 2 74 1-1 2 77 1-167 2 164 2 74 1 81 2-75 1-15 2-15 1 13 2-78 1-45 2-11 1 197 2 37 1-31 2-61 1 170 2-131 1-16 2-89 1 115 2 51 1 30 2 23 1-12 2 55 1-134 2-41 1 66 2 89 1-102 2 115 1 7 2 11 1-27 2-75 2-75 1-13 2 77 1-90 2-42 1-13 2-83 1 132 2 53 1 55 2 10 1-53 2-17 1 21 2-58 1 21 2 27 1 32 2 47 1-45 2 37 1-25 2-58 1-27 2 33 1-95 2 122 1-45 2 7 1-16 2 43 1 43 2-36 2 90 1-55 2 56 1 51 2-81 1-1 2-132 1 105 2-30 1-12 2-11 1 18 2 81 1-77 2-51 1-4 2 3 1-52 2-21 1 10 2 75 1-53 2 75 1-24 2 59 1-4 2-63 1 25 2-38 1 28 2-86 1 41 2-123 2 30 1 64 2 96 1 21 2-123 1 100 2 71 1-34 2-75 1 33 2 54 1-14 2-4 1-73 2-77 1 55 2 79 1 50 2 60 1-49 2 56 1-97 2 0 1 11 2-108 1 110 2-75 1-21 2-17 1-2 2 66 1-62 2-53 1 123 2-43 2-8 1-1 2-33 1 11 2 14 1-79 2 66 1 7 2 15 1 36 2-6 1-82 2 69 1-132 2 121 1 114 2-46 1 21 2-119 1-31 2 72 1-19 2 7 1-149 2 34 1 19 2-10 1 5 2 12 1 56 2-10 1-17 2 80 2-21 1 63 2 42 1-43 2-75 1-61 2 44 1 71 2-2 1-15 2-28 1-43 2 15 1-45 2 59 1-22 2-28 1-12 2-15 1 80 2-73 1 43 2 3 1 49 2-53 1 10 2 20 1-65 2 36 1-31 2-22 1-23 2 14 2 64 1-26 2-30 1-121 2-66 1 20 2 9 1 179 2 2 1 40 2-76 1-26 2-36 1-28 2-13 1 36 2 34 1-61 2 6 1-48 2 38 1 32 2 40 1-57 2 50 1 108 2-25 1-23 2-46 1 1 2-79 1 2 2-34 1-40 2-33 2 2 1 74 2-10 1 37 2-27 1 47 2-28 1 32 2-35 1-52 2-43 1 59 2-51 1 129 2-27 1 75 2-23 1 35 2-43 1 13 2-93 1-94 2 11 1-2 2 24 1 38 2 34 1 67 2 34 1-71 2 12 1-23 2 66 2-144 1-46 2 50 1-65 2 25 1 5 2 58 1 56 2-78 1 4 2-25 1-34 2 22 1 46 2-5 1 109 2-41 1-77 2 33 1-91 2 68 1 69 2-40 1 5 2-38 1 51 2-45 1 23 2 7 1-35 2 62 1-7 2-67 2-45 1 2 2 112 1-5 2 16 1 9 2 76 1 72 2-112 1-45 2 83 1-3 2-16 1 19 2-44 1 17 2 64 1-15 2-51 1 46 2-63 1-54 2-17 1-4 2 38 1-22 2 58 1 112 2-33 1-127 2-40 1 87 2-1 1 42 2 45 2-22 1-67 2 3 1 13 2 111 1-158 2 72 1-11 2-49 1-9 2-40 1 145 2 13 1-6 2 30 1 42 2-103 1 37 2-88 1-62 2 31 1 76 2 8 1 8 2-5 1 3 2-50 1-9 2-10 1-16 2-78 1-83 2 61 2 44 1 21 2-35 1-27 2 17 1 42 2-12 1-38 2 64 1-11 2 101 1 0 2-47 1 66 2 32 1-62 2 70 1-36 2-139 1-10 2-83 1-26 2 122 1 22 2-7 1-49 2-33 1 2 2 18 1 87 2-64 1 48 2-59 2-45 1 120 2-94 1 51 2-36 1-6 2-66 1 5 2-47 1 25 2 110 1 31 2-32 1-38 2 13 1 66 2 58 1-29 2-177 1 64 2 58 1-24 2-13 1 22 2 122 1 22 2 7 1-60 2 20 1-4 2 45 1 5 2-148 2-11 1 5 2 78 1 66 2-82 1 5 2-12 1-1 2 11 1 158 2-80 1-107 2 27 1 35 2-9 1 40 2 85 1-12 2-41 1-68 2 68 1 2 2-12 1-40 2-102 1 15 2 9 1 101 2-98 1 124 2-94 1-25 2 33 1 91 2-39 2 28 1-78 2 168 1-54 2 97 1-76 2-14 1-82 2 71 1 30 2 88 1-51 2-71 1-2 2 37 1-16 2-38 1-19 2 108 1-1 2 30 1 117 2-116 1-43 2 37 1-62 2-28 1 24 2-30 1-2 2 35 1-73 2 81 2-117 1 4 2 62 1-8 2 71 1 6 2-123 1 24 2 18 1 2 2-57 1-26 2 44 1-46 2 36 1 25 2-34 1 62 2 81 1-44 2-69 1 12 2-55 1-46 2 55 1 1 2 18 1-40 2-9 1 10 2-71 1 30 2 20 2 66 1-11 2-65 1-12 2 18 1 7 2 50 1 35 2-93 1 5 2 7 1-65 2 58 1 35 2-73 1-4 2 131 1-29 2 29 1-5 2-17 1 65 2-22 1-149 2 24 1 20 2-56 1 89 2-10 1-83 2 19 1 11 2 33 1-15 2-33 2 24 1 9 2-9 1 120 2-84 1-111 2-2 1 36 2 40 1-7 2-88 1-32 2 100 1-62 2 88 1 53 2 0 1-42 2 20 1-56 2 7 1-56 2 113 1 6 2-32 1-73 2 145 1-15 2 90 1-70 2 13 1-36 2-61 2-36 1 40 2-32 1-142 2 120 1 1 2 64 1-33 2 72 1-29 2 72 1-42 2-136 1 112 2 39 1-51 2 65 1 98 2 43 1-82 2-92 1-1 2-7 1-46 2 34 1-54 2-34 1 74 2-48 1 17 2 35 1 12 2-40 2 89 1 85 2-95 1-96 2 35 1-31 2 122 1 52 2 9 1-12 2-30 1 23 2-25 1-4 2-49 1-64 2-17 1-54 2 74 1 36 2 95 1 61 2-89 1-65 2 1 1 6 2 54 1 83 2-33 1-27 2 107 1-139 2 9 2-33 1-67 2-60 1 61 2-27 1-9 2 48 1 12 2 75 1-18 2 42 1 9 2-32 1-39 2 19 1 20 2 21 1-146 2 78 1-2 2 116 1-32 2 48 1-4 2-72 1-105 2 23 1-17 2 21 1 26 2 2 1-41 2 15 1 27 2 12 2-39 1 3 2-46 1 96 2-57 1 34 2-4 1-123 2-8 1 68 2 41 1-73 2-38 1 37 2-30 1 48 2 156 1-117 2 28 1-61 2 1 1 21 2 40 1-48 2-48 1-52 2-2 1 18 2 58 1 10 2-17 1 148 2 20 2-38 1-58 2-73 1-72 2 77 1 15 2 35 1 26 2 10 1-30 2-40 1 84 2-17 1 33 2-105 1-98 2 88 1 65 2-41 1-43 2 84 1 14 2-27 1 52 2-112 1 23 2 6 1 61 2-79 1 74 2 26 1 19 2-13 2 54 1-10 2-70 1-10 2-15 1-59 2 3 1-31 2 40 1 64 2-101 1 139 2 53 1 23 2-179 1 23 2-43 1 123 2 37 1-68 2 10 1-36 2-53 1 6 2 2 1-6 2 11 1-9 2-50 1 82 2-25 1-42 2 46 1 17 2-98 2-17 1-73 2-40 1 114 2 88 1 34 2-44 1 203 2-61 1-91 2 8 1-30 2 0 1 91 2-84 1 29 2-28 1-1 2-101 1 21 2-1 1 11 2 62 1-18 2-56 1 19 2 137 1 7 2-148 1 46 2-2 1 97 2 1 2-2 1-79 2-21 1-11 2-42 1 42 2-81 1 57 2-47 1-66 2 83 1 22 2 46 1 13 2-14 1 13 2 6 1-38 2 92 1 7 2-2 1 41 2-52 1 4 2 33 1 34 2 12 1-77 2 37 1-91 2-49 1-18 2 103 2 16 1-83 2 21 1 35 2 19 1-63 2 87 1-93 2-30 1 65 2-52 1 137 2 2 1-65 2-96 1 85 2 63 1-47 2-30 1 22 2 24 1-109 2 56 1 70 2-18 1-110 2-25 1 25 2 81 1-12 2-173 1 31 2-16 1 145 2 30 2 16 1-114 2 40 1 28 2 17 1 129 2-118 1 71 2-15 1 39 2-21 1-17 2 0 1-109 2 64 1-2 2-54 1 13 2 4 1-128 2-12 1 75 2-10 1 60 2-30 1 60 2-66 1-27 2-25 1 9 2-2 1 50 2-31 2-31 1-8 2 66 1-49 2 60 1 20 2 18 1-10 2-15 1-56 2-58 1-5 2 58 1-28 2-34 1 75 2 64 1-18 2-117 1 45 2 4 1-47 2 73 1 44 2-40 1-58 2 39 1 35 2 82 1-106 2 83 1-86 2 56 2-68 1-74 2 90 1-9 2-25 1-51 2 62 1-42 2 30 1 74 2-58 1-50 2 47 1 45 2-23 1-62 2 116 1-46 2-73 1 102 2-17 1 22 2 0 1-49 2 125 1 12 2 60 1-6 2-143 1 74 2 8 1 19 2-40 2 12 1 32 2 20 1-12 2 39 1 88 2-150 1-18 2 27 1-8 2-35 1 60 2 2 1 26 2-83 1 142 2 23 1-130 2 50 1 10 2 50 1 75 2-58 1-90 2-42 1 51 2-2 1-114 2 40 1 49 2-64 1 27 2 109 1 17 2-87 2-4 1-3 2-32 1 43 2 59 1-39 2 12 1-29 2 23 1 9 2 53 1-74 2-125 1 72 2-52 1-10 2 72 1 54 2-52 1 22 2 5 1 12 2-110 1 115 2-29 1-97 2 36 1-81 2 70 1 24 2-16 1 53 2 20 2-27 1 47 2-35 1-54 2 68 1 4 2-15 1 36 2-59 1-53 2 65 1-22 2 51 1-14 2-35 1 12 2-10 1 36 2-70 1-29 2 67 1-12 2-119 1 90 2-42 1-83 2 93 1-7 2 161 1-105 2-19 1-16 2 30 2-18 1-19 2 8 1 64 2 29 1-10 2 33 1 39 2 46 1-36 2 20 1-15 2 41 1 29 2-26 1-25 2-145 1 30 2-43 1 10 2 22 1 21 2-31 1-18 2 93 1-58 2 6 1 71 2 6 1-78 2-63 1 35 2-58 1-15 2 123 2 51 1-58 2 33 1 8 2-39 1 3 2-4 1 51 2-141 1 105 2-5 1-81 2 24 1 43 2 32 1-87 2-31 1 119 2 43 1-84 2-109 1 60 2-48 1 118 2 63 1 10 2-57 1-22 2-50 1 116 2-120 1 33 2-140 2 37 1 136 2-21 1 38 2-101 1 15 2-36 1 79 2 45 1-20 2-1 1 51 2-57 1-65 2 32 1 30 2 23 1-61 2 17 1-10 2-45 1 43 2 19 1 14 2-80 1 22 2 8 1 25 2-44 1-17 2 71 1-55 2-19 2-49 1 10 2 27 1 77 2-63 1-61 2 82 1 18 2-18 1 15 2-11 1 31 2 27 1-74 2 118 1-63 2 27 1-18 2 22 1-32 2 21 1-21 2 66 1 20 2-29 1-65 2 48 1-114 2 57 1-41 2 111 1 27 2 4 2 26 1 26 2-36 1 16 2-140 1 8 2 0 1 122 2-123 1-71 2 90 1 69 2-1 1-104 2 90 1 38 2 56 1-56 2-62 1 52 2-88 1 14 2 52 1-38 2-81 1-43 2 11 1-35 2 47 1 16 2-63 1 46 2 61 1 57 2 12 2 74 1-11 2 8 1-31 2 36 1-34 2-27 1-69 2-27 1-72 2 68 1 98 2-59 1-14 2 35 1-42 2-93 1 37 2 58 1 0 2 60 1-131 2 97 1 51 2-100 1 2 2 57 1-76 2-73 1 108 2-54 1-51 2-86 2 23 1 4 2 51 1-20 2-64 1 8 2 77 1 9 2-103 1 111 2 32 1 37 2-80 1 41 2 18 1-9 2-59 1-32 2 92 1 65 2 53 1-112 2-4 1-26 2-2 1 67 2 63 1 4 2-174 1 1 2-28 1 67 2-161 2 35 1 101 2 2 1-55 2-78 1 28 2-26 1-1 2 0 1 34 2-34 1-60 2 23 1 31 2-155 1 27 2 23 1 122 2-56 1 106 2-68 1-9 2 41 1 25 2-37 1 6 2 88 1-105 2 70 1-20 2-7 1-104 2 108 1-83 2-14 2 149 1 21 2-21 1 3 2-65 1-56 2-52 1 64 2-45 1 27 2-41 1 21 2-1 1 20 2-44 1 1 2 58 1 98 2-109 1-56 2 6 1-56 2 30 1 23 2 47 1-75 2-61 1 63 2 64 1-49 2-23 1 10 2 108 2-40 1-24 2 4 1-37 2 12 1-35 2 10 1 13 2-97 1 36 2-5 1-26 2 69 1 9 2 46 1-12 2 50 1-78 2 5 1 58 2-47 1 48 2 53 1-53 2-33 1 15 2-52 1-43 2 3 1-38 2 10 1-45 2 28 2 11 1 186 2-31 1-127 2 63 1 8 2 31 1 72 2-92 1-107 2-55 1 72 2 81 1 30 2-43 1 32 2-59 1-25 2 82 1 39 2-79 1-30 2 27 1-87 2 36 1 18 2 3 1-37 2 119 1-47 2-44 1 19 2 20 1-100 2 37 2-7 1-54 2 74 1-146 2 79 1 31 2 62 1-16 2 13 1-29 2 30 1 87 2-102 1-64 2-34 1 6 2 4 1 69 2-136 1 87 2 79 1-113 2 61 1 19 2 80 1 18 2-28 1-9 2 68 1-48 2 46 1 58 2-98 2-25 1 15 2 65 1-47 2 24 1 41 2-45 1-15 2 73 1-70 2 112 1 31 2-55 1-3 2-60 1-21 2 151 1-108 2 39 1 3 2 47 1 28 2-66 1-24 2-4 1 41 2-91 1 8 2-3 1 14 2 3 1-61 2-14 2 6 1 48 2 17 1 78 2-9 1 9 2 9 1-26 2-32 1 25 2 69 1-49 2-48 1-24 2 31 1 38 2 66 1-57 2-7 1-65 2 55 1-115 2 27 1 33 2-7 1-42 2-31 1 108 2-6 1-60 2-29 1-16 2 62 2-50 1 1 2-9 1-73 2 24 1-10 2-49 1-20 2 108 1 55 2 89 1-114 2 8 1 33 2-19 1 55 2-52 1 47 2-80 1-7 2 19 1-13 2 38 1 9 2-46 1-55 2 27 1-18 2 143 1 2 2 6 1 15 2-50 1-82 2 21 2-24 1-20 2 2 1 66 2 80 1-37 2-15 1 63 2-63 1 64 2 68 1-38 2 52 1-35 2-24 1 11 2-22 1 59 2 87 1-120 2-84 1-51 2 47 1-37 2 20 1-58 2 82 1-28 2 16 1-34 2 12 1 88 2-27 2 27 1-65 2-70 1 66 2-43 1 59 2 6 1-41 2-80 1-15 2-10 1 65 2 11 1-34 2 0 1-15 2-29 1-80 2-34 1-28 2 36 1 70 2 79 1-38 2 34 1 72 2-32 1-163 2 25 1 10 2 9 1-7 2 68 2-37 1-56 2-21 1-3 2 20 1-21 2 84 1 78 2-26 1-48 2-58 1 24 2-9 1 11 2-43 1 33 2-24 1-23 2 41 1 11 2 33 1 38 2 18 1 38 2-75 1-27 2 4 1-1 2 4 1-67 2-30 1 61 2-25 1 104 2 15 2 12 1-48 2 24 1 36 2 15 1 47 2 29 1 2 2-76 1-31 2-38 1-77 2-18 1 144 2 31 1-109 2 29 1-2 2-6 1 86 2-35 1 4 2 40 1-36 2-93 1 45 2 76 1-14 2 36 1 95 2-45 1-81 2 24 2-23 1-18 2-12 1-12 2-17 1 6 2-28 1-45 2 23 1 32 2-53 1 46 2-135 1 57 2-102 1 32 2 23 1-12 2 13 1 21 2 31 1 46 2 36 1-88 2 123 1-132 2-47 1 41 2-81 1-44 2 17 1 176 2 93 2-89 1 39 2-62 1 2 2-46 1 15 2-7 1 72 2-27 1 28 2-76 1 41 2-48 1-41 2 23 1 57 2-17 1-2 2-61 1 59 2 38 1-73 2-5 1-67 2-55 1 134 2-24 1-20 2-6 1-46 2-81 1 50 2 43 1-17 2-12 2 33 1-30 2-39 1 69 2-48 1 65 2-69 1 76 2 43 1 56 2-14 1-30 2-19 1 22 2 6 1 2 2-10 1-18 2 31 1-12 2 39 1 42 2-81 1 38 2-33 1 44 2 38 1 25 2-18 1-121 2 32 1-26 2 1 2-27 1 67 2-96 1 7 2 27 1-50 2 93 1 23 2-38 1-97 2 59 1-87 2-22 1 100 2-6 1-31 2 86 1-84 2 110 1-81 2-53 1-61 2 5 1 33 2 113 1-109 2-5 1-19 2 64 1 117 2-52 1 42 2-37 2-55 1 77 2-39 1 25 2 13 1-61 2 66 1-3 2-16 1-84 2 28 1-25 2 47 1 59 2-42 1-97 2-23 1 57 2 35 1-78 2 0 1 98 2 116 1-151 2 6 1 18 2 3 1 29 2 25 1 14 2 104 1-10 2 0 2-66 1-61 2 40 1 37 2-7 1-120 2-13 1 79 2-62 1 73 2-70 1 21 2 98 1 12 2 9 1-54 2-60 1 128 2 16 1-76 2-20 1 0 2-24 1-3 2-39 1 70 2 138 1-54 2 15 1 61 2-46 1 5 2-13 1 84 2-67 2 7 1-8 2 28 1 26 2-75 1-20 2 36 1 76 2-47 1 22 2-55 1 47 2-15 1-20 2 29 1-27 2 73 1-100 2 46 1 28 2 3 1 19 2 27 1-27 2 9 1-5 2-38 1 5 2 34 1-60 2-94 1 51 2-41 2 62 1 33 2 55 1-2 2 10 1-23 2-10 1-131 2 85 1-31 2-33 1 109 2 69 1-85 2 51 1-18 2 108 1-21 2-46 1-98 2-104 1 70 2-53 1 27 2 37 1 9 2 2 1 86 2-30 1 33 2-51 1-156 2 122 2-89 1 91 2 19 1-38 2-15 1-27 2-43 1 56 2 64 1-14 2-14 1-77 2 155 1-71 2-16 1 17 2 40 1 36 2 3 1-122 2 13 1 24 2-15 1-33 2-25 1 13 2 27 1 45 2 3 1 1 2 0 1 12 2-70 1-34 2 17 2-48 1 16 2-32 1 44 2-61 1 11 2 39 1 78 2-25 1-8 2 64 1-3 2 20 1-51 2 49 1-31 2-116 1-20 2 26 1-56 2 77 1-23 2 28 1 48 2-14 1-93 2 113 1 59 2-101 1 57 2 17 1 30 2 26 2-56 1 39 2 29 1-15 2-60 1-82 2 31 1-23 2-40 1 10 2-20 1 51 2 99 1-76 2 72 1-47 2 41 1 39 2-14 1 39 2-31 1-20 2-5 1-88 2-27 1 43 2-21 1-3 2 42 1 74 2 3 1-116 2 15 2-21 1-85 2 101 1-48 2 143 1 17 2 71 1-65 2-27 1 3 2 15 1-164 2 14 1-2 2 70 1 35 2-17 1 13 2 3 1 14 2 75 1-52 2-27 1-46 2-27 1-72 2 63 1 22 2-55 1 48 2-47 1 65 2 27 2 56 1-22 2-115 1-51 2 40 1 12 2-24 1 109 2 31 1-9 2 86 1-1 2 7 1-27 2-21 1 86 2-78 1-4 2-44 1-23 2 35 1-96 2 129 1-8 2 2 1-91 2 38 1 2 2 22 1-84 2 60 1 66 2 18 1-28 2-79 2 151 1 25 2-113 1 27 2 36 1 7 2 29 1 18 2-44 1 27 2-117 1 150 2-57 1 18 2-114 1 70 2-50 1-68 2 0 1 61 2 22 1-23 2-64 1 21 2-17 1 83 2-7 1-78 2 26 1 36 2 1 1-76 2-1 2-9 1 57 2 91 1-99 2 16 1-49 2-13 1 41 2 46 1-88 2 113 1 77 2-150 1 13 2-37 1-71 2-105 1 97 2 26 1-43 2 10 1 49 2-56 1 104 2-89 1 16 2 2 1 25 2-10 1-60 2 0 1-49 2-2 2 51 1 28 2 0 1 22 2-83 1 68 2-102 1 60 2 44 1-12 2 50 1-115 2-79 1-36 2-32 1-2 2 167 1-39 2 62 1-52 2 18 1 31 2 57 1-47 2-63 1 78 2-16 1-17 2 19 1 31 2-60 1-45 2 6 1 6 2-13 2 80 1 19 2-8 1 49 2-47 1-96 2-43 1 82 2 54 1 63 2-53 1 10 2-58 1 60 2-23 1 28 2-14 1 21 2 91 1-86 2-18 1-6 2 8 1 42 2-11 1-53 2-86 1 30 2 53 1-58 2 33 1 20 2 2 2-28 1 77 2-29 1 1 2 3 1-79 2 102 1-30 2-23 1-20 2-78 1 116 2-16 1 11 2 46 1-17 2-59 1 1 2-110 1 107 2-24 1-24 2-3 1-34 2 35 1-26 2 4 1 19 2 33 1-10 2-70 1 14 2-42 2 22 1 0 2-79 1 80 2 0 1-57 2-19 1 5 2-46 1 78 2 21 1-71 2 88 1-29 2-27 1 1 2-3 1 49 2-12 1-1 2-23 1 3 2-83 1-14 2-59 1 8 2 44 1 3 2-25 1 95 2 87 1 54 2-74 1 13 2 0 2-21 1-54 2 33 1 37 2 4 1-54 2 7 1-24 2-22 1 69 2 57 1 45 2 3 1 63 2-58 1 38 2-38 1 1 2-69 1 68 2-17 1-46 2 84 1-42 2 18 1 30 2 46 1-51 2 13 1 9 2-56 1 162 2-87 2-144 1 46 2 34 1 17 2-46 1-108 2 102 1 177 2-61 1-18 2-29 1-11 2 108 1-64 2 25 1-57 2 9 1 33 2 76 1-114 2 5 1-17 2-69 1 12 2 30 1 141 2-89 1-46 2 91 1 62 2-65 1-7 2-77 2 99 1-8 2-43 1-19 2 78 1 72 2-12 1-140 2 71 1 19 2-63 1 0 2-57 1 81 2 52 1-47 2 9 1 0 2 56 1 11 2 14 1-3 2 15 1-8 2 5 1-84 2-68 1 47 2-49 1 19 2 149 1-27 2 83 2-85 1 15 2-101 1-33 2 70 1 69 2-73 1 59 2 5 1-75 2 15 1-25 2-93 1 24 2-11 1 73 2 143 1-53 2-28 1-43 2-7 1 39 2 8 1-21 2 30 1 44 2-61 1-27 2-41 1 22 2 0 1 33 2-5 1-61 2-66 2 55 1-3 2 57 1 57 2 2 1-26 2-33 1 26 2-44 1-79 2 39 1-26 2-30 1-57 2 0 1-25 2 31 1 70 2 29 1-24 2 18 1-1 2-28 1-22 2 11 1-40 2-109 1 83 2 42 1 43 2-111 1-39 2 96 2-50 1 79 2-45 1-7 2 1 1 99 2-44 1-14 2-73 1 16 2 31 1 42 2-22 1-34 2-8 1-5 2 50 1 90 2-25 1-85 2-28 1 78 2-69 1-26 2 16 1 105 2-19 1-9 2-80 1 86 2 46 1-55 2-23 2 5 1 61 2 53 1-7 2 0 1-28 2 67 1 92 2-89 1 24 2 9 1-49 2 83 1-15 2 11 1-44 2-6 1-34 2 88 1 2 2 37 1-92 2-60 1 34 2-30 1 51 2 37 1-70 2 36 1-44 2-71 1 125 2-5 1 29 2-14 2 125 1-88 2 46 1-41 2-28 1-46 2 19 1 0 2 33 1 80 2 13 1-12 2 11 1-38 2-28 1-58 2-78 1 95 2-5 1-20 2 29 1-35 2 129 1-66 2-7 1 96 2-29 1-119 2 40 1-106 2-72 1 55 2 74 2-13 1-52 2-30 1 39 2 85 1-84 2 136 1-20 2-18 1-36 2 29 1-36 2-57 1 0 2 54 1-56 2-5 1 71 2 21 1-120 2 29 1-30 2 38 1 7 2 0 1 24 2-39 1-43 2-6 1 65 2 35 1 104 2-90 2 26 1 43 2 16 1-85 2 9 1-53 2-4 1-39 2 9 1 181 2-116 1 69 2-101 1 9 2 63 1 16 2 21 1-27 2-22 1 61 2 82 1-124 2-32 1 57 2-73 1-49 2 10 1 6 2 68 1 164 2-91 1 24 2-137 1 38 2-24 2 69 1 63 2-6 1-124 2 27 1 122 2-86 1-63 2 54 1-2 2-1 1 49 2-16 1 84 2-56 1-73 2 58 1-58 2-33 1-17 2-49 1 43 2 51 1-33 2-18 1 143 2-36 1 11 2-28 1-38 2-95 1 3 2 59 2 26 1-25 2-37 1-129 2 115 1 35 2-60 1 39 2-6 1 84 2 55 1-83 2 32 1-79 2 28 1-27 2-69 1 78 2 39 1-87 2 17 1 9 2-67 1 63 2 0 1 38 2 31 1-89 2-81 1 12 2 90 1-15 2-49 2-13 1-61 2 63 1-26 2 11 1-8 2 22 1-46 2 77 1-4 2-26 1-48 2-48 1 20 2-47 1-38 2 56 1-72 2-31 1 77 2 34 1 34 2 13 1-12 2-7 1 37 2-19 1-45 2-13 1 8 2 51 1 27 2-91 2 33 1 62 2-50 1-67 2 122 1-82 2 83 1-32 2 6 1 44 2 42 1 44 2 40 1-21 2-68 1 5 2-109 1 51 2 46 1 13 2-77 1 63 2 0 1-47 2 46 1-22 2 27 1 20 2 15 1 11 2-43 1 86 2 55 1-15 2 49 2 4 1 16 2-61 1 38 2-21 1-13 2-75 1 92 2 61 1 39 2-15 1-28 2-70 1 17 2-21 1-9 2-40 1 77 2 19 1-23 2-88 1 50 2 33 1-45 2-5 1 16 2-85 1 87 2-15 1-78 2 80 1-106 2 24" stroke="#0000ff" stroke-width="25.0" stroke-linejoin="round"/>
<path transform="scale(0.1)" d="M9172,5146l2-103 1 1 2-1 1 0 2 1 1 0 2-2 1 0 2-1 1-2 2 1 1 2 2 0 1 2 2 0 1-2 2 0 1 2 2 1 1 1 2-3 1 1 2 1 1-2 2 0 1 1 2 1 1 1 2-1 1 0 2-1 1 1 2 0 2-2 1-1 2-1 1 0 2 2 1 1 2-1 1 1 2 1 1 2 2-1 1 0 2 0 1 0 2-1 1 0 2 1 1 1 2 0 1-3 2-1 1 1 2 1 1-4 2 0 1-1 2 0 1 1 2 0 1-1 2-1 1 1 2 1 1 0 2 0 2 1 1 1 2 1 1-3 2 1 1 1 2 0 1 1 2-1 1 0 2-1 1-1 2 0 1 1 2 1 1-1 2 0 1-1 2-2 1 3 2-1 1 2 2 1 1 2 2-3 1 1 2-1 1 1 2-3 1 2 2 0 1 1 2 0 2-2 1 0 2 0 1-1 2 2 1 1 2 1 1-1 2-2 1 1 2 1 1-1 2 1 1-1 2 0 1 1 2-2 1 2 2-1 1 0 2-1 1 0 2 0 1 0 2 2 1 1 2-1 1 0 2 0 1-1 2-1 1 2 2-1 2-2 1 0 2 1 1 0 2 0 1 3 2-2 1 0 2-1 1 1 2 0 1-1 2-1 1 1 2-1 1 2 2-1 1 0 2-2 1 2 2 0 1 1 2-1 1 1 2-1 1 1 2-2 1 0 2 1 1 0 2 0 1-1 2 0 2 0 1 1 2 2 1 0 2 0 1-2 2 2 1 0 2-1 1-2 2 2 1 0 2-1 1 2 2-2 1 3 2-1 1 0 2-1 1-1 2-2 1 2 2-2 1-2 2 3 1 0 2-1 1-1 2 0 1 1 2 1 1-1 2 2 1-1 2 0 2 1 1-4 2 4 1 0 2 0 1-158 2-282 1-686 2-31 1-30 2-26 1-41 2-42 1-28 2-19 1-16 2-11 1-27 2-22 1-28 2-32 1-39 2 3 1-6 2 0 1-10 2 12 1-53 2-11 1 28 2-12 1-49 2-20 2 10 1-32 2-12 1 14 2-30 1 28 2-3 1 31 2-62 1-42 2 27 1-30 2-62 1 72 2-6 1-36 2-29 1 36 2 76 1 2 2-67 1 22 2-29 1-8 2-43 1 38 2-31 1-10 2 45 1-41 2-43 1 3 2 31 2 22 1 47 2 7 1 49 2-66 1-35 2-26 1-98 2 24 1-19 2 64 1 5 2 17 1-28 2 42 1-6 2 3 1-28 2 38 1-40 2-36 1 4 2-53 1 14 2 6 1 3 2-31 1 0 2 18 1-15 2 48 1-32 2 60 1-64 2 30 2 16 1 17 2-20 1 77 2-6 1-48 2-22 1 48 2-67 1-68 2 67 1 28 2 50 1 6 2-6 1-96 2 82 1-74 2 38 1 38 2 14 1-20 2 18 1 3 2-4 1-4 2-14 1 15 2 27 1-40 2-9 1 2 2 83 2-21 1 19 2 18 1-15 2 14 1 44 2-10 1-80 2-16 1 18 2-14 1 68 2-99 1-45 2 16 1 4 2 27 1 5 2 6 1 13 2-49 1 38 2-40 1 35 2-24 1-63 2-53 1 88 2-24 1-37 2 25 1-36 2 54 2 2 1-90 2 14 1-9 2 51 1 18 2-31 1 8 2-64 1 54 2 47 1-21 2 56 1-50 2-63 1-46 2 93 1 18 2-47 1 33 2-22 1 67 2-18 1-22 2 20 1-17 2-3 1 21 2 36 1-18 2-16 1 12 2-29 1-10 2 53 2-15 1-51 2-14 1 25 2 44 1-19 2-21 1-49 2 12 1 23 2-6 1-50 2-14 1-55 2 75 1-37 2 14 1-39 2 57 1-11 2-6 1 53 2 2 1 3 2 15 1 11 2 40 1-51 2-14 1-22 2 0 1-20 2 15 2 24 1-33 2-20 1-18 2-14 1 44 2 20 1 1 2-99 1-20 2 53 1-32 2-15 1 36 2-21 1 4 2 4 1 0 2-46 1-5 2 84 1-3 2-68 1-64 2 83 1-39 2 80 1-59 2 26 1-46 2-14 1 44 2 42 2 31 1 37 2 85 1-38 2-63 1-35 2-55 1 6 2-27 1-21 2 29 1 37 2 45 1-77 2-16 1 66 2-7 1-23 2-68 1-30 2 23 1-17 2 64 1 1 2-4 1 32 2-84 1 5 2-56 1 84 2-45 1-28 2 62 2-15 1-13 2-22 1 28 2 23 1 22 2-30 1 10 2-11 1 80 2-39 1 27 2-57 1-80 2-12 1 16 2-34 1 104 2-2 1-69 2 17 1 63 2 6 1-55 2-35 1-1 2-50 1 11 2-1 1-34 2 96 1-118 2 20 1-65 2 36 2-16 1 20 2 18 1 17 2 21 1-59 2-16 1-41 2 100 1 77 2-51 1-74 2 61 1 28 2 17 1-26 2-62 1 16 2-17 1 67 2 54 1-59 2-39 1 26 2-23 1-2 2-24 1 30 2-4 1-71 2 50 1 14 2 15 2-42 1 41 2 45 1 8 2 30 1-54 2-88 1 4 2-5 1 5 2 28 1 67 2 27 1-57 2 56 1-78 2 43 1 10 2 23 1 34 2-14 1-23 2-19 1-29 2-18 1-53 2 45 1 34 2 20 1-16 2-60 1 6 2 26 2-12 1 54 2 5 1 2 2 21 1-62 2 35 1 7 2 24 1-36 2 20 1-106 2 69 1-42 2-2 1-21 2 13 1 41 2-88 1 22 2 67 1-50 2 15 1 30 2-35 1 21 2-24 1 16 2-26 1 9 2 47 1 1 2-37 1 18 2 44 2-5 1-26 2-15 1 64 2 31 1-18 2-63 1-9 2-55 1-33 2 6 1 31 2 29 1 43 2-9 1 35 2-64 1 73 2-75 1 23 2 23 1-5 2-18 1-9 2 62 1 93 2-80 1-32 2-48 1 98 2-13 1 11 2-37 2-61 1 38 2-40 1-27 2 89 1-22 2-23 1 2 2-27 1-39 2 0 1-18 2 5 1 47 2 44 1 56 2 56 1-18 2-46 1-1 2-13 1-33 2-23 1 26 2 18 1 47 2-66 1 10 2 95 1-28 2-24 1-40 2 7 2-5 1 23 2-37 1 65 2-5 1-24 2 16 1-42 2 1 1 4 2-9 1-9 2-6 1 46 2 8 1 8 2 1 1-1 2-9 1 34 2-21 1-49 2-23 1 90 2 6 1-47 2 44 1-30 2-72 1 7 2 61 1-15 2 70 1-21 2 51 2-24 1 45 2-21 1-37 2-81 1-23 2-59 1-14 2 37 1-4 2 60 1-5 2 32 1 30 2-66 1 26 2-22 1 15 2-39 1 1 2 74 1-37 2-108 1 1 2-6 1 18 2-37 1 72 2 45 1 26 2 46 1 19 2-71 2 30 1 20 2-73 1-20 2 11 1 25 2-9 1-7 2-47 1 0 2 48 1 0 2 48 1 0 2-84 1 66 2 3 1-39 2-16 1 10 2 33 1 13 2-51 1 10 2-11 1-26 2 72 1 49 2-51 1-63 2 12 1-38 2 76 2-5 1-9 2 10 1-31 2 105 1-11 2-72 1-8 2 38 1-34 2 36 1-65 2 38 1-70 2-13 1 48 2 4 1-7 2-39 1 51 2-50 1 35 2 54 1-27 2 2 1-31 2-73 1 20 2-56 1-61 2-32 1 44 2-16 2-15 1-1 2 45 1-16 2-5 1 24 2 71 1-12 2-1 1 62 2 34 1-72 2 23 1-55 2 23 1 59 2 17 1 61 2-68 1 33 2-119 1 46 2-16 1 27 2 46 1-30 2 4 1-116 2 25 1 102 2-28 1 12 2 5 1 9 2 11 2 24 1-48 2-21 1-10 2 14 1-71 2 49 1 23 2-72 1-2 2 43 1 31 2 7 1 1 2-13 1-75 2 68 1-16 2-33 1-15 2 21 1 34 2-20 1-20 2 15 1 30 2-52 1 39 2 3 1-60 2 22 1 22 2 20 2-69 1 23 2-46 1-14 2 18 1-23 2 49 1-65 2 65 1-8 2-32 1 8 2-29 1-30 2 75 1 17 2-11 1 3 2 15 1-21 2 47 1 18 2-52 1-9 2-45 1 111 2 24 1 25 2-34 1-91 2 83 1-10 2-64 2 60 1-96 2 77 1 33 2 55 1-44 2 64 1-43 2-12 1 11 2-7 1-2 2-23 1 26 2 20 1 25 2-74 1-52 2-2 1 75 2-11 1-30 2-42 1 17 2 46 1-75 2 37 1 46 2-17 1-39 2 14 1-17 2 7 1 11 2 7 2-13 1 116 2-40 1 22 2 14 1-60 2-9 1 1 2-14 1 70 2 34 1-108 2 34 1-4 2-40 1 5 2-7 1 76 2 12 1-53 2-20 1-53 2-9 1 36 2-7 1 27 2-34 1 32 2-21 1-23 2-40 1 73 2 3 2 59 1-63 2 11 1 29 2 37 1 12 2-6 1-9 2-85 1 25 2 7 1 80 2-6 1-107 2-64 1 122 2-78 1 24 2 64 1-36 2-19 1-15 2 3 1-44 2 29 1 8 2-87 1 35 2 91 1-64 2 2 1 53 2-81 2-19 1 37 2-1 1 76 2-28 1 66 2-2 1-95 2-9 1 76 2-4 1-76 2 11 1-5 2 0 1 49 2-72 1 69 2-21 1 26 2-32 1-21 2-6 1-28 2-30 1 81 2-24 1-70 2-57 1 3 2 89 1 30 2-52 2-38 1 52 2 18 1-31 2-25 1 32 2 40 1 63 2-7 1 46 2-8 1-76 2-22 1 21 2-48 1 71 2-32 1 16 2-24 1-57 2 64 1-32 2 6 1 13 2 54 1-30 2-17 1-8 2 1 1 37 2-82 1 16 2-40 1 36 2 43 2-49 1-26 2 50 1 7 2 1 1 58 2 2 1 64 2-72 1 65 2-22 1 24 2-29 1-10 2 19 1-30 2 12 1-30 2 2 1 51 2-5 1-7 2-16 1-36 2 31 1 13 2 7 1-2 2 41 1 18 2-45 1-37 2 9 2 29 1-6 2 36 1-64 2 71 1-17 2-43 1 37 2 33 1 13 2-23 1-40 2 12 1-9 2-10 1 15 2-13 1 1 2-8 1 51 2 16 1 13 2-85 1 31 2 41 1-45 2-1 1 45 2-36 1 57 2 43 1 16 2-66 2 9 1-53 2 67 1 70 2-37 1-10 2 72 1-56 2-92 1 10 2 66 1 24 2 17 1 50 2-1 1 13 2-25 1-3 2-34 1-30 2-6 1 0 2 35 1-25 2-16 1-130 2 76 1 12 2-2 1-5 2 115 1 2 2 41 1-70 2 39 2 37 1-5 2-122 1-35 2-14 1 43 2-5 1 51 2 2 1-55 2-31 1 27 2 44 1 6 2 53 1 34 2-33 1-56 2-67 1-67 2 48 1-20 2 90 1-48 2-93 1 6 2-39 1-1 2-6 1-12 2 89 1 22 2-48 2 46 1-43 2 48 1 11 2 20 1-59 2-12 1 88 2 13 1-3 2-60 1-29 2 74 1-53 2-62 1-5 2-13 1-137 2 70 1 50 2 4 1 20 2 50 1 12 2 35 1-86 2 56 1-85 2 46 1 52 2-11 1-86 2 11 2-56 1 6 2 14 1 54 2-28 1 9 2 30 1-4 2-27 1-5 2-32 1-54 2 15 1 9 2 3 1 18 2 49 1 41 2 20 1 30 2-50 1 60 2-10 1 32 2 19 1-41 2 1 1-27 2 56 1 29 2-6 1-20 2 2 1-28 2 86 2 9 1 22 2-78 1 87 2 32 1-54 2 47 1 72 2-88 1-24 2 44 1 49 2-9 1 13 2 14 1-63 2 32 1-8 2 27 1-48 2 0 1-45 2 60 1 15 2-12 1-29 2 18 1-92 2 55 1 34 2 58 1-8 2-111 2 8 1 52 2-40 1 32 2-18 1 59 2 26 1-81 2 14 1 10 2-13 1-27 2 35 1 49 2-2 1-54 2 26 1-50 2 78 1 22 2 28 1 59 2-140 1 3 2-83 1 21 2 69 1-29 2-5 1-57 2 7 1 44 2 9 2 29 1 58 2 6 1-50 2 29 1-45 2-38 1 20 2 20 1-20 2 29 1-36 2-5 1 24 2 17 1 49 2-1 1 47 2-15 1-25 2 12 1-32 2-40 1 63 2-8 1 27 2 12 1-20 2-60 1-48 2 51 1 5 2 10 2 12 1-68 2-3 1 105 2-44 1-29 2 64 1-77 2-27 1-55 2 87 1 9 2 25 1 20 2 5 1 32 2-29 1 28 2-74 1-29 2 101 1-6 2-42 1-113 2 37 1-38 2-60 1 46 2 83 1 43 2 46 1-53 2-28 1 20 2-55 2 38 1-6 2-44 1-35 2-1 1-16 2 11 1-36 2-19 1 84 2-25 1 17 2 20 1-53 2 21 1 12 2-29 1 56 2 30 1-4 2 28 1-37 2 25 1-37 2-15 1 1 2-12 1 13 2-32 1 13 2 1 1 5 2-26 2 16 1 43 2-95 1-23 2 24 1-11 2 67 1-35 2 41 1-31 2 0 1 50 2-30 1-7 2 2 1 1 2-38 1 4 2 33 1 11 2 1 1 46 2-8 1-12 2 58 1-123 2 5 1-52 2 20 1 10 2 13 1 63 2 27 2-61 1 3 2-37 1-15 2 63 1 28 2 5 1 37 2-1 1-51 2-63 1-51 2 2 1 44 2 36 1-77 2 11 1 47 2 38 1-111 2-9 1 10 2 7 1 26 2-27 1-2 2-44 1 100 2-29 1-9 2-26 1-3 2 102 1-22 2-76 2-16 1 57 2 68 1-78 2-3 1-2 2 42 1-51 2 16 1 11 2 44 1-26 2-21 1 44 2 5 1-41 2 40 1-47 2-57 1 6 2 56 1-16 2-61 1 11 2 57 1-52 2-20 1-47 2-32 1 0 2 42 1 91 2 48 2-42 1-5 2-39 1 21 2 8 1-69 2-27 1 0 2-75 1 54 2-14 1 53 2 12 1-20 2-6 1 22 2-6 1-60 2 36 1 42 2-90 1 59 2-5 1 27 2 17 1-86 2-36 1 26 2-65 1 39 2-46 1-3 2-25 2 24 1-6 2 13 1 107 2-119 1 0 2 14 1 15 2 33 1 32 2-10 1-36 2 0 1 6 2-19 1 50 2-43 1 40 2-20 1 44 2-42 1 58 2-80 1 37 2 23 1 22 2 39 1-11 2 46 1-79 2 0 1 81 2-40 1-37 2-11 2 28 1-6 2 94 1 4 2 47 1-6 2-77 1-75 2-50 1 60 2-13 1 20 2-10 1 6 2 40 1-60 2 40 1 37 2 4 1 27 2 64 1-31 2-40 1-40 2 19 1-69 2 48 1 18 2 89 1-101 2-53 1-38 2 93 2-34 1 76 2-63 1 23 2 27 1-11 2 9 1-63 2-21 1 84 2-49 1 106 2-99 1 33 2 10 1-9 2-95 1 0 2 40 1-7 2 23 1-35 2 44 1 15 2 1 1-56 2 0 1 30 2 60 1-61 2 13 1-15 2 12 2-18 1 1 2 73 1 47 2-34 1 38 2-66 1-23 2-54 1-17 2-10 1 46 2-17 1-28 2-16 1 13 2 21 1 32 2 5 1 12 2-66 1-32 2 35 1 31 2-28 1-46 2 7 1 72 2 57 1-87 2-16 1 36 2 4 2 6 1 0 2 46 1-46 2 41 1 25 2-65 1-7 2-42 1-1 2-17 1-36 2 33 1-14 2 60 1 2 2 97 1-35 2 16 1 35 2-53 1-19 2-40 1 44 2-38 1-99 2 1 1 66 2-28 1 15 2 26 1 25 2-24 1 71 2-83 2-27 1-14 2-13 1-29 2 79 1-12 2-18 1-21 2 33 1 5 2-33 1-13 2-52 1 107 2-2 1-2 2-21 1 10 2 26 1-28 2 58 1 22 2-1 1-45 2-53 1-40 2 61 1-2 2-63 1 17 2-44 1-27 2 55 2 38 1 0 2 24 1-12 2 11 1-80 2 31 1 35 2 8 1-12 2 83 1 23 2 15 1-42 2-55 1 18 2 42 1-65 2 13 1-20 2-28 1-38 2 35 1 43 2 42 1 8 2-34 1-113 2 7 1 50 2 19 1 21 2 46 2-20 1-24 2 4 1 34 2-5 1 16 2-8 1 51 2-53 1 1 2 85 1-34 2-55 1-122 2 87 1-46 2 71 1-35 2-9 1 31 2 58 1 19 2-71 1-57 2 36 1 12 2 37 1-15 2 7 1-55 2-18 1 7 2 44 1 55 2-13 2-79 1-25 2 15 1-41 2-14 1 43 2-59 1-22 2 65 1 8 2-40 1-50 2-22 1 76 2 20 1-56 2 52 1-5 2 5 1-22 2 65 1 36 2 6 1-113 2-64 1-28 2 78 1 65 2-14 1 23 2 43 1-31 2 42 2-63 1 4 2 26 1 50 2-16 1-10 2-30 1 2 2 23 1 54 2 7 1-32 2-19 1 4 2 55 1 22 2-13 1-48 2 15 1 34 2-20 1-1 2-68 1 16 2 28 1-4 2-20 1 70 2-7 1 30 2-7 1 0 2-75 2-17 1 21 2 67 1-31 2-15 1 86 2 54 1-84 2-48 1 24 2-29 1-12 2-63 1 157 2-22 1-32 2 7 1 48 2 54 1-75 2-56 1 115 2 33 1-40 2-24 1 25 2 48 1-57 2-45 1 101 2-16 1-21 2 1 2-54 1 3 2-3 1-2 2 77 1-106 2 46 1 8 2-50 1-2 2 40 1 98 2-33 1-46 2 4 1 68 2-74 1-73 2-6 1 1 2 107 1 18 2 81 1-86 2-32 1 105 2-71 1-51 2 42 1-1 2-63 1 77 2-29 1-40 2 6 2 31 1-7 2-18 1-12 2-41 1 96 2 0 1-1 2-69 1 74 2-67 1 56 2 38 1 49 2-27 1 3 2-21 1-4 2-21 1-28 2 98 1-90 2 0 1 2 2 14 1-44 2 21 1-41 2 67 1-81 2-34 1 79 2-28 2 20 1 48 2 13 1-29 2 30 1-45 2-47 1 73 2 65 1-34 2-24 1-19 2-38 1-10 2 85 1-27 2 26 1-15 2 48 1-36 2-12 1 14 2 32 1-97 2-33 1-10 2 44 1 32 2-67 1 31 2-20 1-68 2 90 2 36 1-49 2 61 1-21 2 2 1-64 2 54 1-25 2-37 1 40 2 34 1-63 2-34 1 73 2 46 1-101 2 3 1 24 2-12 1-9 2-18 1-52 2-30 1 58 2 30 1 15 2-61 1-20 2 103 1-2 2 14 1-67 2-42 1 31 2 38 2-9 1-22 2-3 1 55 2-1 1-27 2-10 1-12 2 47 1 13 2-17 1 112 2-40 1-55 2-22 1 17 2-10 1-36 2 10 1 57 2-41 1 64 2 5 1-108 2 9 1-20 2 2 1-3 2 20 1-18 2 20 1 53 2-31 2-2 1-29 2-35 1-36 2 83 1 4 2-55 1 51 2 46 1 7 2 13 1 6 2-85 1 31 2-10 1 46 2-91 1 67 2 60 1-50 2 29 1-16 2-72 1 64 2-68 1 53 2 106 1-45 2-1 1 43 2-124 1 32 2 82 2-32 1-51 2-35 1 35 2 33 1 11 2 46 1-35 2-24 1-58 2 70 1-74 2-30 1-10 2 44 1-7 2 35 1-34 2 28 1 53 2 2 1 29 2-47 1 18 2 40 1-110 2 26 1-39 2 59 1 0 2 41 1-25 2-8 1-68 2 135 2-7 1-69 2 98 1-45 2-4 1-20 2 27 1 11 2 57 1-19 2-18 1 20 2-88 1 2 2-37 1 3 2 62 1 9 2-5 1 17 2-49 1-11 2 36 1-19 2 48 1 14 2-61 1-33 2-22 1-32 2 39 1 37 2-11 2-30 1-29 2 38 1 12 2-34 1-10 2 22 1 41 2 6 1-8 2-10 1-3 2-39 1 11 2 25 1 21 2-21 1-22 2-12 1-17 2 43 1-38 2 57 1 75 2-59 1-48 2 36 1-6 2-39 1-26 2 38 1 19 2-39 2-45 1-62 2 41 1 8 2 62 1 10 2 106 1 28 2-94 1-31 2 23 1-58 2 18 1 20 2 21 1-3 2-73 1 34 2-70 1 6 2-22 1 27 2 75 1-26 2 48 1-58 2-24 1 25 2 47 1 27 2-44 1 26 2 100 2 9 1-84 2-38 1 28 2-8 1-1 2-105 1 80 2 29 1-26 2-20 1 22 2-38 1 2 2 35 1 13 2-10 1-8 2-29 1-42 2 34 1-32 2-13 1 49 2 93 1-28 2-33 1-52 2 94 1-53 2 5 1-33 2-44 1 4 2-12 2 13 1 70 2-21 1 20 2-13 1 78 2-61 1-26 2 7 1 13 2-47 1-7 2-17 1 4 2 33 1-6 2-21 1 40 2-11 1 5 2-42 1 21 2 22 1 36 2 18 1-30 2-54 1 85 2 15 1-35 2-29 1 32 2 42 2-6 1-39 2-19 1 27 2-26 1 24 2 12 1-41 2 14 1-17 2-5 1 36 2 27 1-22 2 8 1-57 2 10 1 16 2 51 1-5 2-43 1 40 2 41 1-50 2-44 1 20 2-8 1 15 2-5 1-54 2-22 1-66 2-12 2 34 1 39 2-24 1 12 2 10 1-14 2 21 1 44 2-23 1 30 2 24 1-29 2 29 1 34 2-101 1-15 2 24 1 3 2-2 1 23 2 16 1 34 2-50 1-57 2-31 1 30 2-44 1 29 2-16 1-35 2 54 1 7 2 19 1 39 2-11 2-36 1-44 2 58 1-1 2-57 1 62 2 10 1-59 2 43 1-13 2 10 1 71 2-40 1 69 2 33 1-82 2-32 1 17 2-31 1-19 2 11 1 74 2 38 1-61 2 0 1-27 2 52 1-23 2 82 1-51 2-22 1-31 2 88 2 37 1-11 2-44 1-92 2-17 1 82 2 8 1-58 2-12 1 88 2-20 1-10 2-18 1 29 2-4 1-22 2 30 1-26 2-12 1-1 2 38 1-12 2-15 1 47 2 41 1-32 2-35 1 34 2-17 1-60 2 123 1-28 2-1 2-10 1 10 2-13 1 10 2 26 1-33 2-75 1 34 2-21 1-31 2 67 1 30 2 28 1 0 2-50 1 36 2-59 1-67 2 66 1 3 2-26 1 73 2 78 1-35 2 12 1-16 2 28 1-8 2 6 1-30 2-52 1-1 2-7 2 51 1-72 2-31 1-26 2 40 1 54 2-14 1 48 2-11 1 0 2-2 1 58 2-62 1 55 2-20 1-7 2 63 1-58 2-5 1-70 2-43 1 78 2 82 1-17 2-50 1 5 2-72 1 22 2 37 1 2 2-19 1-40 2 34 1-5 2-20 2 18 1-4 2-29 1-6 2-14 1 43 2 61 1 27 2-8 1-41 2 23 1 16 2 0 1-35 2 9 1-52 2-1 1 6 2 46 1-65 2 14 1-14 2 2 1 36 2 22 1 18 2-35 1-13 2 65 1-37 2 63 1 1 2-75 2-1 1 17 2 105 1-66 2-16 1-10 2 34 1 4 2-28 1 53 2-70 1-41 2 51 1 24 2-25 1-18 2 26 1-9 2 26 1 40 2-69 1-25 2 44 1-20 2-22 1-61 2-28 1-7 2 49 1-38 2 67 1 32 2-107 2 56 1-51 2 43 1 20 2-80 1 109 2-15 1-31 2 32 1 31 2 12 1-129 2 87 1 21 2-10 1 32 2-74 1 23 2-7 1-15 2 28 1-35 2 51 1-34 2-46 1-35 2 56 1 50 2-109 1-29 2 103 1-56 2-7 1-18 2-49 2 34 1-3 2 40 1-59 2 5 1-30 2 16 1 93 2-15 1 1 2-22 1 31 2 10 1 4 2 24 1-36 2 7 1-68 2 23 1 71 2-38 1-64 2-43 1 56 2 22 1 9 2-28 1 15 2 108 1-70 2-34 1 50 2-11 2 5 1 27 2-32 1 35 2-15 1-37 2-28 1-53 2 32 1-4 2-8 1 50 2 77 1 18 2 39 1-50 2-100 1-18 2-72 1 37 2-64 1-20 2 26 1-18 2 85 1 78 2-13 1-55 2-9 1 3 2 25 1 38 2-15 2-18 1 44 2-52 1-49 2 122 1-10 2 59 1-5 2-19 1-43 2-20 1-21 2 10 1 43 2-12 1 24 2-29 1 21 2 13 1 68 2-42 1 10 2-34 1 13 2-68 1-21 2-33 1 80 2 6 1 20 2 31 1-25 2 29 1-100 2 43 2-4 1 50 2 18 1 22 2-52 1-22 2 16 1 37 2 15 1-24 2 54 1-17 2 73 1 14 2 2 1-14 2-76 1 85 2-1 1 21 2 43 1 8 2 39 1-55 2-46 1 48 2-30 1-8 2 86 1-42 2-1 1 15 2 7 2 51 1-14 2 28 1-97 2 3 1-73 2 6 1-16 2 19 1 6 2-29 1 0 2-37 1 44 2 10 1 30 2-109 1-53 2 18 1-12 2 31 1 8 2-86 1 13 2 14 1 22 2-20 1-19 2 38 1-1 2-34 1 3 2 23 2-29 1-2 2-1 1 20 2-22 1 6 2 40 1 4 2-36 1 20 2 23 1-77 2 53 1-2 2-74 1 23 2-2 1 47 2-20 1 50 2-81 1 3 2-39 1 29 2 49 1-1 2-81 1-11 2 17 1-35 2 95 1-3 2-56 2 44 1-29 2 14 1-66 2 1 1 17 2 31 1 29 2 47 1 22 2 48 1-45 2-42 1-98 2 16 1-42 2 84 1 31 2-13 1 40 2-49 1-28 2 28 1 20 2 21 1 23 2-83 1 17 2-52 1 60 2-76 1 48 2 15 1-26 2-25 2-37 1 42 2 54 1-65 2 34 1 54 2 43 1-12 2 73 1-41 2-14 1-86 2-28 1 27 2 98 1 10 2-14 1-51 2 50 1-14 2 34 1-86 2 26 1 23 2-31 1 27 2 16 1-16 2-2 1 5 2-82 1 14 2 33 2-65 1-4 2-34 1 50 2 18 1-24 2-19 1 36 2-67 1 81 2-22 1 15 2 16 1 8 2-107 1 61 2 78 1-65 2-2 1-6 2-7 1-52 2 75 1 29 2-22 1 34 2-5 1 53 2 5 1-59 2 123 1-65 2 70 2-149 1-47 2-37 1-37 2 83 1 5 2 52 1-27 2 22 1-21 2 29 1-6 2 29 1 11 2 12 1-5 2-26 1-60 2 47 1-39 2 50 1-67 2 19 1 45 2-8 1-48 2 4 1-8 2 18 1-82 2 6 1 32 2 18 1-70 2 29 2 26 1 57 2-37 1 38 2 3 1-90 2 63 1-31 2 45 1 60 2 0 1-9 2-7 1-7 2-8 1-12 2-54 1-10 2 43 1 7 2 10 1-45 2 70 1-28 2-29 1 15 2 17 1-21 2 61 1 8 2 24 1-45 2 29 2-12 1 69 2-12 1-77 2-13 1-61 2 125 1 67 2-141 1-34 2 59 1-60 2-24 1-11 2-6 1-5 2-8 1 12 2-9 1 17 2 16 1 17 2 17 1-14 2-26 1 6 2 2 1-71 2-52 1 43 2 55 1-61 2 91 2-76 1-43 2 44 1 1 2 48 1-21 2 43 1 27 2-44 1 7 2-25 1 2 2 14 1-34 2 39 1-42 2 12 1-50 2 21 1-29 2-22 1 25 2 64 1-45 2 48 1-33 2 61 1-5 2-16 1 10 2-22 1-37 2 15 1-5 2-55 2 1 1 2 2 47 1 47 2 9 1-46 2-2 1-23 2 62 1 59 2-39 1 77 2-51 1 26 2-47 1-43 2 43 1-63 2 1 1 20 2 32 1 16 2-12 1-54 2-2 1 60 2 45 1-51 2-12 1-45 2-18 1-24 2-26 2-4 1 18 2 103 1-42 2-32 1-3 2 65 1-22 2-37 1 4 2 32 1 88 2 12 1-109 2 19 1-29 2 28 1 57 2-67 1-7 2-39 1 38 2 64 1-67 2 32 1 6 2-9 1-28 2 10 1-38 2 50 1-27 2-34 2 53 1 65 2 3 1-51 2 2 1-13 2 22 1 88 2 7 1 26 2 24 1-52 2-76 1-31 2-4 1-12 2 26 1-58 2-10 1 8 2 111 1-63 2-37 1 29 2 79 1-50 2 12 1 5 2 2 1 2 2 38 1-39 2-52 2 16 1 60 2 10 1-11 2 0 1-20 2-2 1 12 2-10 1 48 2-26 1-34 2 4 1 4 2-92 1 30 2-47 1 84 2 58 1 58 2 14 1 3 2-24 1-24 2 7 1-22 2 24 1 14 2 17 1-25 2-80 1 98 2-61 1-43 2 14 2-23 1-51 2 63 1 1 2 30 1-2 2-6 1-1 2 10 1 14 2-59 1-50 2 17 1-12 2 43 1 25 2-9 1-42 2 15 1 71 2-53 1-77 2 23 1 97 2-7 1-77 2 56 1-4 2 18 1-9 2 102 1 7 2-17 2-42 1-12 2 41 1-4 2 35 1 6 2-14 1-45 2-80 1 38 2 23 1-11 2 88 1-73 2-43 1 43 2 6 1-81 2 15 1 31 2 23 1-72 2 11 1 48 2-23 1-66 2 62 1 82 2-85 1 4 2-34 1-8 2 77 2 55 1-82 2 37 1-24 2 32 1-57 2 30 1 36 2-73 1-20 2 16 1-41 2 71 1-54 2-47 1 5 2 43 1 50 2-6 1 48 2-32 1-5 2-3 1-10 2 40 1-16 2-6 1 58 2-89 1 26 2 17 1-45 2-19 1 93 2-90 2-43 1 45 2-12 1-11 2 52 1-7 2-13 1-42 2 108 1 9 2 22 1-78 2 39 1 24 2 11 1-32 2-26 1-22 2 17 1-4 2 21 1 19 2-2 1 28 2-115 1 19 2-4 1 19 2 3 1-82 2-54 1 50 2 31 2-60 1 80 2 3 1-21 2 42 1-33 2 62 1-49 2-57 1 65 2-16 1-76 2 51 1 2 2 16 1 56 2-24 1-87 2 30 1-40 2 148 1-33 2 76 1 3 2-45 1-65 2 36 1-64 2 34 1 26 2 68 1 35 2 3 2-28 1-86 2-58 1-5 2 45 1 10 2-33 1 80 2 13 1-37 2 45 1-87 2 4 1 1 2 14 1 26 2-19 1 36 2 25 1-2 2-60 1 58 2-39 1-33 2 35 1 36 2-22 1 41 2 66 1-85 2 51 1 6 2 1 2-21 1-45 2 13 1 12 2-27 1 24 2-24 1-36 2 0 1-51 2 2 1 16 2 138 1 3 2-55 1 43 2-16 1-38 2-35 1 17 2 22 1-11 2 93 1-29 2 23 1-10 2 42 1 47 2-43 1-55 2-22 1 53 2 21 1 17 2-53 2-62 1-17 2-10 1-63 2 31 1 26 2-26 1 91 2 36 1-20 2-88 1 68 2 1 1 25 2-42 1-29 2 2 1 22 2 9 1 61 2 15 1-55 2 88 1-121 2 32 1-30 2-66 1 142 2 26 1 9 2-25 1-71 2-75 2 53 1-42 2 34 1 24 2-28 1 51 2 60 1-63 2-3 1 5 2-11 1 88 2-50 1-83 2 26 1-8 2 1 1-37 2-3 1 123 2-46 1-36 2 98 1-13 2-52 1-57 2 38 1-93 2 21 1 25 2-7 1 5 2-15 2 66 1-30 2-19 1-101 2 40 1 44 2 42 1 6 2-6 1 57 2 29 1-24 2-13 1-81 2-34 1 19 2-25 1 38 2 50 1 47 2-38 1-46 2-44 1 106 2 5 1-19 2-8 1 69 2-39 1-15 2-57 1 52 2-83 1 59 2-86 2 22 1-28 2 34 1 59 2-71 1 29 2-35 1 49 2 33 1-10 2-70 1 41 2-94 1 32 2-41 1 95 2 16 1-38 2-40 1 41 2-85 1 87 2-7 1-59 2 2 1 12 2-20 1 61 2-25 1 71 2 40 1-67 2-33 2 20 1 64 2 13 1 13 2-68 1-82 2 83 1 8 2 9 1-12 2 4 1-9 2 110 1 8 2 3 1 1 2 32 1-14 2-4 1-45 2-11 1 40 2 37 1 36 2-13 1-16 2-28 1-52 2-8 1-31 2 9 1 5 2-29 2-6 1-78 2 65 1 60 2 86 1-54 2-63 1 30 2 41 1 43 2-8 1 84 2-80 1 27 2-41 1-76 2 97 1 7 2 25 1 17 2-58 1-39 2-10 1-5 2 35 1 6 2-25 1-20 2 46 1-10 2 35 1 59 2-92 1 10 2-2 2 23 1-9 2 23 1-31 2-53 1 50 2 43 1-12 2-9 1 3 2 51 1-38 2-10 1-11 2 17 1-20 2 5 1 26 2-28 1 9 2-26 1 4 2-14 1 62 2-16 1 52 2-94 1 1 2-13 1 21 2-12 1-1 2 12 2 63 1 9 2-40 1-40 2 16 1 13 2-7 1 8 2-50 1 75 2 13 1-74 2-17 1-100 2 71 1-41 2 7 1-50 2-15 1 95 2 36 1 16 2-111 1 15 2 67 1 71 2-38 1-16 2 10 1-30 2 65 1-30 2-38 2-26 1 46 2-16 1 11 2 84 1 41 2-92 1 12 2-57 1 25 2-41 1-63 2-66 1 50 2-46 1 14 2 168 1 71 2-84 1-74 2 28 1 10 2 39 1 18 2-68 1 35 2 24 1-39 2 32 1-18 2 10 1-8 2 7 2 60 1-70 2-40 1 0 2 29 1-58 2 52 1-19 2-24 1-28 2 28 1 14 2-69 1 56 2 67 1 38 2-28 1 8 2-53 1-55 2 76 1 46 2-33 1-30 2 39 1-11 2 55 1-77 2-64 1 1 2-5 1-14 2-20 1-15 2 11 2 3 1 87 2-17 1 31 2-14 1-5 2-11 1-19 2 1 1 23 2-78 1 24 2 5 1 26 2 30 1 30 2-20 1-12 2-27 1 15 2-45 1-11 2 105 1 49 2-3 1-37 2-34 1-17 2 27 1-60 2 84 1 15 2 20 2-29 1-23 2-6 1-19 2 18 1-49 2 55 1 19 2-34 1-6 2-18 1 5 2 59 1-31 2 24 1-53 2-12 1-5 2 16 1-39 2 11 1 63 2-69 1-67 2-5 1 19 2 65 1 17 2-34 1-14 2 8 1-21 2-61 2 34 1 0 2 2 1 9 2-16 1 49 2 50 1 12 2 12 1 2 2-54 1-32 2 54 1 77 2 39 1-51 2-28 1 26 2-44 1-57 2 7 1-24 2 86 1-32 2 17 1-19 2 49 1 3 2 2 1 18 2-46 1-19 2-6 1-54 2-21 2 4 1-8 2 6 1-14 2 21 1 46 2 2 1-13 2 45 1-8 2 9 1 12 2 2 1-32 2-32 1-59 2 25 1 1 2-12 1 101 2 40 1-57 2-27 1 24 2-41 1 30 2 43 1-39 2-20 1-34 2-86 1 60 2-7 2 45 1 9 2 16 1-53 2 39 1 66 2 97 1-109 2-24 1-50 2 38 1 57 2 16 1-64 2 43 1-33 2-39 1 85 2-78 1 7 2 2 1 21 2-26 1 35 2-44 1 12 2-8 1 42 2-43 1-3 2 49 1 5 2 9 2-16 1-20 2 75 1-26 2-48 1-5 2 22 1-17 2 59 1 27 2 12 1 16 2-29 1-14 2-16 1-27 2 28 1 9 2 61 1 23 2 34 1-72 2-11 1 41 2-5 1 28 2 46 1-74 2-31 1-58 2 27 1 27 2 25 1 25 2 0 2 15 1-1 2-34 1 8 2-81 1 36 2-39 1-46 2 64 1-23 2 5 1 71 2 18 1 103 2-22 1-48 2 10 1-21 2 15 1 5 2-3 1-1 2-1 1-42 2-87 1 62 2 2 1 18 2 17 1-15 2-5 1-57 2-20 2 43 1 71 2-26 1-34 2-9 1 25 2 17 1-5 2 6 1-8 2-30 1 23 2 52 1-31 2 10 1-28 2 10 1 56 2-23 1-26 2-51 1-25 2-8 1-6 2-32 1 67 2-61 1-34 2 15 1 51 2-59 1 38 2-6 2 7 1-14 2 30 1-32 2-6 1 23 2-33 1-4 2 23 1 6 2-28 1 64 2-29 1-14 2 40 1-1 2-74 1-16 2 44 1-5 2-2 1 25 2-2 1 0 2-1 1-76 2-57 1 13 2 25 1 58 2 15 1-9 2-23 2-82 1 26 2-55 1 16 2 1 1 24 2 100 1-3 2-28 1-42 2 23 1 3 2 21 1-24 2 15 1-48 2 38 1 23 2-7 1-59 2 12 1 5 2-23 1-5 2-27 1-16 2 16 1 70 2-31 1-28 2-44 1 44 2 48 1-17 2-5 2-18 1 14 2-7 1-6 2 81 1-79 2 5 1 62 2 25 1-36 2 39 1-28 2 4 1-5 2-16 1-88 2-2 1-49 2 82 1 21 2 25 1-42 2-61 1 13 2 86 1-6 2-45 1-50 2 46 1 12 2 43 1 56 2-16" stroke="#00ffff" stroke-width="25.0" stroke-linejoin="round"/>
<rect x="917.2" y="42.3" width="636.1" height="472.3"/>
<path d="M996.7,514.6 v-5.5 M1076.2,514.6 v-10 M1155.7,514.6 v-5.5 M1235.2,514.6 v-10 M1314.8,514.6 v-5.5 M1394.3,514.6 v-10 M1473.8,514.6 v-5.5 M917.2,467.4 h5.5 M917.2,420.1 h10 M917.2,372.9 h5.5 M917.2,325.7 h10 M917.2,278.5 h5.5 M917.2,231.2 h10 M917.2,184.0 h5.5 M917.2,136.8 h10 M917.2,89.5 h5.5"/>
<path d="M917.2,515.65 V504.2" stroke="#00ffff" stroke-width="2.3"/>
</g>
<g text-anchor="end">
<text x="906.0" y="521.6">0.0</text>
<text x="904.3" y="427.1">0.1</text>
<text x="904.3" y="332.7">0.2</text>
<text x="904.3" y="238.2">0.3</text>
<text x="904.3" y="143.8">0.4</text>
<text x="904.3" y="49.3">0.5</text>
</g>
<g text-anchor="middle">
<text x="917.4" y="540.6">0</text>
<text x="1076.9" y="543">10</text>
<text x="1234.8" y="544.3">20</text>
<text x="1395.3" y="543.8">30</text>
<text x="1551.8" y="543">40</text>
<text x="1226.8" y="577">Time(ns)</text>
</g>
<text transform="translate(854.7,279.5) rotate(-90)" text-anchor="middle">RMSD(nm)</text>
<text x="827.4" y="26.3" font-size="35.5">b</text>
<path d="M1109.2,373.8 H1159.9" stroke="#ff0000" stroke-width="2.2" stroke-linecap="round"/>
<text x="1167.3" y="381.9" font-size="23.9">PpAAT1-Benzyl alcohol-Acetyl-CoA</text>
<path d="M1109.2,401.8 H1159.9" stroke="#00ff00" stroke-width="2.2" stroke-linecap="round"/>
<text x="1169.1" y="409.1" font-size="23.9">PpAAT1-Propanol-Acetyl-CoA</text>
<path d="M1109.2,429.3 H1159.9" stroke="#0000ff" stroke-width="2.2" stroke-linecap="round"/>
<text x="1166.9" y="436.4" font-size="23.9">PpAAT1-Decanol-Acetyl-CoA</text>
<path d="M1109.2,457.1 H1159.9" stroke="#00ffff" stroke-width="2.2" stroke-linecap="round"/>
<text x="1169.1" y="464.1" font-size="23.9">PpAAT1-Hexanol-Acetyl-CoA</text>
<g stroke="#000" stroke-width="1.25" fill="url(#hatch)">
<rect x="98.1" y="771.1" width="36.5" height="307.9"/>
<rect x="143.6" y="771.1" width="36.5" height="92.3"/>
<rect x="189.0" y="771.1" width="36.5" height="182.6"/>
<rect x="234.5" y="771.1" width="36.5" height="117.5"/>
<rect x="280.0" y="771.1" width="36.5" height="9.5"/>
<rect x="325.4" y="771.1" width="36.5" height="8.7"/>
<rect x="370.9" y="771.1" width="36.5" height="299.8"/>
<rect x="416.4" y="771.1" width="36.5" height="78.2"/>
<rect x="461.9" y="771.1" width="36.5" height="378.5"/>
<rect x="507.3" y="771.1" width="36.5" height="296.3"/>
<rect x="552.8" y="771.1" width="36.5" height="9.0"/>
<rect x="598.3" y="771.1" width="36.5" height="283.8"/>
<rect x="643.7" y="771.1" width="36.5" height="242.4"/>
<rect x="689.2" y="771.1" width="36.5" height="171.3"/>
</g>
<g stroke="#000" stroke-width="2.1" fill="none">
<path d="M93.5,702.4 V1178.3 M92.45,771.1 H729.8 M93.5,703.4 h4.8 M93.5,838.8 h4.8 M93.5,906.5 h9.4 M93.5,974.2 h4.8 M93.5,1041.9 h9.4 M93.5,1109.6 h4.8 M93.5,1177.3 h9.4"/>
</g>
<g text-anchor="end">
<text x="83.6" y="779.3">0</text>
<text x="86.6" y="913.6">-5</text>
<text x="87.9" y="1049.1">-10</text>
<text x="86.1" y="1186.0">-15</text>
</g>
<text transform="translate(114.3,766.0) rotate(-45)">His165</text>
<text transform="translate(157.0,766.3) rotate(-45)">Ala170</text>
<text transform="translate(201.2,766.4) rotate(-45)">Ala174</text>
<text transform="translate(248.7,763.8) rotate(-45)">Leu177</text>
<text transform="translate(291.9,768.5) rotate(-45)">Ser262</text>
<text transform="translate(337.0,763.8) rotate(-45)">Phe264</text>
<text transform="translate(384.0,766.9) rotate(-45)">Lys298</text>
<text transform="translate(431.3,766.0) rotate(-45)">Phe314</text>
<text transform="translate(475.7,766.2) rotate(-45)">Arg339</text>
<text transform="translate(521.5,765.7) rotate(-45)">Lys342</text>
<text transform="translate(565.7,769.1) rotate(-45)">Ser375</text>
<text transform="translate(614.1,764.7) rotate(-45)">Asp376</text>
<text transform="translate(656.3,766.9) rotate(-45)">His379</text>
<text transform="translate(705.2,765.0) rotate(-45)">Phe382</text>
<text transform="translate(29,1009.8) rotate(-90)">Δ<tspan font-style="italic">G</tspan><tspan font-size="13.2" dy="8" style="stroke-width:0.15px">bind</tspan><tspan dy="-8">(kcal/mol)</tspan></text>
<text x="5.7" y="701.4" font-size="35.5">c</text>
<g stroke="#000" stroke-width="1.25">
<rect x="929.70" y="768.5" width="10.72" height="115.0" fill="#ff0000"/>
<rect x="940.42" y="768.5" width="10.72" height="94.9" fill="#00ff00"/>
<rect x="951.14" y="768.5" width="10.72" height="65.5" fill="#0000ff"/>
<rect x="961.86" y="768.5" width="10.72" height="144.6" fill="#00ffff"/>
<rect x="1000.30" y="768.5" width="10.72" height="5.6" fill="#ff0000"/>
<rect x="1011.02" y="768.5" width="10.72" height="6.5" fill="#00ff00"/>
<rect x="1021.74" y="768.5" width="10.72" height="4.4" fill="#0000ff"/>
<rect x="1032.46" y="768.5" width="10.72" height="7.4" fill="#00ffff"/>
<rect x="1070.90" y="768.5" width="10.72" height="95.5" fill="#ff0000"/>
<rect x="1081.62" y="768.5" width="10.72" height="60.0" fill="#00ff00"/>
<rect x="1092.34" y="768.5" width="10.72" height="94.9" fill="#0000ff"/>
<rect x="1103.06" y="768.5" width="10.72" height="127.4" fill="#00ffff"/>
<rect x="1141.50" y="768.5" width="10.72" height="340.4" fill="#ff0000"/>
<rect x="1152.22" y="768.5" width="10.72" height="334.4" fill="#00ff00"/>
<rect x="1162.94" y="768.5" width="10.72" height="258.1" fill="#0000ff"/>
<rect x="1173.66" y="768.5" width="10.72" height="408.1" fill="#00ffff"/>
<rect x="1212.10" y="768.5" width="10.72" height="156.1" fill="#ff0000"/>
<rect x="1222.82" y="768.5" width="10.72" height="105.0" fill="#00ff00"/>
<rect x="1233.54" y="768.5" width="10.72" height="183.6" fill="#0000ff"/>
<rect x="1244.26" y="768.5" width="10.72" height="206.1" fill="#00ffff"/>
<rect x="1282.70" y="768.5" width="10.72" height="122.1" fill="#ff0000"/>
<rect x="1293.42" y="768.5" width="10.72" height="118.0" fill="#00ff00"/>
<rect x="1304.14" y="768.5" width="10.72" height="93.1" fill="#0000ff"/>
<rect x="1314.86" y="768.5" width="10.72" height="175.6" fill="#00ffff"/>
<rect x="1353.30" y="768.5" width="10.72" height="106.5" fill="#ff0000"/>
<rect x="1364.02" y="768.5" width="10.72" height="209.1" fill="#00ff00"/>
<rect x="1374.74" y="768.5" width="10.72" height="138.4" fill="#0000ff"/>
<rect x="1385.46" y="768.5" width="10.72" height="236.9" fill="#00ffff"/>
<rect x="1423.90" y="768.5" width="10.72" height="32.5" fill="#ff0000"/>
<rect x="1434.62" y="768.5" width="10.72" height="58.0" fill="#00ff00"/>
<rect x="1445.34" y="768.5" width="10.72" height="44.4" fill="#0000ff"/>
<rect x="1456.06" y="768.5" width="10.72" height="173.0" fill="#00ffff"/>
<rect x="1494.50" y="768.5" width="10.72" height="165.0" fill="#ff0000"/>
<rect x="1505.22" y="768.5" width="10.72" height="46.4" fill="#00ff00"/>
<rect x="1515.94" y="768.5" width="10.72" height="76.6" fill="#0000ff"/>
<rect x="1526.66" y="768.5" width="10.72" height="236.6" fill="#00ffff"/>
</g>
<g stroke="#000" stroke-width="2.1" fill="none">
<path d="M916.0,737.9 V1213.1 M914.95,768.5 H1552 M916.0,738.9 h4.0 M916.0,798.1 h4.0 M916.0,827.6 h8.6 M916.0,857.2 h4.0 M916.0,886.8 h8.6 M916.0,916.4 h4.0 M916.0,945.9 h8.6 M916.0,975.5 h4.0 M916.0,1005.1 h8.6 M916.0,1034.6 h4.0 M916.0,1064.2 h8.6 M916.0,1093.8 h4.0 M916.0,1123.3 h8.6 M916.0,1152.9 h4.0 M916.0,1182.5 h8.6 M916.0,1212.0 h4.0"/>
</g>
<g text-anchor="end">
<text x="906.2" y="777.3">0</text>
<text x="909" y="835.1">-2</text>
<text x="907" y="894.8">-4</text>
<text x="909" y="953.9">-6</text>
<text x="907.2" y="1010.3">-8</text>
<text x="909" y="1071.2">-10</text>
<text x="906.4" y="1130.3">-12</text>
<text x="907.5" y="1189.5">-14</text>
</g>
<text transform="translate(943.8,761.8) rotate(-45)">Leu41</text>
<text transform="translate(1010.8,762.5) rotate(-45)">Phe43</text>
<text transform="translate(1083.3,762.5) rotate(-45)">Phe45</text>
<text transform="translate(1158.1,762.4) rotate(-45)">His165</text>
<text transform="translate(1222.2,762.4) rotate(-45)">Asp169</text>
<text transform="translate(1294.6,762.5) rotate(-45)">Phe314</text>
<text transform="translate(1366.6,762.6) rotate(-45)">Arg360</text>
<text transform="translate(1438.0,762.2) rotate(-45)">Arg362</text>
<text transform="translate(1506.7,762.7) rotate(-45)">Phe372</text>
<text transform="translate(863,1055) rotate(-90)">Δ<tspan font-style="italic">G</tspan><tspan font-size="13.2" dy="8" style="stroke-width:0.15px">bind</tspan><tspan dy="-8">(kcal/mol)</tspan></text>
<text x="824.1" y="699" font-size="35.5">d</text>
<rect x="1213.4" y="1098.7" width="49.6" height="23.9" fill="#ff0000" stroke="#000" stroke-width="1"/>
<text x="1270.1" y="1118.5" font-size="23.9">PpAAT1-Benzyl alcohol-Acetyl-CoA</text>
<rect x="1213.4" y="1126.5" width="49.6" height="23.9" fill="#00ff00" stroke="#000" stroke-width="1"/>
<text x="1272.1" y="1146.2" font-size="23.9">PpAAT1-Propanol-Acetyl-CoA</text>
<rect x="1213.4" y="1154.2" width="49.6" height="23.9" fill="#0000ff" stroke="#000" stroke-width="1"/>
<text x="1269.5" y="1173.5" font-size="23.9">PpAAT1-Decanol-Acetyl-CoA</text>
<rect x="1213.4" y="1181.6" width="49.6" height="23.9" fill="#00ffff" stroke="#000" stroke-width="1"/>
<text x="1272.0" y="1201.1" font-size="23.9">PpAAT1-Hexanol-Acetyl-CoA</text>
</svg>
</body></html>
